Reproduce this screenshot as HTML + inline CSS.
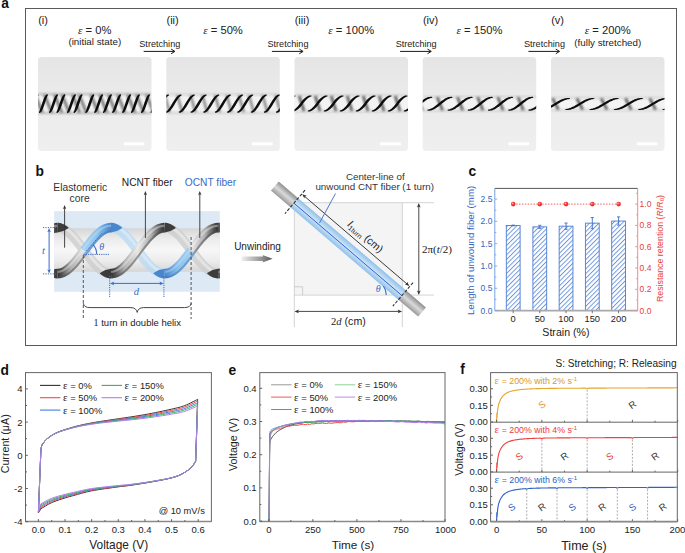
<!DOCTYPE html><html><head><meta charset="utf-8"><style>html,body{margin:0;padding:0;background:#fff;overflow:hidden}svg{display:block}</style></head><body>
<svg width="685" height="553" viewBox="0 0 685 553">
<defs>
<linearGradient id="photoBg" x1="0" y1="0" x2="0" y2="1">
 <stop offset="0" stop-color="#e5e5e5"/><stop offset="0.45" stop-color="#ebebeb"/><stop offset="1" stop-color="#efefef"/>
</linearGradient>
<linearGradient id="band" x1="0" y1="0" x2="0" y2="1">
 <stop offset="0" stop-color="#d8d8d8"/><stop offset="0.5" stop-color="#f4f4f4"/><stop offset="1" stop-color="#d8d8d8"/>
</linearGradient>
<filter id="blur1" x="-20%" y="-20%" width="140%" height="140%"><feGaussianBlur stdDeviation="0.9"/></filter>
<filter id="blur05"><feGaussianBlur stdDeviation="0.35"/></filter>
<linearGradient id="core" x1="0" y1="0" x2="0" y2="1">
 <stop offset="0" stop-color="#d6d6d6"/><stop offset="0.25" stop-color="#ececec"/><stop offset="0.5" stop-color="#f7f7f7"/><stop offset="0.75" stop-color="#ececec"/><stop offset="1" stop-color="#d6d6d6"/>
</linearGradient>
<linearGradient id="rodG" x1="0" y1="0" x2="1" y2="0">
 <stop offset="0" stop-color="#9a9a9a"/><stop offset="0.45" stop-color="#dcdcdc"/><stop offset="1" stop-color="#a8a8a8"/>
</linearGradient>
<linearGradient id="rodB" x1="0" y1="0" x2="1" y2="0">
 <stop offset="0" stop-color="#a9cdee"/><stop offset="0.45" stop-color="#d6e9f8"/><stop offset="1" stop-color="#a9cdee"/>
</linearGradient>
<linearGradient id="unw" x1="0" y1="0" x2="1" y2="0">
 <stop offset="0" stop-color="#f0f0f0"/><stop offset="0.7" stop-color="#8a8a8a"/><stop offset="1" stop-color="#555"/>
</linearGradient>
<pattern id="hatch" patternUnits="userSpaceOnUse" width="3.3" height="3.3" patternTransform="rotate(45)">
 <rect width="3.3" height="3.3" fill="#fff"/><rect x="0" y="0" width="0.95" height="3.3" fill="#6e96de"/>
</pattern>
</defs>
<rect width="685" height="553" fill="#fff"/>
<rect x="25.5" y="8.5" width="651" height="337" fill="none" stroke="#5a5a5a" stroke-width="1"/>
<text x="1.20" y="7.60" font-size="13.8" fill="#111" text-anchor="start" font-family='"Liberation Sans", sans-serif' font-weight="bold" font-style="normal" >a</text>
<text x="38.20" y="24.40" font-size="11" fill="#222" text-anchor="start" font-family='"Liberation Sans", sans-serif' font-weight="normal" font-style="normal" >(i)</text>
<text x="94.75" y="34" font-size="11.2" fill="#222" text-anchor="middle" font-family='"Liberation Sans", sans-serif'><tspan font-family='"Liberation Serif", serif' font-style="italic">ε</tspan> = 0%</text>
<text x="166.50" y="24.40" font-size="11" fill="#222" text-anchor="start" font-family='"Liberation Sans", sans-serif' font-weight="normal" font-style="normal" >(ii)</text>
<text x="223.05" y="34" font-size="11.2" fill="#222" text-anchor="middle" font-family='"Liberation Sans", sans-serif'><tspan font-family='"Liberation Serif", serif' font-style="italic">ε</tspan> = 50%</text>
<text x="139.30" y="47.00" font-size="9.1" fill="#222" text-anchor="start" font-family='"Liberation Sans", sans-serif' font-weight="normal" font-style="normal" >Stretching</text>
<line x1="143.70" y1="51.40" x2="174.40" y2="51.40" stroke="#1a1a1a" stroke-width="1.0" />
<path d="M171.10,49.10 L174.90,51.4 L171.10,53.70" stroke="#1a1a1a" stroke-width="1.0" fill="none"/>
<text x="294.70" y="24.40" font-size="11" fill="#222" text-anchor="start" font-family='"Liberation Sans", sans-serif' font-weight="normal" font-style="normal" >(iii)</text>
<text x="351.25" y="34" font-size="11.2" fill="#222" text-anchor="middle" font-family='"Liberation Sans", sans-serif'><tspan font-family='"Liberation Serif", serif' font-style="italic">ε</tspan> = 100%</text>
<text x="267.50" y="47.00" font-size="9.1" fill="#222" text-anchor="start" font-family='"Liberation Sans", sans-serif' font-weight="normal" font-style="normal" >Stretching</text>
<line x1="271.90" y1="51.40" x2="302.60" y2="51.40" stroke="#1a1a1a" stroke-width="1.0" />
<path d="M299.30,49.10 L303.10,51.4 L299.30,53.70" stroke="#1a1a1a" stroke-width="1.0" fill="none"/>
<text x="422.90" y="24.40" font-size="11" fill="#222" text-anchor="start" font-family='"Liberation Sans", sans-serif' font-weight="normal" font-style="normal" >(iv)</text>
<text x="479.45" y="34" font-size="11.2" fill="#222" text-anchor="middle" font-family='"Liberation Sans", sans-serif'><tspan font-family='"Liberation Serif", serif' font-style="italic">ε</tspan> = 150%</text>
<text x="395.70" y="47.00" font-size="9.1" fill="#222" text-anchor="start" font-family='"Liberation Sans", sans-serif' font-weight="normal" font-style="normal" >Stretching</text>
<line x1="400.10" y1="51.40" x2="430.80" y2="51.40" stroke="#1a1a1a" stroke-width="1.0" />
<path d="M427.50,49.10 L431.30,51.4 L427.50,53.70" stroke="#1a1a1a" stroke-width="1.0" fill="none"/>
<text x="551.20" y="24.40" font-size="11" fill="#222" text-anchor="start" font-family='"Liberation Sans", sans-serif' font-weight="normal" font-style="normal" >(v)</text>
<text x="607.75" y="34" font-size="11.2" fill="#222" text-anchor="middle" font-family='"Liberation Sans", sans-serif'><tspan font-family='"Liberation Serif", serif' font-style="italic">ε</tspan> = 200%</text>
<text x="524.00" y="47.00" font-size="9.1" fill="#222" text-anchor="start" font-family='"Liberation Sans", sans-serif' font-weight="normal" font-style="normal" >Stretching</text>
<line x1="528.40" y1="51.40" x2="559.10" y2="51.40" stroke="#1a1a1a" stroke-width="1.0" />
<path d="M555.80,49.10 L559.60,51.4 L555.80,53.70" stroke="#1a1a1a" stroke-width="1.0" fill="none"/>
<text x="94.80" y="45.30" font-size="9.8" fill="#222" text-anchor="middle" font-family='"Liberation Sans", sans-serif' font-weight="normal" font-style="normal" >(initial state)</text>
<text x="607.80" y="45.50" font-size="9.8" fill="#222" text-anchor="middle" font-family='"Liberation Sans", sans-serif' font-weight="normal" font-style="normal" >(fully stretched)</text>
<rect x="38" y="57" width="113.5" height="94" rx="3.5" fill="url(#photoBg)"/>
<clipPath id="pc0"><rect x="38" y="89.6" width="113.5" height="28.0"/></clipPath>
<g clip-path="url(#pc0)">
<rect x="38" y="93.6" width="113.5" height="20.0" fill="#f3f3f3"/>
<path d="M38,94.19999999999999 h113.5 M38,113.0 h113.5" stroke="#a8a8a8" stroke-width="1.6" filter="url(#blur1)" opacity="1.0"/>
<path d="M34.93,94.60 L42.38,112.60 M44.33,94.60 L51.78,112.60 M54.43,94.60 L61.88,112.60 M61.83,94.60 L69.28,112.60 M72.33,94.60 L79.78,112.60 M78.93,94.60 L86.38,112.60 M90.73,94.60 L98.18,112.60 M99.53,94.60 L106.98,112.60 M108.33,94.60 L115.78,112.60 M117.53,94.60 L124.98,112.60 M127.53,94.60 L134.98,112.60 M136.33,94.60 L143.78,112.60 M146.43,94.60 L153.88,112.60 M155.93,94.60 L163.38,112.60" stroke="#6a6a6a" stroke-width="3.0" fill="none" filter="url(#blur1)" opacity="0.85"/>
<path d="M29.91,112.93 L30.37,112.91 L30.81,112.67 L31.22,112.34 L31.62,111.92 L31.99,111.44 L32.36,110.89 L32.71,110.28 L33.05,109.62 L33.39,108.91 L33.71,108.16 L34.03,107.37 L34.34,106.56 L34.65,105.72 L34.94,104.87 L35.23,104.01 L35.52,103.16 L35.79,102.31 L36.06,101.48 L36.32,100.68 L36.58,99.91 L36.83,99.17 L37.07,98.48 L37.30,97.85 L37.52,97.27 L37.73,96.74 L37.92,96.29 L38.10,95.90 L38.26,95.56 L38.40,95.28 L38.51,94.93 L38.09,94.27 L37.63,94.29 L37.19,94.53 L36.78,94.86 L36.38,95.28 L36.01,95.76 L35.64,96.31 L35.29,96.92 L34.95,97.58 L34.61,98.29 L34.29,99.04 L33.97,99.83 L33.66,100.64 L33.35,101.48 L33.06,102.33 L32.77,103.19 L32.48,104.04 L32.21,104.89 L31.94,105.72 L31.68,106.52 L31.42,107.29 L31.17,108.03 L30.93,108.72 L30.70,109.35 L30.48,109.93 L30.27,110.46 L30.08,110.91 L29.90,111.30 L29.74,111.64 L29.60,111.92 L29.49,112.27 Z M39.31,112.93 L39.77,112.91 L40.21,112.67 L40.62,112.34 L41.02,111.92 L41.39,111.44 L41.76,110.89 L42.11,110.28 L42.45,109.62 L42.79,108.91 L43.11,108.16 L43.43,107.37 L43.74,106.56 L44.05,105.72 L44.34,104.87 L44.63,104.01 L44.92,103.16 L45.19,102.31 L45.46,101.48 L45.72,100.68 L45.98,99.91 L46.23,99.17 L46.47,98.48 L46.70,97.85 L46.92,97.27 L47.13,96.74 L47.32,96.29 L47.50,95.90 L47.66,95.56 L47.80,95.28 L47.91,94.93 L47.49,94.27 L47.03,94.29 L46.59,94.53 L46.18,94.86 L45.78,95.28 L45.41,95.76 L45.04,96.31 L44.69,96.92 L44.35,97.58 L44.01,98.29 L43.69,99.04 L43.37,99.83 L43.06,100.64 L42.75,101.48 L42.46,102.33 L42.17,103.19 L41.88,104.04 L41.61,104.89 L41.34,105.72 L41.08,106.52 L40.82,107.29 L40.57,108.03 L40.33,108.72 L40.10,109.35 L39.88,109.93 L39.67,110.46 L39.48,110.91 L39.30,111.30 L39.14,111.64 L39.00,111.92 L38.89,112.27 Z M49.41,112.93 L49.87,112.91 L50.31,112.67 L50.72,112.34 L51.12,111.92 L51.49,111.44 L51.86,110.89 L52.21,110.28 L52.55,109.62 L52.89,108.91 L53.21,108.16 L53.53,107.37 L53.84,106.56 L54.15,105.72 L54.44,104.87 L54.73,104.01 L55.02,103.16 L55.29,102.31 L55.56,101.48 L55.82,100.68 L56.08,99.91 L56.33,99.17 L56.57,98.48 L56.80,97.85 L57.02,97.27 L57.23,96.74 L57.42,96.29 L57.60,95.90 L57.76,95.56 L57.90,95.28 L58.01,94.93 L57.59,94.27 L57.13,94.29 L56.69,94.53 L56.28,94.86 L55.88,95.28 L55.51,95.76 L55.14,96.31 L54.79,96.92 L54.45,97.58 L54.11,98.29 L53.79,99.04 L53.47,99.83 L53.16,100.64 L52.85,101.48 L52.56,102.33 L52.27,103.19 L51.98,104.04 L51.71,104.89 L51.44,105.72 L51.18,106.52 L50.92,107.29 L50.67,108.03 L50.43,108.72 L50.20,109.35 L49.98,109.93 L49.77,110.46 L49.58,110.91 L49.40,111.30 L49.24,111.64 L49.10,111.92 L48.99,112.27 Z M56.81,112.93 L57.27,112.91 L57.71,112.67 L58.12,112.34 L58.52,111.92 L58.89,111.44 L59.26,110.89 L59.61,110.28 L59.95,109.62 L60.29,108.91 L60.61,108.16 L60.93,107.37 L61.24,106.56 L61.55,105.72 L61.84,104.87 L62.13,104.01 L62.42,103.16 L62.69,102.31 L62.96,101.48 L63.22,100.68 L63.48,99.91 L63.73,99.17 L63.97,98.48 L64.20,97.85 L64.42,97.27 L64.63,96.74 L64.82,96.29 L65.00,95.90 L65.16,95.56 L65.30,95.28 L65.41,94.93 L64.99,94.27 L64.53,94.29 L64.09,94.53 L63.68,94.86 L63.28,95.28 L62.91,95.76 L62.54,96.31 L62.19,96.92 L61.85,97.58 L61.51,98.29 L61.19,99.04 L60.87,99.83 L60.56,100.64 L60.25,101.48 L59.96,102.33 L59.67,103.19 L59.38,104.04 L59.11,104.89 L58.84,105.72 L58.58,106.52 L58.32,107.29 L58.07,108.03 L57.83,108.72 L57.60,109.35 L57.38,109.93 L57.17,110.46 L56.98,110.91 L56.80,111.30 L56.64,111.64 L56.50,111.92 L56.39,112.27 Z M67.31,112.93 L67.77,112.91 L68.21,112.67 L68.62,112.34 L69.02,111.92 L69.39,111.44 L69.76,110.89 L70.11,110.28 L70.45,109.62 L70.79,108.91 L71.11,108.16 L71.43,107.37 L71.74,106.56 L72.05,105.72 L72.34,104.87 L72.63,104.01 L72.92,103.16 L73.19,102.31 L73.46,101.48 L73.72,100.68 L73.98,99.91 L74.23,99.17 L74.47,98.48 L74.70,97.85 L74.92,97.27 L75.13,96.74 L75.32,96.29 L75.50,95.90 L75.66,95.56 L75.80,95.28 L75.91,94.93 L75.49,94.27 L75.03,94.29 L74.59,94.53 L74.18,94.86 L73.78,95.28 L73.41,95.76 L73.04,96.31 L72.69,96.92 L72.35,97.58 L72.01,98.29 L71.69,99.04 L71.37,99.83 L71.06,100.64 L70.75,101.48 L70.46,102.33 L70.17,103.19 L69.88,104.04 L69.61,104.89 L69.34,105.72 L69.08,106.52 L68.82,107.29 L68.57,108.03 L68.33,108.72 L68.10,109.35 L67.88,109.93 L67.67,110.46 L67.48,110.91 L67.30,111.30 L67.14,111.64 L67.00,111.92 L66.89,112.27 Z M73.91,112.93 L74.37,112.91 L74.81,112.67 L75.22,112.34 L75.62,111.92 L75.99,111.44 L76.36,110.89 L76.71,110.28 L77.05,109.62 L77.39,108.91 L77.71,108.16 L78.03,107.37 L78.34,106.56 L78.65,105.72 L78.94,104.87 L79.23,104.01 L79.52,103.16 L79.79,102.31 L80.06,101.48 L80.32,100.68 L80.58,99.91 L80.83,99.17 L81.07,98.48 L81.30,97.85 L81.52,97.27 L81.73,96.74 L81.92,96.29 L82.10,95.90 L82.26,95.56 L82.40,95.28 L82.51,94.93 L82.09,94.27 L81.63,94.29 L81.19,94.53 L80.78,94.86 L80.38,95.28 L80.01,95.76 L79.64,96.31 L79.29,96.92 L78.95,97.58 L78.61,98.29 L78.29,99.04 L77.97,99.83 L77.66,100.64 L77.35,101.48 L77.06,102.33 L76.77,103.19 L76.48,104.04 L76.21,104.89 L75.94,105.72 L75.68,106.52 L75.42,107.29 L75.17,108.03 L74.93,108.72 L74.70,109.35 L74.48,109.93 L74.27,110.46 L74.08,110.91 L73.90,111.30 L73.74,111.64 L73.60,111.92 L73.49,112.27 Z M85.71,112.93 L86.17,112.91 L86.61,112.67 L87.02,112.34 L87.42,111.92 L87.79,111.44 L88.16,110.89 L88.51,110.28 L88.85,109.62 L89.19,108.91 L89.51,108.16 L89.83,107.37 L90.14,106.56 L90.45,105.72 L90.74,104.87 L91.03,104.01 L91.32,103.16 L91.59,102.31 L91.86,101.48 L92.12,100.68 L92.38,99.91 L92.63,99.17 L92.87,98.48 L93.10,97.85 L93.32,97.27 L93.53,96.74 L93.72,96.29 L93.90,95.90 L94.06,95.56 L94.20,95.28 L94.31,94.93 L93.89,94.27 L93.43,94.29 L92.99,94.53 L92.58,94.86 L92.18,95.28 L91.81,95.76 L91.44,96.31 L91.09,96.92 L90.75,97.58 L90.41,98.29 L90.09,99.04 L89.77,99.83 L89.46,100.64 L89.15,101.48 L88.86,102.33 L88.57,103.19 L88.28,104.04 L88.01,104.89 L87.74,105.72 L87.48,106.52 L87.22,107.29 L86.97,108.03 L86.73,108.72 L86.50,109.35 L86.28,109.93 L86.07,110.46 L85.88,110.91 L85.70,111.30 L85.54,111.64 L85.40,111.92 L85.29,112.27 Z M94.51,112.93 L94.97,112.91 L95.41,112.67 L95.82,112.34 L96.22,111.92 L96.59,111.44 L96.96,110.89 L97.31,110.28 L97.65,109.62 L97.99,108.91 L98.31,108.16 L98.63,107.37 L98.94,106.56 L99.25,105.72 L99.54,104.87 L99.83,104.01 L100.12,103.16 L100.39,102.31 L100.66,101.48 L100.92,100.68 L101.18,99.91 L101.43,99.17 L101.67,98.48 L101.90,97.85 L102.12,97.27 L102.33,96.74 L102.52,96.29 L102.70,95.90 L102.86,95.56 L103.00,95.28 L103.11,94.93 L102.69,94.27 L102.23,94.29 L101.79,94.53 L101.38,94.86 L100.98,95.28 L100.61,95.76 L100.24,96.31 L99.89,96.92 L99.55,97.58 L99.21,98.29 L98.89,99.04 L98.57,99.83 L98.26,100.64 L97.95,101.48 L97.66,102.33 L97.37,103.19 L97.08,104.04 L96.81,104.89 L96.54,105.72 L96.28,106.52 L96.02,107.29 L95.77,108.03 L95.53,108.72 L95.30,109.35 L95.08,109.93 L94.87,110.46 L94.68,110.91 L94.50,111.30 L94.34,111.64 L94.20,111.92 L94.09,112.27 Z M103.31,112.93 L103.77,112.91 L104.21,112.67 L104.62,112.34 L105.02,111.92 L105.39,111.44 L105.76,110.89 L106.11,110.28 L106.45,109.62 L106.79,108.91 L107.11,108.16 L107.43,107.37 L107.74,106.56 L108.05,105.72 L108.34,104.87 L108.63,104.01 L108.92,103.16 L109.19,102.31 L109.46,101.48 L109.72,100.68 L109.98,99.91 L110.23,99.17 L110.47,98.48 L110.70,97.85 L110.92,97.27 L111.13,96.74 L111.32,96.29 L111.50,95.90 L111.66,95.56 L111.80,95.28 L111.91,94.93 L111.49,94.27 L111.03,94.29 L110.59,94.53 L110.18,94.86 L109.78,95.28 L109.41,95.76 L109.04,96.31 L108.69,96.92 L108.35,97.58 L108.01,98.29 L107.69,99.04 L107.37,99.83 L107.06,100.64 L106.75,101.48 L106.46,102.33 L106.17,103.19 L105.88,104.04 L105.61,104.89 L105.34,105.72 L105.08,106.52 L104.82,107.29 L104.57,108.03 L104.33,108.72 L104.10,109.35 L103.88,109.93 L103.67,110.46 L103.48,110.91 L103.30,111.30 L103.14,111.64 L103.00,111.92 L102.89,112.27 Z M112.51,112.93 L112.97,112.91 L113.41,112.67 L113.82,112.34 L114.22,111.92 L114.59,111.44 L114.96,110.89 L115.31,110.28 L115.65,109.62 L115.99,108.91 L116.31,108.16 L116.63,107.37 L116.94,106.56 L117.25,105.72 L117.54,104.87 L117.83,104.01 L118.12,103.16 L118.39,102.31 L118.66,101.48 L118.92,100.68 L119.18,99.91 L119.43,99.17 L119.67,98.48 L119.90,97.85 L120.12,97.27 L120.33,96.74 L120.52,96.29 L120.70,95.90 L120.86,95.56 L121.00,95.28 L121.11,94.93 L120.69,94.27 L120.23,94.29 L119.79,94.53 L119.38,94.86 L118.98,95.28 L118.61,95.76 L118.24,96.31 L117.89,96.92 L117.55,97.58 L117.21,98.29 L116.89,99.04 L116.57,99.83 L116.26,100.64 L115.95,101.48 L115.66,102.33 L115.37,103.19 L115.08,104.04 L114.81,104.89 L114.54,105.72 L114.28,106.52 L114.02,107.29 L113.77,108.03 L113.53,108.72 L113.30,109.35 L113.08,109.93 L112.87,110.46 L112.68,110.91 L112.50,111.30 L112.34,111.64 L112.20,111.92 L112.09,112.27 Z M122.51,112.93 L122.97,112.91 L123.41,112.67 L123.82,112.34 L124.22,111.92 L124.59,111.44 L124.96,110.89 L125.31,110.28 L125.65,109.62 L125.99,108.91 L126.31,108.16 L126.63,107.37 L126.94,106.56 L127.25,105.72 L127.54,104.87 L127.83,104.01 L128.12,103.16 L128.39,102.31 L128.66,101.48 L128.92,100.68 L129.18,99.91 L129.43,99.17 L129.67,98.48 L129.90,97.85 L130.12,97.27 L130.33,96.74 L130.52,96.29 L130.70,95.90 L130.86,95.56 L131.00,95.28 L131.11,94.93 L130.69,94.27 L130.23,94.29 L129.79,94.53 L129.38,94.86 L128.98,95.28 L128.61,95.76 L128.24,96.31 L127.89,96.92 L127.55,97.58 L127.21,98.29 L126.89,99.04 L126.57,99.83 L126.26,100.64 L125.95,101.48 L125.66,102.33 L125.37,103.19 L125.08,104.04 L124.81,104.89 L124.54,105.72 L124.28,106.52 L124.02,107.29 L123.77,108.03 L123.53,108.72 L123.30,109.35 L123.08,109.93 L122.87,110.46 L122.68,110.91 L122.50,111.30 L122.34,111.64 L122.20,111.92 L122.09,112.27 Z M131.31,112.93 L131.77,112.91 L132.21,112.67 L132.62,112.34 L133.02,111.92 L133.39,111.44 L133.76,110.89 L134.11,110.28 L134.45,109.62 L134.79,108.91 L135.11,108.16 L135.43,107.37 L135.74,106.56 L136.05,105.72 L136.34,104.87 L136.63,104.01 L136.92,103.16 L137.19,102.31 L137.46,101.48 L137.72,100.68 L137.98,99.91 L138.23,99.17 L138.47,98.48 L138.70,97.85 L138.92,97.27 L139.13,96.74 L139.32,96.29 L139.50,95.90 L139.66,95.56 L139.80,95.28 L139.91,94.93 L139.49,94.27 L139.03,94.29 L138.59,94.53 L138.18,94.86 L137.78,95.28 L137.41,95.76 L137.04,96.31 L136.69,96.92 L136.35,97.58 L136.01,98.29 L135.69,99.04 L135.37,99.83 L135.06,100.64 L134.75,101.48 L134.46,102.33 L134.17,103.19 L133.88,104.04 L133.61,104.89 L133.34,105.72 L133.08,106.52 L132.82,107.29 L132.57,108.03 L132.33,108.72 L132.10,109.35 L131.88,109.93 L131.67,110.46 L131.48,110.91 L131.30,111.30 L131.14,111.64 L131.00,111.92 L130.89,112.27 Z M141.41,112.93 L141.87,112.91 L142.31,112.67 L142.72,112.34 L143.12,111.92 L143.49,111.44 L143.86,110.89 L144.21,110.28 L144.55,109.62 L144.89,108.91 L145.21,108.16 L145.53,107.37 L145.84,106.56 L146.15,105.72 L146.44,104.87 L146.73,104.01 L147.02,103.16 L147.29,102.31 L147.56,101.48 L147.82,100.68 L148.08,99.91 L148.33,99.17 L148.57,98.48 L148.80,97.85 L149.02,97.27 L149.23,96.74 L149.42,96.29 L149.60,95.90 L149.76,95.56 L149.90,95.28 L150.01,94.93 L149.59,94.27 L149.13,94.29 L148.69,94.53 L148.28,94.86 L147.88,95.28 L147.51,95.76 L147.14,96.31 L146.79,96.92 L146.45,97.58 L146.11,98.29 L145.79,99.04 L145.47,99.83 L145.16,100.64 L144.85,101.48 L144.56,102.33 L144.27,103.19 L143.98,104.04 L143.71,104.89 L143.44,105.72 L143.18,106.52 L142.92,107.29 L142.67,108.03 L142.43,108.72 L142.20,109.35 L141.98,109.93 L141.77,110.46 L141.58,110.91 L141.40,111.30 L141.24,111.64 L141.10,111.92 L140.99,112.27 Z M150.91,112.93 L151.37,112.91 L151.81,112.67 L152.22,112.34 L152.62,111.92 L152.99,111.44 L153.36,110.89 L153.71,110.28 L154.05,109.62 L154.39,108.91 L154.71,108.16 L155.03,107.37 L155.34,106.56 L155.65,105.72 L155.94,104.87 L156.23,104.01 L156.52,103.16 L156.79,102.31 L157.06,101.48 L157.32,100.68 L157.58,99.91 L157.83,99.17 L158.07,98.48 L158.30,97.85 L158.52,97.27 L158.73,96.74 L158.92,96.29 L159.10,95.90 L159.26,95.56 L159.40,95.28 L159.51,94.93 L159.09,94.27 L158.63,94.29 L158.19,94.53 L157.78,94.86 L157.38,95.28 L157.01,95.76 L156.64,96.31 L156.29,96.92 L155.95,97.58 L155.61,98.29 L155.29,99.04 L154.97,99.83 L154.66,100.64 L154.35,101.48 L154.06,102.33 L153.77,103.19 L153.48,104.04 L153.21,104.89 L152.94,105.72 L152.68,106.52 L152.42,107.29 L152.17,108.03 L151.93,108.72 L151.70,109.35 L151.48,109.93 L151.27,110.46 L151.08,110.91 L150.90,111.30 L150.74,111.64 L150.60,111.92 L150.49,112.27 Z" fill="#0a0a0a" filter="url(#blur05)"/>
</g>
<rect x="123.80" y="142.3" width="20.5" height="3.1" fill="#fff"/>
<rect x="166.3" y="57" width="113.5" height="94" rx="3.5" fill="url(#photoBg)"/>
<clipPath id="pc1"><rect x="166.3" y="90.0" width="113.5" height="27.200000000000003"/></clipPath>
<g clip-path="url(#pc1)">
<rect x="166.3" y="94.0" width="113.5" height="19.200000000000003" fill="#f3f3f3"/>
<path d="M166.3,94.6 h113.5 M166.3,112.60000000000001 h113.5" stroke="#a8a8a8" stroke-width="1.6" filter="url(#blur1)" opacity="0.45"/>
<path d="M164.69,95.00 L169.61,112.20 M177.29,95.00 L182.21,112.20 M190.49,95.00 L195.41,112.20 M202.29,95.00 L207.21,112.20 M214.99,95.00 L219.91,112.20 M226.59,95.00 L231.51,112.20 M238.79,95.00 L243.71,112.20 M248.89,95.00 L253.81,112.20 M262.49,95.00 L267.41,112.20 M275.59,95.00 L280.51,112.20 M287.69,95.00 L292.61,112.20" stroke="#707070" stroke-width="2.4" fill="none" filter="url(#blur1)" opacity="0.85"/>
<path d="M153.03,112.57 L153.64,112.74 L154.30,112.69 L154.97,112.50 L155.63,112.19 L156.28,111.78 L156.91,111.28 L157.53,110.70 L158.13,110.05 L158.72,109.33 L159.30,108.57 L159.88,107.75 L160.44,106.91 L160.99,106.03 L161.54,105.14 L162.08,104.24 L162.60,103.34 L163.13,102.45 L163.64,101.59 L164.14,100.76 L164.64,99.97 L165.12,99.22 L165.60,98.54 L166.06,97.91 L166.51,97.36 L166.95,96.88 L167.37,96.47 L167.77,96.14 L168.17,95.86 L168.57,95.64 L169.03,95.37 L168.97,94.63 L168.36,94.46 L167.70,94.51 L167.03,94.70 L166.37,95.01 L165.72,95.42 L165.09,95.92 L164.47,96.50 L163.87,97.15 L163.28,97.87 L162.70,98.63 L162.12,99.45 L161.56,100.29 L161.01,101.17 L160.46,102.06 L159.92,102.96 L159.40,103.86 L158.87,104.75 L158.36,105.61 L157.86,106.44 L157.36,107.23 L156.88,107.98 L156.40,108.66 L155.94,109.29 L155.49,109.84 L155.05,110.32 L154.63,110.73 L154.23,111.06 L153.83,111.34 L153.43,111.56 L152.97,111.83 Z M165.63,112.57 L166.24,112.74 L166.90,112.69 L167.57,112.50 L168.23,112.19 L168.88,111.78 L169.51,111.28 L170.13,110.70 L170.73,110.05 L171.32,109.33 L171.90,108.57 L172.48,107.75 L173.04,106.91 L173.59,106.03 L174.14,105.14 L174.68,104.24 L175.20,103.34 L175.73,102.45 L176.24,101.59 L176.74,100.76 L177.24,99.97 L177.72,99.22 L178.20,98.54 L178.66,97.91 L179.11,97.36 L179.55,96.88 L179.97,96.47 L180.37,96.14 L180.77,95.86 L181.17,95.64 L181.63,95.37 L181.57,94.63 L180.96,94.46 L180.30,94.51 L179.63,94.70 L178.97,95.01 L178.32,95.42 L177.69,95.92 L177.07,96.50 L176.47,97.15 L175.88,97.87 L175.30,98.63 L174.72,99.45 L174.16,100.29 L173.61,101.17 L173.06,102.06 L172.52,102.96 L172.00,103.86 L171.47,104.75 L170.96,105.61 L170.46,106.44 L169.96,107.23 L169.48,107.98 L169.00,108.66 L168.54,109.29 L168.09,109.84 L167.65,110.32 L167.23,110.73 L166.83,111.06 L166.43,111.34 L166.03,111.56 L165.57,111.83 Z M178.83,112.57 L179.44,112.74 L180.10,112.69 L180.77,112.50 L181.43,112.19 L182.08,111.78 L182.71,111.28 L183.33,110.70 L183.93,110.05 L184.52,109.33 L185.10,108.57 L185.68,107.75 L186.24,106.91 L186.79,106.03 L187.34,105.14 L187.88,104.24 L188.40,103.34 L188.93,102.45 L189.44,101.59 L189.94,100.76 L190.44,99.97 L190.92,99.22 L191.40,98.54 L191.86,97.91 L192.31,97.36 L192.75,96.88 L193.17,96.47 L193.57,96.14 L193.97,95.86 L194.37,95.64 L194.83,95.37 L194.77,94.63 L194.16,94.46 L193.50,94.51 L192.83,94.70 L192.17,95.01 L191.52,95.42 L190.89,95.92 L190.27,96.50 L189.67,97.15 L189.08,97.87 L188.50,98.63 L187.92,99.45 L187.36,100.29 L186.81,101.17 L186.26,102.06 L185.72,102.96 L185.20,103.86 L184.67,104.75 L184.16,105.61 L183.66,106.44 L183.16,107.23 L182.68,107.98 L182.20,108.66 L181.74,109.29 L181.29,109.84 L180.85,110.32 L180.43,110.73 L180.03,111.06 L179.63,111.34 L179.23,111.56 L178.77,111.83 Z M190.63,112.57 L191.24,112.74 L191.90,112.69 L192.57,112.50 L193.23,112.19 L193.88,111.78 L194.51,111.28 L195.13,110.70 L195.73,110.05 L196.32,109.33 L196.90,108.57 L197.48,107.75 L198.04,106.91 L198.59,106.03 L199.14,105.14 L199.68,104.24 L200.20,103.34 L200.73,102.45 L201.24,101.59 L201.74,100.76 L202.24,99.97 L202.72,99.22 L203.20,98.54 L203.66,97.91 L204.11,97.36 L204.55,96.88 L204.97,96.47 L205.37,96.14 L205.77,95.86 L206.17,95.64 L206.63,95.37 L206.57,94.63 L205.96,94.46 L205.30,94.51 L204.63,94.70 L203.97,95.01 L203.32,95.42 L202.69,95.92 L202.07,96.50 L201.47,97.15 L200.88,97.87 L200.30,98.63 L199.72,99.45 L199.16,100.29 L198.61,101.17 L198.06,102.06 L197.52,102.96 L197.00,103.86 L196.47,104.75 L195.96,105.61 L195.46,106.44 L194.96,107.23 L194.48,107.98 L194.00,108.66 L193.54,109.29 L193.09,109.84 L192.65,110.32 L192.23,110.73 L191.83,111.06 L191.43,111.34 L191.03,111.56 L190.57,111.83 Z M203.33,112.57 L203.94,112.74 L204.60,112.69 L205.27,112.50 L205.93,112.19 L206.58,111.78 L207.21,111.28 L207.83,110.70 L208.43,110.05 L209.02,109.33 L209.60,108.57 L210.18,107.75 L210.74,106.91 L211.29,106.03 L211.84,105.14 L212.38,104.24 L212.90,103.34 L213.43,102.45 L213.94,101.59 L214.44,100.76 L214.94,99.97 L215.42,99.22 L215.90,98.54 L216.36,97.91 L216.81,97.36 L217.25,96.88 L217.67,96.47 L218.07,96.14 L218.47,95.86 L218.87,95.64 L219.33,95.37 L219.27,94.63 L218.66,94.46 L218.00,94.51 L217.33,94.70 L216.67,95.01 L216.02,95.42 L215.39,95.92 L214.77,96.50 L214.17,97.15 L213.58,97.87 L213.00,98.63 L212.42,99.45 L211.86,100.29 L211.31,101.17 L210.76,102.06 L210.22,102.96 L209.70,103.86 L209.17,104.75 L208.66,105.61 L208.16,106.44 L207.66,107.23 L207.18,107.98 L206.70,108.66 L206.24,109.29 L205.79,109.84 L205.35,110.32 L204.93,110.73 L204.53,111.06 L204.13,111.34 L203.73,111.56 L203.27,111.83 Z M214.93,112.57 L215.54,112.74 L216.20,112.69 L216.87,112.50 L217.53,112.19 L218.18,111.78 L218.81,111.28 L219.43,110.70 L220.03,110.05 L220.62,109.33 L221.20,108.57 L221.78,107.75 L222.34,106.91 L222.89,106.03 L223.44,105.14 L223.98,104.24 L224.50,103.34 L225.03,102.45 L225.54,101.59 L226.04,100.76 L226.54,99.97 L227.02,99.22 L227.50,98.54 L227.96,97.91 L228.41,97.36 L228.85,96.88 L229.27,96.47 L229.67,96.14 L230.07,95.86 L230.47,95.64 L230.93,95.37 L230.87,94.63 L230.26,94.46 L229.60,94.51 L228.93,94.70 L228.27,95.01 L227.62,95.42 L226.99,95.92 L226.37,96.50 L225.77,97.15 L225.18,97.87 L224.60,98.63 L224.02,99.45 L223.46,100.29 L222.91,101.17 L222.36,102.06 L221.82,102.96 L221.30,103.86 L220.77,104.75 L220.26,105.61 L219.76,106.44 L219.26,107.23 L218.78,107.98 L218.30,108.66 L217.84,109.29 L217.39,109.84 L216.95,110.32 L216.53,110.73 L216.13,111.06 L215.73,111.34 L215.33,111.56 L214.87,111.83 Z M227.13,112.57 L227.74,112.74 L228.40,112.69 L229.07,112.50 L229.73,112.19 L230.38,111.78 L231.01,111.28 L231.63,110.70 L232.23,110.05 L232.82,109.33 L233.40,108.57 L233.98,107.75 L234.54,106.91 L235.09,106.03 L235.64,105.14 L236.18,104.24 L236.70,103.34 L237.23,102.45 L237.74,101.59 L238.24,100.76 L238.74,99.97 L239.22,99.22 L239.70,98.54 L240.16,97.91 L240.61,97.36 L241.05,96.88 L241.47,96.47 L241.87,96.14 L242.27,95.86 L242.67,95.64 L243.13,95.37 L243.07,94.63 L242.46,94.46 L241.80,94.51 L241.13,94.70 L240.47,95.01 L239.82,95.42 L239.19,95.92 L238.57,96.50 L237.97,97.15 L237.38,97.87 L236.80,98.63 L236.22,99.45 L235.66,100.29 L235.11,101.17 L234.56,102.06 L234.02,102.96 L233.50,103.86 L232.97,104.75 L232.46,105.61 L231.96,106.44 L231.46,107.23 L230.98,107.98 L230.50,108.66 L230.04,109.29 L229.59,109.84 L229.15,110.32 L228.73,110.73 L228.33,111.06 L227.93,111.34 L227.53,111.56 L227.07,111.83 Z M237.23,112.57 L237.84,112.74 L238.50,112.69 L239.17,112.50 L239.83,112.19 L240.48,111.78 L241.11,111.28 L241.73,110.70 L242.33,110.05 L242.92,109.33 L243.50,108.57 L244.08,107.75 L244.64,106.91 L245.19,106.03 L245.74,105.14 L246.28,104.24 L246.80,103.34 L247.33,102.45 L247.84,101.59 L248.34,100.76 L248.84,99.97 L249.32,99.22 L249.80,98.54 L250.26,97.91 L250.71,97.36 L251.15,96.88 L251.57,96.47 L251.97,96.14 L252.37,95.86 L252.77,95.64 L253.23,95.37 L253.17,94.63 L252.56,94.46 L251.90,94.51 L251.23,94.70 L250.57,95.01 L249.92,95.42 L249.29,95.92 L248.67,96.50 L248.07,97.15 L247.48,97.87 L246.90,98.63 L246.32,99.45 L245.76,100.29 L245.21,101.17 L244.66,102.06 L244.12,102.96 L243.60,103.86 L243.07,104.75 L242.56,105.61 L242.06,106.44 L241.56,107.23 L241.08,107.98 L240.60,108.66 L240.14,109.29 L239.69,109.84 L239.25,110.32 L238.83,110.73 L238.43,111.06 L238.03,111.34 L237.63,111.56 L237.17,111.83 Z M250.83,112.57 L251.44,112.74 L252.10,112.69 L252.77,112.50 L253.43,112.19 L254.08,111.78 L254.71,111.28 L255.33,110.70 L255.93,110.05 L256.52,109.33 L257.10,108.57 L257.68,107.75 L258.24,106.91 L258.79,106.03 L259.34,105.14 L259.88,104.24 L260.40,103.34 L260.93,102.45 L261.44,101.59 L261.94,100.76 L262.44,99.97 L262.92,99.22 L263.40,98.54 L263.86,97.91 L264.31,97.36 L264.75,96.88 L265.17,96.47 L265.57,96.14 L265.97,95.86 L266.37,95.64 L266.83,95.37 L266.77,94.63 L266.16,94.46 L265.50,94.51 L264.83,94.70 L264.17,95.01 L263.52,95.42 L262.89,95.92 L262.27,96.50 L261.67,97.15 L261.08,97.87 L260.50,98.63 L259.92,99.45 L259.36,100.29 L258.81,101.17 L258.26,102.06 L257.72,102.96 L257.20,103.86 L256.67,104.75 L256.16,105.61 L255.66,106.44 L255.16,107.23 L254.68,107.98 L254.20,108.66 L253.74,109.29 L253.29,109.84 L252.85,110.32 L252.43,110.73 L252.03,111.06 L251.63,111.34 L251.23,111.56 L250.77,111.83 Z M263.93,112.57 L264.54,112.74 L265.20,112.69 L265.87,112.50 L266.53,112.19 L267.18,111.78 L267.81,111.28 L268.43,110.70 L269.03,110.05 L269.62,109.33 L270.20,108.57 L270.78,107.75 L271.34,106.91 L271.89,106.03 L272.44,105.14 L272.98,104.24 L273.50,103.34 L274.03,102.45 L274.54,101.59 L275.04,100.76 L275.54,99.97 L276.02,99.22 L276.50,98.54 L276.96,97.91 L277.41,97.36 L277.85,96.88 L278.27,96.47 L278.67,96.14 L279.07,95.86 L279.47,95.64 L279.93,95.37 L279.87,94.63 L279.26,94.46 L278.60,94.51 L277.93,94.70 L277.27,95.01 L276.62,95.42 L275.99,95.92 L275.37,96.50 L274.77,97.15 L274.18,97.87 L273.60,98.63 L273.02,99.45 L272.46,100.29 L271.91,101.17 L271.36,102.06 L270.82,102.96 L270.30,103.86 L269.77,104.75 L269.26,105.61 L268.76,106.44 L268.26,107.23 L267.78,107.98 L267.30,108.66 L266.84,109.29 L266.39,109.84 L265.95,110.32 L265.53,110.73 L265.13,111.06 L264.73,111.34 L264.33,111.56 L263.87,111.83 Z M276.03,112.57 L276.64,112.74 L277.30,112.69 L277.97,112.50 L278.63,112.19 L279.28,111.78 L279.91,111.28 L280.53,110.70 L281.13,110.05 L281.72,109.33 L282.30,108.57 L282.88,107.75 L283.44,106.91 L283.99,106.03 L284.54,105.14 L285.08,104.24 L285.60,103.34 L286.13,102.45 L286.64,101.59 L287.14,100.76 L287.64,99.97 L288.12,99.22 L288.60,98.54 L289.06,97.91 L289.51,97.36 L289.95,96.88 L290.37,96.47 L290.77,96.14 L291.17,95.86 L291.57,95.64 L292.03,95.37 L291.97,94.63 L291.36,94.46 L290.70,94.51 L290.03,94.70 L289.37,95.01 L288.72,95.42 L288.09,95.92 L287.47,96.50 L286.87,97.15 L286.28,97.87 L285.70,98.63 L285.12,99.45 L284.56,100.29 L284.01,101.17 L283.46,102.06 L282.92,102.96 L282.40,103.86 L281.87,104.75 L281.36,105.61 L280.86,106.44 L280.36,107.23 L279.88,107.98 L279.40,108.66 L278.94,109.29 L278.49,109.84 L278.05,110.32 L277.63,110.73 L277.23,111.06 L276.83,111.34 L276.43,111.56 L275.97,111.83 Z" fill="#0a0a0a" filter="url(#blur05)"/>
</g>
<rect x="252.10" y="142.3" width="20.5" height="3.1" fill="#fff"/>
<rect x="294.5" y="57" width="113.5" height="94" rx="3.5" fill="url(#photoBg)"/>
<clipPath id="pc2"><rect x="294.5" y="91.0" width="113.5" height="25.0"/></clipPath>
<g clip-path="url(#pc2)">
<rect x="294.5" y="95.0" width="113.5" height="17.0" fill="#f3f3f3"/>
<path d="M294.5,95.6 h113.5 M294.5,111.4 h113.5" stroke="#a8a8a8" stroke-width="1.6" filter="url(#blur1)" opacity="0.5"/>
<path d="M283.20,96.00 L288.00,111.00 M299.20,96.00 L304.00,111.00 M315.20,96.00 L320.00,111.00 M331.20,96.00 L336.00,111.00 M347.20,96.00 L352.00,111.00 M363.20,96.00 L368.00,111.00 M379.20,96.00 L384.00,111.00 M395.20,96.00 L400.00,111.00 M411.20,96.00 L416.00,111.00 M427.20,96.00 L432.00,111.00" stroke="#4a4a4a" stroke-width="2.8" fill="none" filter="url(#blur1)" opacity="0.85"/>
<path d="M275.62,111.36 L276.33,111.54 L277.08,111.52 L277.84,111.41 L278.61,111.19 L279.37,110.89 L280.12,110.52 L280.87,110.07 L281.61,109.55 L282.34,108.96 L283.06,108.33 L283.77,107.63 L284.48,106.88 L285.19,106.08 L285.90,105.19 L286.59,104.17 L287.23,103.22 L287.85,102.43 L288.48,101.67 L289.11,100.96 L289.73,100.29 L290.34,99.67 L290.94,99.10 L291.53,98.58 L292.12,98.12 L292.70,97.72 L293.27,97.37 L293.84,97.07 L294.41,96.82 L295.00,96.61 L295.62,96.36 L295.58,95.64 L294.87,95.46 L294.12,95.48 L293.36,95.59 L292.59,95.81 L291.83,96.11 L291.08,96.48 L290.33,96.93 L289.59,97.45 L288.86,98.04 L288.14,98.67 L287.43,99.37 L286.72,100.12 L286.01,100.92 L285.30,101.81 L284.61,102.83 L283.97,103.78 L283.35,104.57 L282.72,105.33 L282.09,106.04 L281.47,106.71 L280.86,107.33 L280.26,107.90 L279.67,108.42 L279.08,108.88 L278.50,109.28 L277.93,109.63 L277.36,109.93 L276.79,110.18 L276.20,110.39 L275.58,110.64 Z M291.62,111.36 L292.33,111.54 L293.08,111.52 L293.84,111.41 L294.61,111.19 L295.37,110.89 L296.12,110.52 L296.87,110.07 L297.61,109.55 L298.34,108.96 L299.06,108.33 L299.77,107.63 L300.48,106.88 L301.19,106.08 L301.90,105.19 L302.59,104.17 L303.23,103.22 L303.85,102.43 L304.48,101.67 L305.11,100.96 L305.73,100.29 L306.34,99.67 L306.94,99.10 L307.53,98.58 L308.12,98.12 L308.70,97.72 L309.27,97.37 L309.84,97.07 L310.41,96.82 L311.00,96.61 L311.62,96.36 L311.58,95.64 L310.87,95.46 L310.12,95.48 L309.36,95.59 L308.59,95.81 L307.83,96.11 L307.08,96.48 L306.33,96.93 L305.59,97.45 L304.86,98.04 L304.14,98.67 L303.43,99.37 L302.72,100.12 L302.01,100.92 L301.30,101.81 L300.61,102.83 L299.97,103.78 L299.35,104.57 L298.72,105.33 L298.09,106.04 L297.47,106.71 L296.86,107.33 L296.26,107.90 L295.67,108.42 L295.08,108.88 L294.50,109.28 L293.93,109.63 L293.36,109.93 L292.79,110.18 L292.20,110.39 L291.58,110.64 Z M307.62,111.36 L308.33,111.54 L309.08,111.52 L309.84,111.41 L310.61,111.19 L311.37,110.89 L312.12,110.52 L312.87,110.07 L313.61,109.55 L314.34,108.96 L315.06,108.33 L315.77,107.63 L316.48,106.88 L317.19,106.08 L317.90,105.19 L318.59,104.17 L319.23,103.22 L319.85,102.43 L320.48,101.67 L321.11,100.96 L321.73,100.29 L322.34,99.67 L322.94,99.10 L323.53,98.58 L324.12,98.12 L324.70,97.72 L325.27,97.37 L325.84,97.07 L326.41,96.82 L327.00,96.61 L327.62,96.36 L327.58,95.64 L326.87,95.46 L326.12,95.48 L325.36,95.59 L324.59,95.81 L323.83,96.11 L323.08,96.48 L322.33,96.93 L321.59,97.45 L320.86,98.04 L320.14,98.67 L319.43,99.37 L318.72,100.12 L318.01,100.92 L317.30,101.81 L316.61,102.83 L315.97,103.78 L315.35,104.57 L314.72,105.33 L314.09,106.04 L313.47,106.71 L312.86,107.33 L312.26,107.90 L311.67,108.42 L311.08,108.88 L310.50,109.28 L309.93,109.63 L309.36,109.93 L308.79,110.18 L308.20,110.39 L307.58,110.64 Z M323.62,111.36 L324.33,111.54 L325.08,111.52 L325.84,111.41 L326.61,111.19 L327.37,110.89 L328.12,110.52 L328.87,110.07 L329.61,109.55 L330.34,108.96 L331.06,108.33 L331.77,107.63 L332.48,106.88 L333.19,106.08 L333.90,105.19 L334.59,104.17 L335.23,103.22 L335.85,102.43 L336.48,101.67 L337.11,100.96 L337.73,100.29 L338.34,99.67 L338.94,99.10 L339.53,98.58 L340.12,98.12 L340.70,97.72 L341.27,97.37 L341.84,97.07 L342.41,96.82 L343.00,96.61 L343.62,96.36 L343.58,95.64 L342.87,95.46 L342.12,95.48 L341.36,95.59 L340.59,95.81 L339.83,96.11 L339.08,96.48 L338.33,96.93 L337.59,97.45 L336.86,98.04 L336.14,98.67 L335.43,99.37 L334.72,100.12 L334.01,100.92 L333.30,101.81 L332.61,102.83 L331.97,103.78 L331.35,104.57 L330.72,105.33 L330.09,106.04 L329.47,106.71 L328.86,107.33 L328.26,107.90 L327.67,108.42 L327.08,108.88 L326.50,109.28 L325.93,109.63 L325.36,109.93 L324.79,110.18 L324.20,110.39 L323.58,110.64 Z M339.62,111.36 L340.33,111.54 L341.08,111.52 L341.84,111.41 L342.61,111.19 L343.37,110.89 L344.12,110.52 L344.87,110.07 L345.61,109.55 L346.34,108.96 L347.06,108.33 L347.77,107.63 L348.48,106.88 L349.19,106.08 L349.90,105.19 L350.59,104.17 L351.23,103.22 L351.85,102.43 L352.48,101.67 L353.11,100.96 L353.73,100.29 L354.34,99.67 L354.94,99.10 L355.53,98.58 L356.12,98.12 L356.70,97.72 L357.27,97.37 L357.84,97.07 L358.41,96.82 L359.00,96.61 L359.62,96.36 L359.58,95.64 L358.87,95.46 L358.12,95.48 L357.36,95.59 L356.59,95.81 L355.83,96.11 L355.08,96.48 L354.33,96.93 L353.59,97.45 L352.86,98.04 L352.14,98.67 L351.43,99.37 L350.72,100.12 L350.01,100.92 L349.30,101.81 L348.61,102.83 L347.97,103.78 L347.35,104.57 L346.72,105.33 L346.09,106.04 L345.47,106.71 L344.86,107.33 L344.26,107.90 L343.67,108.42 L343.08,108.88 L342.50,109.28 L341.93,109.63 L341.36,109.93 L340.79,110.18 L340.20,110.39 L339.58,110.64 Z M355.62,111.36 L356.33,111.54 L357.08,111.52 L357.84,111.41 L358.61,111.19 L359.37,110.89 L360.12,110.52 L360.87,110.07 L361.61,109.55 L362.34,108.96 L363.06,108.33 L363.77,107.63 L364.48,106.88 L365.19,106.08 L365.90,105.19 L366.59,104.17 L367.23,103.22 L367.85,102.43 L368.48,101.67 L369.11,100.96 L369.73,100.29 L370.34,99.67 L370.94,99.10 L371.53,98.58 L372.12,98.12 L372.70,97.72 L373.27,97.37 L373.84,97.07 L374.41,96.82 L375.00,96.61 L375.62,96.36 L375.58,95.64 L374.87,95.46 L374.12,95.48 L373.36,95.59 L372.59,95.81 L371.83,96.11 L371.08,96.48 L370.33,96.93 L369.59,97.45 L368.86,98.04 L368.14,98.67 L367.43,99.37 L366.72,100.12 L366.01,100.92 L365.30,101.81 L364.61,102.83 L363.97,103.78 L363.35,104.57 L362.72,105.33 L362.09,106.04 L361.47,106.71 L360.86,107.33 L360.26,107.90 L359.67,108.42 L359.08,108.88 L358.50,109.28 L357.93,109.63 L357.36,109.93 L356.79,110.18 L356.20,110.39 L355.58,110.64 Z M371.62,111.36 L372.33,111.54 L373.08,111.52 L373.84,111.41 L374.61,111.19 L375.37,110.89 L376.12,110.52 L376.87,110.07 L377.61,109.55 L378.34,108.96 L379.06,108.33 L379.77,107.63 L380.48,106.88 L381.19,106.08 L381.90,105.19 L382.59,104.17 L383.23,103.22 L383.85,102.43 L384.48,101.67 L385.11,100.96 L385.73,100.29 L386.34,99.67 L386.94,99.10 L387.53,98.58 L388.12,98.12 L388.70,97.72 L389.27,97.37 L389.84,97.07 L390.41,96.82 L391.00,96.61 L391.62,96.36 L391.58,95.64 L390.87,95.46 L390.12,95.48 L389.36,95.59 L388.59,95.81 L387.83,96.11 L387.08,96.48 L386.33,96.93 L385.59,97.45 L384.86,98.04 L384.14,98.67 L383.43,99.37 L382.72,100.12 L382.01,100.92 L381.30,101.81 L380.61,102.83 L379.97,103.78 L379.35,104.57 L378.72,105.33 L378.09,106.04 L377.47,106.71 L376.86,107.33 L376.26,107.90 L375.67,108.42 L375.08,108.88 L374.50,109.28 L373.93,109.63 L373.36,109.93 L372.79,110.18 L372.20,110.39 L371.58,110.64 Z M387.62,111.36 L388.33,111.54 L389.08,111.52 L389.84,111.41 L390.61,111.19 L391.37,110.89 L392.12,110.52 L392.87,110.07 L393.61,109.55 L394.34,108.96 L395.06,108.33 L395.77,107.63 L396.48,106.88 L397.19,106.08 L397.90,105.19 L398.59,104.17 L399.23,103.22 L399.85,102.43 L400.48,101.67 L401.11,100.96 L401.73,100.29 L402.34,99.67 L402.94,99.10 L403.53,98.58 L404.12,98.12 L404.70,97.72 L405.27,97.37 L405.84,97.07 L406.41,96.82 L407.00,96.61 L407.62,96.36 L407.58,95.64 L406.87,95.46 L406.12,95.48 L405.36,95.59 L404.59,95.81 L403.83,96.11 L403.08,96.48 L402.33,96.93 L401.59,97.45 L400.86,98.04 L400.14,98.67 L399.43,99.37 L398.72,100.12 L398.01,100.92 L397.30,101.81 L396.61,102.83 L395.97,103.78 L395.35,104.57 L394.72,105.33 L394.09,106.04 L393.47,106.71 L392.86,107.33 L392.26,107.90 L391.67,108.42 L391.08,108.88 L390.50,109.28 L389.93,109.63 L389.36,109.93 L388.79,110.18 L388.20,110.39 L387.58,110.64 Z M403.62,111.36 L404.33,111.54 L405.08,111.52 L405.84,111.41 L406.61,111.19 L407.37,110.89 L408.12,110.52 L408.87,110.07 L409.61,109.55 L410.34,108.96 L411.06,108.33 L411.77,107.63 L412.48,106.88 L413.19,106.08 L413.90,105.19 L414.59,104.17 L415.23,103.22 L415.85,102.43 L416.48,101.67 L417.11,100.96 L417.73,100.29 L418.34,99.67 L418.94,99.10 L419.53,98.58 L420.12,98.12 L420.70,97.72 L421.27,97.37 L421.84,97.07 L422.41,96.82 L423.00,96.61 L423.62,96.36 L423.58,95.64 L422.87,95.46 L422.12,95.48 L421.36,95.59 L420.59,95.81 L419.83,96.11 L419.08,96.48 L418.33,96.93 L417.59,97.45 L416.86,98.04 L416.14,98.67 L415.43,99.37 L414.72,100.12 L414.01,100.92 L413.30,101.81 L412.61,102.83 L411.97,103.78 L411.35,104.57 L410.72,105.33 L410.09,106.04 L409.47,106.71 L408.86,107.33 L408.26,107.90 L407.67,108.42 L407.08,108.88 L406.50,109.28 L405.93,109.63 L405.36,109.93 L404.79,110.18 L404.20,110.39 L403.58,110.64 Z M419.62,111.36 L420.33,111.54 L421.08,111.52 L421.84,111.41 L422.61,111.19 L423.37,110.89 L424.12,110.52 L424.87,110.07 L425.61,109.55 L426.34,108.96 L427.06,108.33 L427.77,107.63 L428.48,106.88 L429.19,106.08 L429.90,105.19 L430.59,104.17 L431.23,103.22 L431.85,102.43 L432.48,101.67 L433.11,100.96 L433.73,100.29 L434.34,99.67 L434.94,99.10 L435.53,98.58 L436.12,98.12 L436.70,97.72 L437.27,97.37 L437.84,97.07 L438.41,96.82 L439.00,96.61 L439.62,96.36 L439.58,95.64 L438.87,95.46 L438.12,95.48 L437.36,95.59 L436.59,95.81 L435.83,96.11 L435.08,96.48 L434.33,96.93 L433.59,97.45 L432.86,98.04 L432.14,98.67 L431.43,99.37 L430.72,100.12 L430.01,100.92 L429.30,101.81 L428.61,102.83 L427.97,103.78 L427.35,104.57 L426.72,105.33 L426.09,106.04 L425.47,106.71 L424.86,107.33 L424.26,107.90 L423.67,108.42 L423.08,108.88 L422.50,109.28 L421.93,109.63 L421.36,109.93 L420.79,110.18 L420.20,110.39 L419.58,110.64 Z" fill="#0a0a0a" filter="url(#blur05)"/>
</g>
<rect x="380.30" y="142.3" width="20.5" height="3.1" fill="#fff"/>
<rect x="422.7" y="57" width="113.5" height="94" rx="3.5" fill="url(#photoBg)"/>
<clipPath id="pc3"><rect x="422.7" y="92.3" width="113.5" height="22.900000000000006"/></clipPath>
<g clip-path="url(#pc3)">
<rect x="422.7" y="96.3" width="113.5" height="14.900000000000006" fill="#f3f3f3"/>
<path d="M422.7,96.89999999999999 h113.5 M422.7,110.60000000000001 h113.5" stroke="#a8a8a8" stroke-width="1.6" filter="url(#blur1)" opacity="0.5"/>
<path d="M396.87,97.30 L402.13,110.20 M417.07,97.30 L422.33,110.20 M437.27,97.30 L442.53,110.20 M457.47,97.30 L462.73,110.20 M477.67,97.30 L482.93,110.20 M497.87,97.30 L503.13,110.20 M518.07,97.30 L523.33,110.20 M538.27,97.30 L543.53,110.20" stroke="#4a4a4a" stroke-width="2.8" fill="none" filter="url(#blur1)" opacity="0.85"/>
<path d="M387.01,110.54 L387.88,110.72 L388.78,110.71 L389.68,110.61 L390.59,110.42 L391.50,110.15 L392.40,109.81 L393.30,109.40 L394.19,108.94 L395.08,108.42 L395.96,107.86 L396.82,107.26 L397.69,106.64 L398.54,105.98 L399.39,105.32 L400.22,104.64 L401.05,103.97 L401.87,103.30 L402.69,102.65 L403.49,102.02 L404.29,101.41 L405.08,100.84 L405.86,100.31 L406.63,99.82 L407.40,99.37 L408.16,98.98 L408.92,98.63 L409.68,98.34 L410.44,98.09 L411.21,97.89 L412.01,97.64 L411.99,96.96 L411.12,96.78 L410.22,96.79 L409.32,96.89 L408.41,97.08 L407.50,97.35 L406.60,97.69 L405.70,98.10 L404.81,98.56 L403.92,99.08 L403.04,99.64 L402.18,100.24 L401.31,100.86 L400.46,101.52 L399.61,102.18 L398.78,102.86 L397.95,103.53 L397.13,104.20 L396.31,104.85 L395.51,105.48 L394.71,106.09 L393.92,106.66 L393.14,107.19 L392.37,107.68 L391.60,108.13 L390.84,108.52 L390.08,108.87 L389.32,109.16 L388.56,109.41 L387.79,109.61 L386.99,109.86 Z M407.21,110.54 L408.08,110.72 L408.98,110.71 L409.88,110.61 L410.79,110.42 L411.70,110.15 L412.60,109.81 L413.50,109.40 L414.39,108.94 L415.28,108.42 L416.16,107.86 L417.02,107.26 L417.89,106.64 L418.74,105.98 L419.59,105.32 L420.42,104.64 L421.25,103.97 L422.07,103.30 L422.89,102.65 L423.69,102.02 L424.49,101.41 L425.28,100.84 L426.06,100.31 L426.83,99.82 L427.60,99.37 L428.36,98.98 L429.12,98.63 L429.88,98.34 L430.64,98.09 L431.41,97.89 L432.21,97.64 L432.19,96.96 L431.32,96.78 L430.42,96.79 L429.52,96.89 L428.61,97.08 L427.70,97.35 L426.80,97.69 L425.90,98.10 L425.01,98.56 L424.12,99.08 L423.24,99.64 L422.38,100.24 L421.51,100.86 L420.66,101.52 L419.81,102.18 L418.98,102.86 L418.15,103.53 L417.33,104.20 L416.51,104.85 L415.71,105.48 L414.91,106.09 L414.12,106.66 L413.34,107.19 L412.57,107.68 L411.80,108.13 L411.04,108.52 L410.28,108.87 L409.52,109.16 L408.76,109.41 L407.99,109.61 L407.19,109.86 Z M427.41,110.54 L428.28,110.72 L429.18,110.71 L430.08,110.61 L430.99,110.42 L431.90,110.15 L432.80,109.81 L433.70,109.40 L434.59,108.94 L435.48,108.42 L436.36,107.86 L437.22,107.26 L438.09,106.64 L438.94,105.98 L439.79,105.32 L440.62,104.64 L441.45,103.97 L442.27,103.30 L443.09,102.65 L443.89,102.02 L444.69,101.41 L445.48,100.84 L446.26,100.31 L447.03,99.82 L447.80,99.37 L448.56,98.98 L449.32,98.63 L450.08,98.34 L450.84,98.09 L451.61,97.89 L452.41,97.64 L452.39,96.96 L451.52,96.78 L450.62,96.79 L449.72,96.89 L448.81,97.08 L447.90,97.35 L447.00,97.69 L446.10,98.10 L445.21,98.56 L444.32,99.08 L443.44,99.64 L442.58,100.24 L441.71,100.86 L440.86,101.52 L440.01,102.18 L439.18,102.86 L438.35,103.53 L437.53,104.20 L436.71,104.85 L435.91,105.48 L435.11,106.09 L434.32,106.66 L433.54,107.19 L432.77,107.68 L432.00,108.13 L431.24,108.52 L430.48,108.87 L429.72,109.16 L428.96,109.41 L428.19,109.61 L427.39,109.86 Z M447.61,110.54 L448.48,110.72 L449.38,110.71 L450.28,110.61 L451.19,110.42 L452.10,110.15 L453.00,109.81 L453.90,109.40 L454.79,108.94 L455.68,108.42 L456.56,107.86 L457.42,107.26 L458.29,106.64 L459.14,105.98 L459.99,105.32 L460.82,104.64 L461.65,103.97 L462.47,103.30 L463.29,102.65 L464.09,102.02 L464.89,101.41 L465.68,100.84 L466.46,100.31 L467.23,99.82 L468.00,99.37 L468.76,98.98 L469.52,98.63 L470.28,98.34 L471.04,98.09 L471.81,97.89 L472.61,97.64 L472.59,96.96 L471.72,96.78 L470.82,96.79 L469.92,96.89 L469.01,97.08 L468.10,97.35 L467.20,97.69 L466.30,98.10 L465.41,98.56 L464.52,99.08 L463.64,99.64 L462.78,100.24 L461.91,100.86 L461.06,101.52 L460.21,102.18 L459.38,102.86 L458.55,103.53 L457.73,104.20 L456.91,104.85 L456.11,105.48 L455.31,106.09 L454.52,106.66 L453.74,107.19 L452.97,107.68 L452.20,108.13 L451.44,108.52 L450.68,108.87 L449.92,109.16 L449.16,109.41 L448.39,109.61 L447.59,109.86 Z M467.81,110.54 L468.68,110.72 L469.58,110.71 L470.48,110.61 L471.39,110.42 L472.30,110.15 L473.20,109.81 L474.10,109.40 L474.99,108.94 L475.88,108.42 L476.76,107.86 L477.62,107.26 L478.49,106.64 L479.34,105.98 L480.19,105.32 L481.02,104.64 L481.85,103.97 L482.67,103.30 L483.49,102.65 L484.29,102.02 L485.09,101.41 L485.88,100.84 L486.66,100.31 L487.43,99.82 L488.20,99.37 L488.96,98.98 L489.72,98.63 L490.48,98.34 L491.24,98.09 L492.01,97.89 L492.81,97.64 L492.79,96.96 L491.92,96.78 L491.02,96.79 L490.12,96.89 L489.21,97.08 L488.30,97.35 L487.40,97.69 L486.50,98.10 L485.61,98.56 L484.72,99.08 L483.84,99.64 L482.98,100.24 L482.11,100.86 L481.26,101.52 L480.41,102.18 L479.58,102.86 L478.75,103.53 L477.93,104.20 L477.11,104.85 L476.31,105.48 L475.51,106.09 L474.72,106.66 L473.94,107.19 L473.17,107.68 L472.40,108.13 L471.64,108.52 L470.88,108.87 L470.12,109.16 L469.36,109.41 L468.59,109.61 L467.79,109.86 Z M488.01,110.54 L488.88,110.72 L489.78,110.71 L490.68,110.61 L491.59,110.42 L492.50,110.15 L493.40,109.81 L494.30,109.40 L495.19,108.94 L496.08,108.42 L496.96,107.86 L497.82,107.26 L498.69,106.64 L499.54,105.98 L500.39,105.32 L501.22,104.64 L502.05,103.97 L502.87,103.30 L503.69,102.65 L504.49,102.02 L505.29,101.41 L506.08,100.84 L506.86,100.31 L507.63,99.82 L508.40,99.37 L509.16,98.98 L509.92,98.63 L510.68,98.34 L511.44,98.09 L512.21,97.89 L513.01,97.64 L512.99,96.96 L512.12,96.78 L511.22,96.79 L510.32,96.89 L509.41,97.08 L508.50,97.35 L507.60,97.69 L506.70,98.10 L505.81,98.56 L504.92,99.08 L504.04,99.64 L503.18,100.24 L502.31,100.86 L501.46,101.52 L500.61,102.18 L499.78,102.86 L498.95,103.53 L498.13,104.20 L497.31,104.85 L496.51,105.48 L495.71,106.09 L494.92,106.66 L494.14,107.19 L493.37,107.68 L492.60,108.13 L491.84,108.52 L491.08,108.87 L490.32,109.16 L489.56,109.41 L488.79,109.61 L487.99,109.86 Z M508.21,110.54 L509.08,110.72 L509.98,110.71 L510.88,110.61 L511.79,110.42 L512.70,110.15 L513.60,109.81 L514.50,109.40 L515.39,108.94 L516.28,108.42 L517.16,107.86 L518.02,107.26 L518.89,106.64 L519.74,105.98 L520.59,105.32 L521.42,104.64 L522.25,103.97 L523.07,103.30 L523.89,102.65 L524.69,102.02 L525.49,101.41 L526.28,100.84 L527.06,100.31 L527.83,99.82 L528.60,99.37 L529.36,98.98 L530.12,98.63 L530.88,98.34 L531.64,98.09 L532.41,97.89 L533.21,97.64 L533.19,96.96 L532.32,96.78 L531.42,96.79 L530.52,96.89 L529.61,97.08 L528.70,97.35 L527.80,97.69 L526.90,98.10 L526.01,98.56 L525.12,99.08 L524.24,99.64 L523.38,100.24 L522.51,100.86 L521.66,101.52 L520.81,102.18 L519.98,102.86 L519.15,103.53 L518.33,104.20 L517.51,104.85 L516.71,105.48 L515.91,106.09 L515.12,106.66 L514.34,107.19 L513.57,107.68 L512.80,108.13 L512.04,108.52 L511.28,108.87 L510.52,109.16 L509.76,109.41 L508.99,109.61 L508.19,109.86 Z M528.41,110.54 L529.28,110.72 L530.18,110.71 L531.08,110.61 L531.99,110.42 L532.90,110.15 L533.80,109.81 L534.70,109.40 L535.59,108.94 L536.48,108.42 L537.36,107.86 L538.22,107.26 L539.09,106.64 L539.94,105.98 L540.79,105.32 L541.62,104.64 L542.45,103.97 L543.27,103.30 L544.09,102.65 L544.89,102.02 L545.69,101.41 L546.48,100.84 L547.26,100.31 L548.03,99.82 L548.80,99.37 L549.56,98.98 L550.32,98.63 L551.08,98.34 L551.84,98.09 L552.61,97.89 L553.41,97.64 L553.39,96.96 L552.52,96.78 L551.62,96.79 L550.72,96.89 L549.81,97.08 L548.90,97.35 L548.00,97.69 L547.10,98.10 L546.21,98.56 L545.32,99.08 L544.44,99.64 L543.58,100.24 L542.71,100.86 L541.86,101.52 L541.01,102.18 L540.18,102.86 L539.35,103.53 L538.53,104.20 L537.71,104.85 L536.91,105.48 L536.11,106.09 L535.32,106.66 L534.54,107.19 L533.77,107.68 L533.00,108.13 L532.24,108.52 L531.48,108.87 L530.72,109.16 L529.96,109.41 L529.19,109.61 L528.39,109.86 Z" fill="#0a0a0a" filter="url(#blur05)"/>
</g>
<rect x="508.50" y="142.3" width="20.5" height="3.1" fill="#fff"/>
<rect x="551" y="57" width="113.5" height="94" rx="3.5" fill="url(#photoBg)"/>
<clipPath id="pc4"><rect x="551" y="93.4" width="113.5" height="21.19999999999999"/></clipPath>
<g clip-path="url(#pc4)">
<rect x="551" y="97.4" width="113.5" height="13.199999999999989" fill="#f3f3f3"/>
<path d="M551,98.0 h113.5 M551,110.0 h113.5" stroke="#a8a8a8" stroke-width="1.6" filter="url(#blur1)" opacity="0.5"/>
<path d="M528.28,98.40 L534.12,109.60 M552.58,98.40 L558.42,109.60 M576.88,98.40 L582.72,109.60 M601.18,98.40 L607.02,109.60 M625.48,98.40 L631.32,109.60 M649.78,98.40 L655.62,109.60 M674.08,98.40 L679.92,109.60" stroke="#4a4a4a" stroke-width="2.8" fill="none" filter="url(#blur1)" opacity="0.85"/>
<path d="M516.71,109.93 L517.70,110.10 L518.71,110.10 L519.73,110.02 L520.75,109.87 L521.78,109.65 L522.80,109.37 L523.82,109.03 L524.83,108.64 L525.84,108.20 L526.85,107.72 L527.85,107.20 L528.84,106.66 L529.82,106.10 L530.80,105.53 L531.77,104.94 L532.73,104.35 L533.69,103.77 L534.64,103.20 L535.58,102.65 L536.51,102.12 L537.44,101.61 L538.37,101.14 L539.28,100.71 L540.20,100.31 L541.11,99.95 L542.02,99.64 L542.93,99.37 L543.85,99.15 L544.77,98.96 L545.71,98.73 L545.69,98.07 L544.70,97.90 L543.69,97.90 L542.67,97.98 L541.65,98.13 L540.62,98.35 L539.60,98.63 L538.58,98.97 L537.57,99.36 L536.56,99.80 L535.55,100.28 L534.55,100.80 L533.56,101.34 L532.58,101.90 L531.60,102.47 L530.63,103.06 L529.67,103.65 L528.71,104.23 L527.76,104.80 L526.82,105.35 L525.89,105.88 L524.96,106.39 L524.03,106.86 L523.12,107.29 L522.20,107.69 L521.29,108.05 L520.38,108.36 L519.47,108.63 L518.55,108.85 L517.63,109.04 L516.69,109.27 Z M541.01,109.93 L542.00,110.10 L543.01,110.10 L544.03,110.02 L545.05,109.87 L546.08,109.65 L547.10,109.37 L548.12,109.03 L549.13,108.64 L550.14,108.20 L551.15,107.72 L552.15,107.20 L553.14,106.66 L554.12,106.10 L555.10,105.53 L556.07,104.94 L557.03,104.35 L557.99,103.77 L558.94,103.20 L559.88,102.65 L560.81,102.12 L561.74,101.61 L562.67,101.14 L563.58,100.71 L564.50,100.31 L565.41,99.95 L566.32,99.64 L567.23,99.37 L568.15,99.15 L569.07,98.96 L570.01,98.73 L569.99,98.07 L569.00,97.90 L567.99,97.90 L566.97,97.98 L565.95,98.13 L564.92,98.35 L563.90,98.63 L562.88,98.97 L561.87,99.36 L560.86,99.80 L559.85,100.28 L558.85,100.80 L557.86,101.34 L556.88,101.90 L555.90,102.47 L554.93,103.06 L553.97,103.65 L553.01,104.23 L552.06,104.80 L551.12,105.35 L550.19,105.88 L549.26,106.39 L548.33,106.86 L547.42,107.29 L546.50,107.69 L545.59,108.05 L544.68,108.36 L543.77,108.63 L542.85,108.85 L541.93,109.04 L540.99,109.27 Z M565.31,109.93 L566.30,110.10 L567.31,110.10 L568.33,110.02 L569.35,109.87 L570.38,109.65 L571.40,109.37 L572.42,109.03 L573.43,108.64 L574.44,108.20 L575.45,107.72 L576.45,107.20 L577.44,106.66 L578.42,106.10 L579.40,105.53 L580.37,104.94 L581.33,104.35 L582.29,103.77 L583.24,103.20 L584.18,102.65 L585.11,102.12 L586.04,101.61 L586.97,101.14 L587.88,100.71 L588.80,100.31 L589.71,99.95 L590.62,99.64 L591.53,99.37 L592.45,99.15 L593.37,98.96 L594.31,98.73 L594.29,98.07 L593.30,97.90 L592.29,97.90 L591.27,97.98 L590.25,98.13 L589.22,98.35 L588.20,98.63 L587.18,98.97 L586.17,99.36 L585.16,99.80 L584.15,100.28 L583.15,100.80 L582.16,101.34 L581.18,101.90 L580.20,102.47 L579.23,103.06 L578.27,103.65 L577.31,104.23 L576.36,104.80 L575.42,105.35 L574.49,105.88 L573.56,106.39 L572.63,106.86 L571.72,107.29 L570.80,107.69 L569.89,108.05 L568.98,108.36 L568.07,108.63 L567.15,108.85 L566.23,109.04 L565.29,109.27 Z M589.61,109.93 L590.60,110.10 L591.61,110.10 L592.63,110.02 L593.65,109.87 L594.68,109.65 L595.70,109.37 L596.72,109.03 L597.73,108.64 L598.74,108.20 L599.75,107.72 L600.75,107.20 L601.74,106.66 L602.72,106.10 L603.70,105.53 L604.67,104.94 L605.63,104.35 L606.59,103.77 L607.54,103.20 L608.48,102.65 L609.41,102.12 L610.34,101.61 L611.27,101.14 L612.18,100.71 L613.10,100.31 L614.01,99.95 L614.92,99.64 L615.83,99.37 L616.75,99.15 L617.67,98.96 L618.61,98.73 L618.59,98.07 L617.60,97.90 L616.59,97.90 L615.57,97.98 L614.55,98.13 L613.52,98.35 L612.50,98.63 L611.48,98.97 L610.47,99.36 L609.46,99.80 L608.45,100.28 L607.45,100.80 L606.46,101.34 L605.48,101.90 L604.50,102.47 L603.53,103.06 L602.57,103.65 L601.61,104.23 L600.66,104.80 L599.72,105.35 L598.79,105.88 L597.86,106.39 L596.93,106.86 L596.02,107.29 L595.10,107.69 L594.19,108.05 L593.28,108.36 L592.37,108.63 L591.45,108.85 L590.53,109.04 L589.59,109.27 Z M613.91,109.93 L614.90,110.10 L615.91,110.10 L616.93,110.02 L617.95,109.87 L618.98,109.65 L620.00,109.37 L621.02,109.03 L622.03,108.64 L623.04,108.20 L624.05,107.72 L625.05,107.20 L626.04,106.66 L627.02,106.10 L628.00,105.53 L628.97,104.94 L629.93,104.35 L630.89,103.77 L631.84,103.20 L632.78,102.65 L633.71,102.12 L634.64,101.61 L635.57,101.14 L636.48,100.71 L637.40,100.31 L638.31,99.95 L639.22,99.64 L640.13,99.37 L641.05,99.15 L641.97,98.96 L642.91,98.73 L642.89,98.07 L641.90,97.90 L640.89,97.90 L639.87,97.98 L638.85,98.13 L637.82,98.35 L636.80,98.63 L635.78,98.97 L634.77,99.36 L633.76,99.80 L632.75,100.28 L631.75,100.80 L630.76,101.34 L629.78,101.90 L628.80,102.47 L627.83,103.06 L626.87,103.65 L625.91,104.23 L624.96,104.80 L624.02,105.35 L623.09,105.88 L622.16,106.39 L621.23,106.86 L620.32,107.29 L619.40,107.69 L618.49,108.05 L617.58,108.36 L616.67,108.63 L615.75,108.85 L614.83,109.04 L613.89,109.27 Z M638.21,109.93 L639.20,110.10 L640.21,110.10 L641.23,110.02 L642.25,109.87 L643.28,109.65 L644.30,109.37 L645.32,109.03 L646.33,108.64 L647.34,108.20 L648.35,107.72 L649.35,107.20 L650.34,106.66 L651.32,106.10 L652.30,105.53 L653.27,104.94 L654.23,104.35 L655.19,103.77 L656.14,103.20 L657.08,102.65 L658.01,102.12 L658.94,101.61 L659.87,101.14 L660.78,100.71 L661.70,100.31 L662.61,99.95 L663.52,99.64 L664.43,99.37 L665.35,99.15 L666.27,98.96 L667.21,98.73 L667.19,98.07 L666.20,97.90 L665.19,97.90 L664.17,97.98 L663.15,98.13 L662.12,98.35 L661.10,98.63 L660.08,98.97 L659.07,99.36 L658.06,99.80 L657.05,100.28 L656.05,100.80 L655.06,101.34 L654.08,101.90 L653.10,102.47 L652.13,103.06 L651.17,103.65 L650.21,104.23 L649.26,104.80 L648.32,105.35 L647.39,105.88 L646.46,106.39 L645.53,106.86 L644.62,107.29 L643.70,107.69 L642.79,108.05 L641.88,108.36 L640.97,108.63 L640.05,108.85 L639.13,109.04 L638.19,109.27 Z M662.51,109.93 L663.50,110.10 L664.51,110.10 L665.53,110.02 L666.55,109.87 L667.58,109.65 L668.60,109.37 L669.62,109.03 L670.63,108.64 L671.64,108.20 L672.65,107.72 L673.65,107.20 L674.64,106.66 L675.62,106.10 L676.60,105.53 L677.57,104.94 L678.53,104.35 L679.49,103.77 L680.44,103.20 L681.38,102.65 L682.31,102.12 L683.24,101.61 L684.17,101.14 L685.08,100.71 L686.00,100.31 L686.91,99.95 L687.82,99.64 L688.73,99.37 L689.65,99.15 L690.57,98.96 L691.51,98.73 L691.49,98.07 L690.50,97.90 L689.49,97.90 L688.47,97.98 L687.45,98.13 L686.42,98.35 L685.40,98.63 L684.38,98.97 L683.37,99.36 L682.36,99.80 L681.35,100.28 L680.35,100.80 L679.36,101.34 L678.38,101.90 L677.40,102.47 L676.43,103.06 L675.47,103.65 L674.51,104.23 L673.56,104.80 L672.62,105.35 L671.69,105.88 L670.76,106.39 L669.83,106.86 L668.92,107.29 L668.00,107.69 L667.09,108.05 L666.18,108.36 L665.27,108.63 L664.35,108.85 L663.43,109.04 L662.49,109.27 Z" fill="#0a0a0a" filter="url(#blur05)"/>
</g>
<rect x="636.80" y="142.3" width="20.5" height="3.1" fill="#fff"/>
<text x="35.60" y="176.30" font-size="13.8" fill="#111" text-anchor="start" font-family='"Liberation Sans", sans-serif' font-weight="bold" font-style="normal" >b</text>
<text x="80.20" y="191.40" font-size="10.3" fill="#333" text-anchor="middle" font-family='"Liberation Sans", sans-serif' font-weight="normal" font-style="normal" >Elastomeric</text>
<text x="79.60" y="201.60" font-size="10.3" fill="#333" text-anchor="middle" font-family='"Liberation Sans", sans-serif' font-weight="normal" font-style="normal" >core</text>
<text x="121.80" y="186.10" font-size="10.2" fill="#222" text-anchor="start" font-family='"Liberation Sans", sans-serif' font-weight="normal" font-style="normal" >NCNT fiber</text>
<text x="184.80" y="186.10" font-size="10.2" fill="#3a6cc8" text-anchor="start" font-family='"Liberation Sans", sans-serif' font-weight="normal" font-style="normal" >OCNT fiber</text>
<rect x="54.1" y="211.1" width="165.7" height="80.7" fill="#ddeaf6"/>
<clipPath id="hx"><rect x="54.1" y="200" width="165.7" height="90"/></clipPath>
<g clip-path="url(#hx)">
<rect x="54.1" y="228.2" width="165.7" height="43.6" fill="url(#core)"/>
<path d="M3.80,227.60 L5.14,227.67 L6.48,227.88 L7.82,228.24 L9.16,228.73 L10.50,229.35 L11.84,230.11 L13.18,230.99 L14.52,231.99 L15.86,233.11 L17.20,234.34 L18.54,235.66 L19.88,237.08 L21.22,238.58 L22.56,240.16 L23.90,241.80 L25.24,243.49 L26.58,245.23 L27.92,247.00 L29.26,248.80 L30.60,250.60 L31.94,252.40 L33.28,254.20 L34.62,255.97 L35.96,257.71 L37.30,259.40 L38.64,261.04 L39.98,262.62 L41.32,264.12 L42.66,265.54 L44.00,266.86 L45.34,268.09 L46.68,269.21 L48.02,270.21 L49.36,271.09 L50.70,271.85 L52.04,272.47 L53.38,272.96 L54.72,273.32 L56.06,273.53 L57.40,273.60" stroke="#cdcdcd" stroke-width="9.6" fill="none" opacity="0.8"/>
<path d="M3.80,226.10 L5.30,226.18 L6.79,226.42 L8.27,226.80 L9.74,227.34 L11.19,228.02 L12.62,228.83 L14.04,229.76 L15.45,230.82 L16.85,231.98 L18.23,233.25 L19.61,234.62 L20.99,236.07 L22.35,237.60 L23.71,239.20 L25.07,240.86 L26.42,242.57 L27.77,244.32 L29.12,246.10 L30.46,247.90 L31.80,249.71 L33.14,251.51 L34.48,253.30 L35.81,255.06 L37.14,256.78 L38.47,258.46 L39.79,260.08 L41.11,261.63 L42.43,263.11 L43.73,264.49 L45.03,265.78 L46.33,266.96 L47.61,268.03 L48.88,268.98 L50.14,269.81 L51.39,270.52 L52.62,271.09 L53.83,271.53 L55.03,271.85 L56.22,272.04 L57.40,272.10" stroke="#ebebeb" stroke-width="3" fill="none" opacity="0.7"/>
<path d="M111.00,227.60 L112.34,227.67 L113.68,227.88 L115.02,228.24 L116.36,228.73 L117.70,229.35 L119.04,230.11 L120.38,230.99 L121.72,231.99 L123.06,233.11 L124.40,234.34 L125.74,235.66 L127.08,237.08 L128.42,238.58 L129.76,240.16 L131.10,241.80 L132.44,243.49 L133.78,245.23 L135.12,247.00 L136.46,248.80 L137.80,250.60 L139.14,252.40 L140.48,254.20 L141.82,255.97 L143.16,257.71 L144.50,259.40 L145.84,261.04 L147.18,262.62 L148.52,264.12 L149.86,265.54 L151.20,266.86 L152.54,268.09 L153.88,269.21 L155.22,270.21 L156.56,271.09 L157.90,271.85 L159.24,272.47 L160.58,272.96 L161.92,273.32 L163.26,273.53 L164.60,273.60" stroke="#bcdaf3" stroke-width="9.6" fill="none" opacity="0.8"/>
<path d="M111.00,226.10 L112.50,226.18 L113.99,226.42 L115.47,226.80 L116.94,227.34 L118.39,228.02 L119.82,228.83 L121.24,229.76 L122.65,230.82 L124.05,231.98 L125.43,233.25 L126.81,234.62 L128.19,236.07 L129.55,237.60 L130.91,239.20 L132.27,240.86 L133.62,242.57 L134.97,244.32 L136.32,246.10 L137.66,247.90 L139.00,249.71 L140.34,251.51 L141.68,253.30 L143.01,255.06 L144.34,256.78 L145.67,258.46 L146.99,260.08 L148.31,261.63 L149.63,263.11 L150.93,264.49 L152.23,265.78 L153.53,266.96 L154.81,268.03 L156.08,268.98 L157.34,269.81 L158.59,270.52 L159.82,271.09 L161.03,271.53 L162.23,271.85 L163.42,272.04 L164.60,272.10" stroke="#dcecf9" stroke-width="3" fill="none" opacity="0.7"/>
<path d="M218.20,227.60 L219.54,227.67 L220.88,227.88 L222.22,228.24 L223.56,228.73 L224.90,229.35 L226.24,230.11 L227.58,230.99 L228.92,231.99 L230.26,233.11 L231.60,234.34 L232.94,235.66 L234.28,237.08 L235.62,238.58 L236.96,240.16 L238.30,241.80 L239.64,243.49 L240.98,245.23 L242.32,247.00 L243.66,248.80 L245.00,250.60 L246.34,252.40 L247.68,254.20 L249.02,255.97 L250.36,257.71 L251.70,259.40 L253.04,261.04 L254.38,262.62 L255.72,264.12 L257.06,265.54 L258.40,266.86 L259.74,268.09 L261.08,269.21 L262.42,270.21 L263.76,271.09 L265.10,271.85 L266.44,272.47 L267.78,272.96 L269.12,273.32 L270.46,273.53 L271.80,273.60" stroke="#cdcdcd" stroke-width="9.6" fill="none" opacity="0.8"/>
<path d="M218.20,226.10 L219.70,226.18 L221.19,226.42 L222.67,226.80 L224.14,227.34 L225.59,228.02 L227.02,228.83 L228.44,229.76 L229.85,230.82 L231.25,231.98 L232.63,233.25 L234.01,234.62 L235.39,236.07 L236.75,237.60 L238.11,239.20 L239.47,240.86 L240.82,242.57 L242.17,244.32 L243.52,246.10 L244.86,247.90 L246.20,249.71 L247.54,251.51 L248.88,253.30 L250.21,255.06 L251.54,256.78 L252.87,258.46 L254.19,260.08 L255.51,261.63 L256.83,263.11 L258.13,264.49 L259.43,265.78 L260.73,266.96 L262.01,268.03 L263.28,268.98 L264.54,269.81 L265.79,270.52 L267.02,271.09 L268.23,271.53 L269.43,271.85 L270.62,272.04 L271.80,272.10" stroke="#ebebeb" stroke-width="3" fill="none" opacity="0.7"/>
<path d="M57.40,227.60 L58.74,227.67 L60.08,227.88 L61.42,228.24 L62.76,228.73 L64.10,229.35 L65.44,230.11 L66.78,230.99 L68.12,231.99 L69.46,233.11 L70.80,234.34 L72.14,235.66 L73.48,237.08 L74.82,238.58 L76.16,240.16 L77.50,241.80 L78.84,243.49 L80.18,245.23 L81.52,247.00 L82.86,248.80 L84.20,250.60 L85.54,252.40 L86.88,254.20 L88.22,255.97 L89.56,257.71 L90.90,259.40 L92.24,261.04 L93.58,262.62 L94.92,264.12 L96.26,265.54 L97.60,266.86 L98.94,268.09 L100.28,269.21 L101.62,270.21 L102.96,271.09 L104.30,271.85 L105.64,272.47 L106.98,272.96 L108.32,273.32 L109.66,273.53 L111.00,273.60" stroke="#cdcdcd" stroke-width="9.6" fill="none" opacity="0.8"/>
<path d="M57.40,226.10 L58.90,226.18 L60.39,226.42 L61.87,226.80 L63.34,227.34 L64.79,228.02 L66.22,228.83 L67.64,229.76 L69.05,230.82 L70.45,231.98 L71.83,233.25 L73.21,234.62 L74.59,236.07 L75.95,237.60 L77.31,239.20 L78.67,240.86 L80.02,242.57 L81.37,244.32 L82.72,246.10 L84.06,247.90 L85.40,249.71 L86.74,251.51 L88.08,253.30 L89.41,255.06 L90.74,256.78 L92.07,258.46 L93.39,260.08 L94.71,261.63 L96.03,263.11 L97.33,264.49 L98.63,265.78 L99.93,266.96 L101.21,268.03 L102.48,268.98 L103.74,269.81 L104.99,270.52 L106.22,271.09 L107.43,271.53 L108.63,271.85 L109.82,272.04 L111.00,272.10" stroke="#ebebeb" stroke-width="3" fill="none" opacity="0.7"/>
<path d="M164.60,227.60 L165.94,227.67 L167.28,227.88 L168.62,228.24 L169.96,228.73 L171.30,229.35 L172.64,230.11 L173.98,230.99 L175.32,231.99 L176.66,233.11 L178.00,234.34 L179.34,235.66 L180.68,237.08 L182.02,238.58 L183.36,240.16 L184.70,241.80 L186.04,243.49 L187.38,245.23 L188.72,247.00 L190.06,248.80 L191.40,250.60 L192.74,252.40 L194.08,254.20 L195.42,255.97 L196.76,257.71 L198.10,259.40 L199.44,261.04 L200.78,262.62 L202.12,264.12 L203.46,265.54 L204.80,266.86 L206.14,268.09 L207.48,269.21 L208.82,270.21 L210.16,271.09 L211.50,271.85 L212.84,272.47 L214.18,272.96 L215.52,273.32 L216.86,273.53 L218.20,273.60" stroke="#cdcdcd" stroke-width="9.6" fill="none" opacity="0.8"/>
<path d="M164.60,226.10 L166.10,226.18 L167.59,226.42 L169.07,226.80 L170.54,227.34 L171.99,228.02 L173.42,228.83 L174.84,229.76 L176.25,230.82 L177.65,231.98 L179.03,233.25 L180.41,234.62 L181.79,236.07 L183.15,237.60 L184.51,239.20 L185.87,240.86 L187.22,242.57 L188.57,244.32 L189.92,246.10 L191.26,247.90 L192.60,249.71 L193.94,251.51 L195.28,253.30 L196.61,255.06 L197.94,256.78 L199.27,258.46 L200.59,260.08 L201.91,261.63 L203.23,263.11 L204.53,264.49 L205.83,265.78 L207.13,266.96 L208.41,268.03 L209.68,268.98 L210.94,269.81 L212.19,270.52 L213.42,271.09 L214.63,271.53 L215.83,271.85 L217.02,272.04 L218.20,272.10" stroke="#ebebeb" stroke-width="3" fill="none" opacity="0.7"/>
<linearGradient id="fg94" gradientUnits="userSpaceOnUse" x1="57.40" y1="0" x2="111.00" y2="0"><stop offset="0" stop-color="#303030"/><stop offset="0.08" stop-color="#505050"/><stop offset="0.25" stop-color="#b0b0b0"/><stop offset="0.5" stop-color="#e6e6e6"/><stop offset="0.75" stop-color="#b0b0b0"/><stop offset="0.92" stop-color="#505050"/><stop offset="1" stop-color="#303030"/></linearGradient>
<path d="M57.40,273.60 L58.08,273.58 L58.76,273.53 L59.43,273.44 L60.11,273.31 L60.79,273.15 L61.47,272.95 L62.14,272.72 L62.82,272.45 L63.50,272.15 L64.18,271.81 L64.85,271.44 L65.53,271.04 L66.21,270.60 L66.89,270.14 L67.56,269.64 L68.24,269.11 L68.92,268.56 L69.59,267.97 L70.27,267.36 L70.95,266.72 L71.63,266.06 L72.31,265.37 L72.98,264.66 L73.66,263.92 L74.34,263.17 L75.02,262.39 L75.69,261.60 L76.37,260.79 L77.05,259.96 L77.72,259.12 L78.40,258.27 L79.08,257.40 L79.76,256.52 L80.44,255.63 L81.11,254.74 L81.79,253.84 L82.47,252.93 L83.14,252.02 L83.82,251.11 L84.50,250.20" stroke="url(#fg94)" stroke-width="9.6" fill="none"/>
<path d="M57.40,277.20 L58.27,277.18 L59.14,277.11 L60.00,276.99 L60.86,276.83 L61.71,276.63 L62.56,276.38 L63.39,276.09 L64.22,275.77 L65.03,275.40 L65.84,275.00 L66.64,274.57 L67.42,274.10 L68.20,273.60 L68.97,273.07 L69.73,272.51 L70.49,271.92 L71.24,271.31 L71.98,270.67 L72.71,270.00 L73.45,269.31 L74.17,268.60 L74.89,267.87 L75.61,267.12 L76.32,266.34 L77.03,265.55 L77.74,264.75 L78.44,263.92 L79.14,263.08 L79.84,262.23 L80.54,261.37 L81.23,260.49 L81.92,259.61 L82.61,258.71 L83.30,257.81 L83.99,256.91 L84.67,256.00 L85.35,255.08 L86.03,254.17 L86.71,253.25 L87.39,252.34" stroke="#4a4a4a" stroke-width="2.0" fill="none" opacity="0.5"/>
<path d="M57.40,271.80 L57.98,271.78 L58.56,271.74 L59.15,271.66 L59.73,271.55 L60.32,271.41 L60.92,271.23 L61.52,271.03 L62.12,270.79 L62.73,270.52 L63.34,270.21 L63.96,269.88 L64.58,269.51 L65.21,269.10 L65.84,268.67 L66.48,268.20 L67.12,267.71 L67.76,267.18 L68.40,266.62 L69.05,266.04 L69.70,265.42 L70.36,264.78 L71.01,264.12 L71.67,263.42 L72.33,262.71 L72.99,261.97 L73.65,261.22 L74.32,260.44 L74.98,259.64 L75.65,258.83 L76.32,258.00 L76.99,257.15 L77.66,256.30 L78.33,255.43 L79.00,254.55 L79.68,253.66 L80.35,252.76 L81.02,251.86 L81.70,250.95 L82.38,250.04 L83.05,249.12" stroke="#f6f6f6" stroke-width="2.2" fill="none" opacity="0.4"/>
<linearGradient id="fg98" gradientUnits="userSpaceOnUse" x1="57.40" y1="0" x2="111.00" y2="0"><stop offset="0" stop-color="#4a84c8"/><stop offset="0.08" stop-color="#5a98d8"/><stop offset="0.25" stop-color="#8cc2ec"/><stop offset="0.5" stop-color="#a4d0f2"/><stop offset="0.75" stop-color="#8cc2ec"/><stop offset="0.92" stop-color="#5a98d8"/><stop offset="1" stop-color="#4a84c8"/></linearGradient>
<path d="M84.20,250.60 L84.87,249.70 L85.54,248.80 L86.21,247.90 L86.88,247.00 L87.55,246.11 L88.22,245.23 L88.89,244.36 L89.56,243.49 L90.23,242.64 L90.90,241.80 L91.57,240.97 L92.24,240.16 L92.91,239.36 L93.58,238.58 L94.25,237.82 L94.92,237.08 L95.59,236.36 L96.26,235.66 L96.93,234.99 L97.60,234.34 L98.27,233.71 L98.94,233.11 L99.61,232.54 L100.28,231.99 L100.95,231.48 L101.62,230.99 L102.29,230.53 L102.96,230.11 L103.63,229.71 L104.30,229.35 L104.97,229.02 L105.64,228.73 L106.31,228.46 L106.98,228.24 L107.65,228.04 L108.32,227.88 L108.99,227.76 L109.66,227.67 L110.33,227.62 L111.00,227.60" stroke="url(#fg98)" stroke-width="9.6" fill="none"/>
<path d="M87.09,252.74 L87.76,251.84 L88.43,250.94 L89.09,250.05 L89.76,249.16 L90.42,248.28 L91.08,247.41 L91.74,246.55 L92.40,245.71 L93.05,244.87 L93.71,244.05 L94.36,243.25 L95.01,242.46 L95.65,241.69 L96.30,240.95 L96.94,240.22 L97.57,239.51 L98.21,238.83 L98.84,238.18 L99.46,237.55 L100.08,236.94 L100.70,236.37 L101.31,235.82 L101.92,235.30 L102.52,234.81 L103.11,234.36 L103.69,233.93 L104.27,233.54 L104.84,233.18 L105.40,232.85 L105.95,232.55 L106.49,232.28 L107.02,232.05 L107.55,231.84 L108.06,231.67 L108.57,231.52 L109.06,231.41 L109.55,231.32 L110.04,231.25 L110.52,231.21 L111.00,231.20" stroke="#3d72b4" stroke-width="2.0" fill="none" opacity="0.5"/>
<path d="M82.75,249.53 L83.42,248.62 L84.10,247.72 L84.77,246.82 L85.44,245.92 L86.11,245.03 L86.79,244.14 L87.46,243.26 L88.14,242.39 L88.82,241.52 L89.50,240.67 L90.18,239.83 L90.86,239.01 L91.54,238.20 L92.22,237.40 L92.91,236.62 L93.59,235.86 L94.28,235.12 L94.97,234.41 L95.66,233.71 L96.36,233.03 L97.05,232.38 L97.75,231.76 L98.46,231.16 L99.16,230.58 L99.87,230.04 L100.58,229.52 L101.30,229.03 L102.02,228.57 L102.75,228.15 L103.47,227.75 L104.21,227.39 L104.95,227.06 L105.69,226.77 L106.44,226.52 L107.19,226.30 L107.95,226.12 L108.71,225.98 L109.47,225.88 L110.23,225.82 L111.00,225.80" stroke="#c8e2f8" stroke-width="2.2" fill="none" opacity="0.4"/>
<linearGradient id="fg102" gradientUnits="userSpaceOnUse" x1="164.60" y1="0" x2="218.20" y2="0"><stop offset="0" stop-color="#4a84c8"/><stop offset="0.08" stop-color="#5a98d8"/><stop offset="0.25" stop-color="#8cc2ec"/><stop offset="0.5" stop-color="#a4d0f2"/><stop offset="0.75" stop-color="#8cc2ec"/><stop offset="0.92" stop-color="#5a98d8"/><stop offset="1" stop-color="#4a84c8"/></linearGradient>
<path d="M164.60,273.60 L165.28,273.58 L165.95,273.53 L166.63,273.44 L167.31,273.31 L167.99,273.15 L168.66,272.95 L169.34,272.72 L170.02,272.45 L170.70,272.15 L171.38,271.81 L172.05,271.44 L172.73,271.04 L173.41,270.60 L174.09,270.14 L174.76,269.64 L175.44,269.11 L176.12,268.56 L176.80,267.97 L177.47,267.36 L178.15,266.72 L178.83,266.06 L179.50,265.37 L180.18,264.66 L180.86,263.92 L181.54,263.17 L182.22,262.39 L182.89,261.60 L183.57,260.79 L184.25,259.96 L184.93,259.12 L185.60,258.27 L186.28,257.40 L186.96,256.52 L187.64,255.63 L188.31,254.74 L188.99,253.84 L189.67,252.93 L190.35,252.02 L191.02,251.11 L191.70,250.20" stroke="url(#fg102)" stroke-width="9.6" fill="none"/>
<path d="M164.60,277.20 L165.47,277.18 L166.34,277.11 L167.20,276.99 L168.06,276.83 L168.91,276.63 L169.76,276.38 L170.59,276.09 L171.42,275.77 L172.23,275.40 L173.04,275.00 L173.84,274.57 L174.62,274.10 L175.40,273.60 L176.17,273.07 L176.93,272.51 L177.69,271.92 L178.44,271.31 L179.18,270.67 L179.91,270.00 L180.65,269.31 L181.37,268.60 L182.09,267.87 L182.81,267.12 L183.52,266.34 L184.23,265.55 L184.94,264.75 L185.64,263.92 L186.34,263.08 L187.04,262.23 L187.74,261.37 L188.43,260.49 L189.12,259.61 L189.81,258.71 L190.50,257.81 L191.19,256.91 L191.87,256.00 L192.55,255.08 L193.23,254.17 L193.91,253.25 L194.59,252.34" stroke="#3d72b4" stroke-width="2.0" fill="none" opacity="0.5"/>
<path d="M164.60,271.80 L165.18,271.78 L165.76,271.74 L166.35,271.66 L166.93,271.55 L167.52,271.41 L168.12,271.23 L168.72,271.03 L169.32,270.79 L169.93,270.52 L170.54,270.21 L171.16,269.88 L171.78,269.51 L172.41,269.10 L173.04,268.67 L173.68,268.20 L174.32,267.71 L174.96,267.18 L175.60,266.62 L176.25,266.04 L176.90,265.42 L177.56,264.78 L178.21,264.12 L178.87,263.42 L179.53,262.71 L180.19,261.97 L180.85,261.22 L181.52,260.44 L182.18,259.64 L182.85,258.83 L183.52,258.00 L184.19,257.15 L184.86,256.30 L185.53,255.43 L186.20,254.55 L186.88,253.66 L187.55,252.76 L188.22,251.86 L188.90,250.95 L189.58,250.04 L190.25,249.12" stroke="#c8e2f8" stroke-width="2.2" fill="none" opacity="0.4"/>
<linearGradient id="fg106" gradientUnits="userSpaceOnUse" x1="164.60" y1="0" x2="218.20" y2="0"><stop offset="0" stop-color="#303030"/><stop offset="0.08" stop-color="#505050"/><stop offset="0.25" stop-color="#b0b0b0"/><stop offset="0.5" stop-color="#e6e6e6"/><stop offset="0.75" stop-color="#b0b0b0"/><stop offset="0.92" stop-color="#505050"/><stop offset="1" stop-color="#303030"/></linearGradient>
<path d="M191.40,250.60 L192.07,249.70 L192.74,248.80 L193.41,247.90 L194.08,247.00 L194.75,246.11 L195.42,245.23 L196.09,244.36 L196.76,243.49 L197.43,242.64 L198.10,241.80 L198.77,240.97 L199.44,240.16 L200.11,239.36 L200.78,238.58 L201.45,237.82 L202.12,237.08 L202.79,236.36 L203.46,235.66 L204.13,234.99 L204.80,234.34 L205.47,233.71 L206.14,233.11 L206.81,232.54 L207.48,231.99 L208.15,231.48 L208.82,230.99 L209.49,230.53 L210.16,230.11 L210.83,229.71 L211.50,229.35 L212.17,229.02 L212.84,228.73 L213.51,228.46 L214.18,228.24 L214.85,228.04 L215.52,227.88 L216.19,227.76 L216.86,227.67 L217.53,227.62 L218.20,227.60" stroke="url(#fg106)" stroke-width="9.6" fill="none"/>
<path d="M194.29,252.74 L194.96,251.84 L195.63,250.94 L196.29,250.05 L196.96,249.16 L197.62,248.28 L198.28,247.41 L198.94,246.55 L199.60,245.71 L200.25,244.87 L200.91,244.05 L201.56,243.25 L202.21,242.46 L202.85,241.69 L203.50,240.95 L204.14,240.22 L204.77,239.51 L205.41,238.83 L206.04,238.18 L206.66,237.55 L207.28,236.94 L207.90,236.37 L208.51,235.82 L209.12,235.30 L209.72,234.81 L210.31,234.36 L210.89,233.93 L211.47,233.54 L212.04,233.18 L212.60,232.85 L213.15,232.55 L213.69,232.28 L214.22,232.05 L214.75,231.84 L215.26,231.67 L215.77,231.52 L216.26,231.41 L216.75,231.32 L217.24,231.25 L217.72,231.21 L218.20,231.20" stroke="#4a4a4a" stroke-width="2.0" fill="none" opacity="0.5"/>
<path d="M189.95,249.53 L190.62,248.62 L191.30,247.72 L191.97,246.82 L192.64,245.92 L193.31,245.03 L193.99,244.14 L194.66,243.26 L195.34,242.39 L196.02,241.52 L196.70,240.67 L197.38,239.83 L198.06,239.01 L198.74,238.20 L199.42,237.40 L200.11,236.62 L200.79,235.86 L201.48,235.12 L202.17,234.41 L202.86,233.71 L203.56,233.03 L204.25,232.38 L204.95,231.76 L205.66,231.16 L206.36,230.58 L207.07,230.04 L207.78,229.52 L208.50,229.03 L209.22,228.57 L209.95,228.15 L210.67,227.75 L211.41,227.39 L212.15,227.06 L212.89,226.77 L213.64,226.52 L214.39,226.30 L215.15,226.12 L215.91,225.98 L216.67,225.88 L217.43,225.82 L218.20,225.80" stroke="#f6f6f6" stroke-width="2.2" fill="none" opacity="0.4"/>
<linearGradient id="fg110" gradientUnits="userSpaceOnUse" x1="3.80" y1="0" x2="57.40" y2="0"><stop offset="0" stop-color="#303030"/><stop offset="0.08" stop-color="#505050"/><stop offset="0.25" stop-color="#b0b0b0"/><stop offset="0.5" stop-color="#e6e6e6"/><stop offset="0.75" stop-color="#b0b0b0"/><stop offset="0.92" stop-color="#505050"/><stop offset="1" stop-color="#303030"/></linearGradient>
<path d="M3.80,273.60 L5.14,273.53 L6.48,273.32 L7.82,272.96 L9.16,272.47 L10.50,271.85 L11.84,271.09 L13.18,270.21 L14.52,269.21 L15.86,268.09 L17.20,266.86 L18.54,265.54 L19.88,264.12 L21.22,262.62 L22.56,261.04 L23.90,259.40 L25.24,257.71 L26.58,255.97 L27.92,254.20 L29.26,252.40 L30.60,250.60 L31.94,248.80 L33.28,247.00 L34.62,245.23 L35.96,243.49 L37.30,241.80 L38.64,240.16 L39.98,238.58 L41.32,237.08 L42.66,235.66 L44.00,234.34 L45.34,233.11 L46.68,231.99 L48.02,230.99 L49.36,230.11 L50.70,229.35 L52.04,228.73 L53.38,228.24 L54.72,227.88 L56.06,227.67 L57.40,227.60" stroke="url(#fg110)" stroke-width="9.6" fill="none"/>
<path d="M3.80,277.20 L5.52,277.11 L7.22,276.84 L8.90,276.40 L10.54,275.80 L12.15,275.05 L13.72,274.16 L15.25,273.15 L16.76,272.03 L18.23,270.80 L19.68,269.47 L21.12,268.05 L22.53,266.55 L23.94,264.98 L25.33,263.35 L26.71,261.66 L28.08,259.92 L29.44,258.15 L30.80,256.36 L32.15,254.55 L33.49,252.74 L34.83,250.94 L36.16,249.16 L37.48,247.41 L38.80,245.71 L40.11,244.05 L41.41,242.46 L42.70,240.95 L43.97,239.51 L45.24,238.18 L46.48,236.94 L47.71,235.82 L48.92,234.81 L50.09,233.93 L51.24,233.18 L52.35,232.55 L53.42,232.05 L54.46,231.67 L55.46,231.41 L56.44,231.25 L57.40,231.20" stroke="#4a4a4a" stroke-width="2.0" fill="none" opacity="0.5"/>
<path d="M3.80,271.80 L4.95,271.74 L6.11,271.56 L7.28,271.25 L8.47,270.81 L9.67,270.25 L10.90,269.56 L12.14,268.74 L13.40,267.80 L14.67,266.74 L15.96,265.56 L17.25,264.28 L18.55,262.90 L19.86,261.44 L21.18,259.89 L22.50,258.27 L23.82,256.60 L25.15,254.88 L26.48,253.12 L27.82,251.33 L29.15,249.53 L30.50,247.72 L31.84,245.92 L33.19,244.14 L34.54,242.39 L35.90,240.67 L37.26,239.01 L38.62,237.40 L39.99,235.86 L41.37,234.41 L42.76,233.03 L44.15,231.76 L45.56,230.58 L46.98,229.52 L48.42,228.57 L49.87,227.75 L51.35,227.06 L52.84,226.52 L54.35,226.12 L55.87,225.88 L57.40,225.80" stroke="#f6f6f6" stroke-width="2.2" fill="none" opacity="0.4"/>
<linearGradient id="fg114" gradientUnits="userSpaceOnUse" x1="111.00" y1="0" x2="164.60" y2="0"><stop offset="0" stop-color="#303030"/><stop offset="0.08" stop-color="#505050"/><stop offset="0.25" stop-color="#b0b0b0"/><stop offset="0.5" stop-color="#e6e6e6"/><stop offset="0.75" stop-color="#b0b0b0"/><stop offset="0.92" stop-color="#505050"/><stop offset="1" stop-color="#303030"/></linearGradient>
<path d="M111.00,273.60 L112.34,273.53 L113.68,273.32 L115.02,272.96 L116.36,272.47 L117.70,271.85 L119.04,271.09 L120.38,270.21 L121.72,269.21 L123.06,268.09 L124.40,266.86 L125.74,265.54 L127.08,264.12 L128.42,262.62 L129.76,261.04 L131.10,259.40 L132.44,257.71 L133.78,255.97 L135.12,254.20 L136.46,252.40 L137.80,250.60 L139.14,248.80 L140.48,247.00 L141.82,245.23 L143.16,243.49 L144.50,241.80 L145.84,240.16 L147.18,238.58 L148.52,237.08 L149.86,235.66 L151.20,234.34 L152.54,233.11 L153.88,231.99 L155.22,230.99 L156.56,230.11 L157.90,229.35 L159.24,228.73 L160.58,228.24 L161.92,227.88 L163.26,227.67 L164.60,227.60" stroke="url(#fg114)" stroke-width="9.6" fill="none"/>
<path d="M111.00,277.20 L112.72,277.11 L114.42,276.84 L116.10,276.40 L117.74,275.80 L119.35,275.05 L120.92,274.16 L122.45,273.15 L123.96,272.03 L125.43,270.80 L126.88,269.47 L128.32,268.05 L129.73,266.55 L131.14,264.98 L132.53,263.35 L133.91,261.66 L135.28,259.92 L136.64,258.15 L138.00,256.36 L139.35,254.55 L140.69,252.74 L142.03,250.94 L143.36,249.16 L144.68,247.41 L146.00,245.71 L147.31,244.05 L148.61,242.46 L149.90,240.95 L151.17,239.51 L152.44,238.18 L153.68,236.94 L154.91,235.82 L156.12,234.81 L157.29,233.93 L158.44,233.18 L159.55,232.55 L160.62,232.05 L161.66,231.67 L162.66,231.41 L163.64,231.25 L164.60,231.20" stroke="#4a4a4a" stroke-width="2.0" fill="none" opacity="0.5"/>
<path d="M111.00,271.80 L112.15,271.74 L113.31,271.56 L114.48,271.25 L115.67,270.81 L116.87,270.25 L118.10,269.56 L119.34,268.74 L120.60,267.80 L121.87,266.74 L123.16,265.56 L124.45,264.28 L125.75,262.90 L127.06,261.44 L128.38,259.89 L129.70,258.27 L131.02,256.60 L132.35,254.88 L133.68,253.12 L135.02,251.33 L136.35,249.53 L137.70,247.72 L139.04,245.92 L140.39,244.14 L141.74,242.39 L143.10,240.67 L144.46,239.01 L145.82,237.40 L147.19,235.86 L148.57,234.41 L149.96,233.03 L151.35,231.76 L152.76,230.58 L154.18,229.52 L155.62,228.57 L157.07,227.75 L158.55,227.06 L160.04,226.52 L161.55,226.12 L163.07,225.88 L164.60,225.80" stroke="#f6f6f6" stroke-width="2.2" fill="none" opacity="0.4"/>
<linearGradient id="fg118" gradientUnits="userSpaceOnUse" x1="218.20" y1="0" x2="271.80" y2="0"><stop offset="0" stop-color="#303030"/><stop offset="0.08" stop-color="#505050"/><stop offset="0.25" stop-color="#b0b0b0"/><stop offset="0.5" stop-color="#e6e6e6"/><stop offset="0.75" stop-color="#b0b0b0"/><stop offset="0.92" stop-color="#505050"/><stop offset="1" stop-color="#303030"/></linearGradient>
<path d="M218.20,273.60 L219.54,273.53 L220.88,273.32 L222.22,272.96 L223.56,272.47 L224.90,271.85 L226.24,271.09 L227.58,270.21 L228.92,269.21 L230.26,268.09 L231.60,266.86 L232.94,265.54 L234.28,264.12 L235.62,262.62 L236.96,261.04 L238.30,259.40 L239.64,257.71 L240.98,255.97 L242.32,254.20 L243.66,252.40 L245.00,250.60 L246.34,248.80 L247.68,247.00 L249.02,245.23 L250.36,243.49 L251.70,241.80 L253.04,240.16 L254.38,238.58 L255.72,237.08 L257.06,235.66 L258.40,234.34 L259.74,233.11 L261.08,231.99 L262.42,230.99 L263.76,230.11 L265.10,229.35 L266.44,228.73 L267.78,228.24 L269.12,227.88 L270.46,227.67 L271.80,227.60" stroke="url(#fg118)" stroke-width="9.6" fill="none"/>
<path d="M218.20,277.20 L219.92,277.11 L221.62,276.84 L223.30,276.40 L224.94,275.80 L226.55,275.05 L228.12,274.16 L229.65,273.15 L231.16,272.03 L232.63,270.80 L234.08,269.47 L235.52,268.05 L236.93,266.55 L238.34,264.98 L239.73,263.35 L241.11,261.66 L242.48,259.92 L243.84,258.15 L245.20,256.36 L246.55,254.55 L247.89,252.74 L249.23,250.94 L250.56,249.16 L251.88,247.41 L253.20,245.71 L254.51,244.05 L255.81,242.46 L257.10,240.95 L258.37,239.51 L259.64,238.18 L260.88,236.94 L262.11,235.82 L263.32,234.81 L264.49,233.93 L265.64,233.18 L266.75,232.55 L267.82,232.05 L268.86,231.67 L269.86,231.41 L270.84,231.25 L271.80,231.20" stroke="#4a4a4a" stroke-width="2.0" fill="none" opacity="0.5"/>
<path d="M218.20,271.80 L219.35,271.74 L220.51,271.56 L221.68,271.25 L222.87,270.81 L224.07,270.25 L225.30,269.56 L226.54,268.74 L227.80,267.80 L229.07,266.74 L230.36,265.56 L231.65,264.28 L232.95,262.90 L234.26,261.44 L235.58,259.89 L236.90,258.27 L238.22,256.60 L239.55,254.88 L240.88,253.12 L242.22,251.33 L243.55,249.53 L244.90,247.72 L246.24,245.92 L247.59,244.14 L248.94,242.39 L250.30,240.67 L251.66,239.01 L253.02,237.40 L254.39,235.86 L255.77,234.41 L257.16,233.03 L258.55,231.76 L259.96,230.58 L261.38,229.52 L262.82,228.57 L264.27,227.75 L265.75,227.06 L267.24,226.52 L268.75,226.12 L270.27,225.88 L271.80,225.80" stroke="#f6f6f6" stroke-width="2.2" fill="none" opacity="0.4"/>
<path d="M111.00,222.80 L111.69,222.82 L112.38,222.87 L113.06,222.97 L113.75,223.10 L114.44,223.27 L115.12,223.47 L115.81,223.71 L116.50,223.98 L117.19,224.30 L117.88,224.64 L118.56,225.02 L119.25,225.44 L119.94,225.88 L120.62,226.36 L121.31,226.88 L122.00,227.42 L122.00,228.22 Q117.05,231.90 111.00,232.40 Z" fill="#4a86cc"/>
<path d="M46.40,273.78 L47.09,274.32 L47.78,274.84 L48.46,275.32 L49.15,275.76 L49.84,276.18 L50.53,276.56 L51.21,276.90 L51.90,277.22 L52.59,277.49 L53.28,277.73 L53.96,277.93 L54.65,278.10 L55.34,278.23 L56.03,278.33 L56.71,278.38 L57.40,278.40 L57.40,268.80 Q51.35,269.30 46.40,272.98 Z" fill="#3c3c3c"/>
<path d="M218.20,222.80 L218.89,222.82 L219.58,222.87 L220.26,222.97 L220.95,223.10 L221.64,223.27 L222.33,223.47 L223.01,223.71 L223.70,223.98 L224.39,224.30 L225.08,224.64 L225.76,225.02 L226.45,225.44 L227.14,225.88 L227.83,226.36 L228.51,226.88 L229.20,227.42 L229.20,228.22 Q224.25,231.90 218.20,232.40 Z" fill="#3c3c3c"/>
<path d="M153.60,273.78 L154.29,274.32 L154.97,274.84 L155.66,275.32 L156.35,275.76 L157.04,276.18 L157.72,276.56 L158.41,276.90 L159.10,277.22 L159.79,277.49 L160.47,277.73 L161.16,277.93 L161.85,278.10 L162.54,278.23 L163.22,278.33 L163.91,278.38 L164.60,278.40 L164.60,268.80 Q158.55,269.30 153.60,272.98 Z" fill="#4a86cc"/>
<path d="M57.40,222.80 L58.09,222.82 L58.78,222.87 L59.46,222.97 L60.15,223.10 L60.84,223.27 L61.53,223.47 L62.21,223.71 L62.90,223.98 L63.59,224.30 L64.28,224.64 L64.96,225.02 L65.65,225.44 L66.34,225.88 L67.03,226.36 L67.71,226.88 L68.40,227.42 L68.40,228.22 Q63.45,231.90 57.40,232.40 Z" fill="#3c3c3c"/>
<path d="M164.60,222.80 L165.29,222.82 L165.98,222.87 L166.66,222.97 L167.35,223.10 L168.04,223.27 L168.73,223.47 L169.41,223.71 L170.10,223.98 L170.79,224.30 L171.48,224.64 L172.16,225.02 L172.85,225.44 L173.54,225.88 L174.23,226.36 L174.91,226.88 L175.60,227.42 L175.60,228.22 Q170.65,231.90 164.60,232.40 Z" fill="#3c3c3c"/>
<path d="M100.00,273.78 L100.69,274.32 L101.38,274.84 L102.06,275.32 L102.75,275.76 L103.44,276.18 L104.13,276.56 L104.81,276.90 L105.50,277.22 L106.19,277.49 L106.88,277.73 L107.56,277.93 L108.25,278.10 L108.94,278.23 L109.63,278.33 L110.31,278.38 L111.00,278.40 L111.00,268.80 Q104.95,269.30 100.00,272.98 Z" fill="#3c3c3c"/>
<path d="M207.20,273.78 L207.89,274.32 L208.57,274.84 L209.26,275.32 L209.95,275.76 L210.64,276.18 L211.32,276.56 L212.01,276.90 L212.70,277.22 L213.39,277.49 L214.07,277.73 L214.76,277.93 L215.45,278.10 L216.14,278.23 L216.82,278.33 L217.51,278.38 L218.20,278.40 L218.20,268.80 Q212.15,269.30 207.20,272.98 Z" fill="#3c3c3c"/>
</g>
<line x1="64.60" y1="247.70" x2="64.60" y2="207.52" stroke="#333" stroke-width="0.9" />
<path d="M64.60,205.00 L62.90,209.20 L64.60,207.94 L66.30,209.20 Z" stroke="none" stroke-width="1" fill="#333" />
<line x1="145.40" y1="238.00" x2="145.40" y2="193.52" stroke="#333" stroke-width="0.9" />
<path d="M145.40,191.00 L143.70,195.20 L145.40,193.94 L147.10,195.20 Z" stroke="none" stroke-width="1" fill="#333" />
<line x1="199.80" y1="238.00" x2="199.80" y2="193.52" stroke="#333" stroke-width="0.9" />
<path d="M199.80,191.00 L198.10,195.20 L199.80,193.94 L201.50,195.20 Z" stroke="none" stroke-width="1" fill="#333" />
<line x1="43" y1="227.6" x2="58" y2="227.6" stroke="#3a6cc8" stroke-width="1" stroke-dasharray="1.2,1.2"/>
<line x1="43" y1="273.9" x2="58" y2="273.9" stroke="#3a6cc8" stroke-width="1" stroke-dasharray="1.2,1.2"/>
<line x1="49.10" y1="230.50" x2="49.10" y2="271.00" stroke="#3a6cc8" stroke-width="1" />
<path d="M49.1,227.9 L47.3,232.2 L49.1,231.2 L50.9,232.2 Z" stroke="none" stroke-width="1" fill="#3a6cc8" />
<path d="M49.1,273.6 L47.3,269.3 L49.1,270.3 L50.9,269.3 Z" stroke="none" stroke-width="1" fill="#3a6cc8" />
<text x="43.50" y="254.00" font-size="10.8" fill="#3a6cc8" text-anchor="middle" font-family='"Liberation Serif", serif' font-weight="normal" font-style="italic" >t</text>
<line x1="83.6" y1="254.4" x2="109.5" y2="254.4" stroke="#3a6cc8" stroke-width="1" stroke-dasharray="1.2,1.0"/>
<line x1="83.6" y1="254.4" x2="101.5" y2="233.4" stroke="#3a6cc8" stroke-width="1" stroke-dasharray="1.2,1.0"/>
<path d="M96.6,254.2 A13,13 0 0 0 93.0,244.6" stroke="#3a6cc8" stroke-width="1.1" fill="none" />
<text x="101.60" y="249.60" font-size="10.0" fill="#3a6cc8" text-anchor="middle" font-family='"Liberation Serif", serif' font-weight="normal" font-style="italic" >θ</text>
<line x1="83.3" y1="255" x2="83.3" y2="319" stroke="#444" stroke-width="0.9" stroke-dasharray="3,2"/>
<line x1="191.1" y1="237" x2="191.1" y2="319" stroke="#444" stroke-width="0.9" stroke-dasharray="3,2"/>
<line x1="109.7" y1="276" x2="109.7" y2="298" stroke="#3a6cc8" stroke-width="1" stroke-dasharray="1.2,1.0"/>
<line x1="163.9" y1="276" x2="163.9" y2="298" stroke="#3a6cc8" stroke-width="1" stroke-dasharray="1.2,1.0"/>
<line x1="112.00" y1="283.40" x2="161.60" y2="283.40" stroke="#3a6cc8" stroke-width="1" />
<path d="M110.0,283.4 L114.2,281.6 L113.2,283.4 L114.2,285.2 Z" stroke="none" stroke-width="1" fill="#3a6cc8" />
<path d="M163.6,283.4 L159.4,281.6 L160.4,283.4 L159.4,285.2 Z" stroke="none" stroke-width="1" fill="#3a6cc8" />
<text x="136.40" y="294.80" font-size="10.6" fill="#3a6cc8" text-anchor="middle" font-family='"Liberation Serif", serif' font-weight="normal" font-style="italic" >d</text>
<path d="M83.3,303.2 Q83.8,307.6 90,307.6 L131,307.6 Q136.4,307.8 137.2,312.4 Q138,307.8 143.4,307.6 L184.5,307.6 Q190.6,307.6 191.1,303.2" stroke="#333" stroke-width="0.9" fill="none" />
<text x="137.3" y="325.5" font-size="9.5" fill="#222" text-anchor="middle" font-family='"Liberation Sans", sans-serif'><tspan font-family='"Liberation Serif", serif' font-size="10">1</tspan> turn in double helix</text>
<text x="257.50" y="250.30" font-size="10.0" fill="#222" text-anchor="middle" font-family='"Liberation Sans", sans-serif' font-weight="normal" font-style="normal" >Unwinding</text>
<path d="M241.5,256.4 L263,256.4 L262.6,255.0 L272.6,258.7 L262.6,262.4 L263,261.0 L241.5,261.0 Z" fill="url(#unw)"/>
<rect x="294.3" y="202.7" width="108" height="92.4" fill="#f4f4f4" stroke="#d0d0d0" stroke-width="0.9"/>
<line x1="402.30" y1="202.70" x2="434.00" y2="202.70" stroke="#cfcfcf" stroke-width="0.9" />
<line x1="402.30" y1="295.10" x2="434.00" y2="295.10" stroke="#cfcfcf" stroke-width="0.9" />
<line x1="294.30" y1="295.10" x2="294.30" y2="327.00" stroke="#cfcfcf" stroke-width="0.9" />
<line x1="402.30" y1="295.10" x2="402.30" y2="327.00" stroke="#cfcfcf" stroke-width="0.9" />
<path d="M294.3,286.8 L302.6,286.8 L302.6,295.1" fill="none" stroke="#c8c8c8" stroke-width="0.9"/>
<g transform="translate(294.3,202.7) rotate(40.549)">
<rect x="-25.6" y="-6" width="25.6" height="12" fill="url(#rodG2)"/>
<rect x="142.13" y="-6" width="26.0" height="12" fill="url(#rodG2)"/>
<rect x="0" y="-6" width="142.13" height="12" fill="url(#rodB2)"/>
<line x1="0" y1="0.6" x2="142.13" y2="0.6" stroke="#2f5fd0" stroke-width="0.9"/>
<line x1="0" y1="-16.5" x2="0" y2="14.5" stroke="#222" stroke-width="1" stroke-dasharray="3.2,1.6"/>
<line x1="142.13" y1="-16.5" x2="142.13" y2="14.5" stroke="#222" stroke-width="1" stroke-dasharray="3.2,1.6"/>
<line x1="3" y1="-11.5" x2="139.13" y2="-11.5" stroke="#333" stroke-width="0.9"/>
<path d="M0.5,-11.5 L5,-13.3 L4,-11.5 L5,-9.7 Z" fill="#333"/>
<path d="M141.63,-11.5 L137.13,-13.3 L138.13,-11.5 L137.13,-9.7 Z" fill="#333"/>
<text x="76.07" y="-17.0" font-size="10.6" fill="#222" text-anchor="middle" font-family='"Liberation Sans", sans-serif'><tspan font-family='"Liberation Serif", serif' font-style="italic">l</tspan><tspan font-size="7" dy="2.2">1turn</tspan><tspan dy="-2.2"> (cm)</tspan></text>
</g>
<defs><linearGradient id="rodG2" x1="0" y1="0" x2="0" y2="1"><stop offset="0" stop-color="#8e8e8e"/><stop offset="0.5" stop-color="#dadada"/><stop offset="1" stop-color="#9a9a9a"/></linearGradient><linearGradient id="rodB2" x1="0" y1="0" x2="0" y2="1"><stop offset="0" stop-color="#8fc0ea"/><stop offset="0.5" stop-color="#cfe5f7"/><stop offset="1" stop-color="#8fc0ea"/></linearGradient></defs>
<line x1="335.50" y1="193.50" x2="319.50" y2="223.00" stroke="#3a6cc8" stroke-width="0.9" />
<text x="375.30" y="180.30" font-size="9.8" fill="#333" text-anchor="middle" font-family='"Liberation Sans", sans-serif' font-weight="normal" font-style="normal" >Center-line of</text>
<text x="374.70" y="190.20" font-size="9.8" fill="#333" text-anchor="middle" font-family='"Liberation Sans", sans-serif' font-weight="normal" font-style="normal" >unwound CNT fiber (1 turn)</text>
<path d="M386.3,295.0 A16,16 0 0 0 383.4,286.0" stroke="#3a6cc8" stroke-width="1.1" fill="none" />
<text x="378.20" y="292.20" font-size="10.0" fill="#3a6cc8" text-anchor="middle" font-family='"Liberation Serif", serif' font-weight="normal" font-style="italic" >θ</text>
<line x1="418.80" y1="205.50" x2="418.80" y2="292.30" stroke="#333" stroke-width="0.9" />
<path d="M418.8,203.0 L417,207.4 L418.8,206.4 L420.6,207.4 Z" stroke="none" stroke-width="1" fill="#333" />
<path d="M418.8,295.0 L417,290.6 L418.8,291.6 L420.6,290.6 Z" stroke="none" stroke-width="1" fill="#333" />
<text x="422.0" y="253.0" font-size="11" fill="#222" font-family='"Liberation Serif", serif'>2π(<tspan font-style="italic">t</tspan>/2)</text>
<line x1="297.00" y1="311.40" x2="399.60" y2="311.40" stroke="#333" stroke-width="0.9" />
<path d="M294.5,311.4 L298.9,309.6 L297.9,311.4 L298.9,313.2 Z" stroke="none" stroke-width="1" fill="#333" />
<path d="M402.1,311.4 L397.7,309.6 L398.7,311.4 L397.7,313.2 Z" stroke="none" stroke-width="1" fill="#333" />
<text x="348.4" y="325.0" font-size="10.6" fill="#222" text-anchor="middle" font-family='"Liberation Sans", sans-serif'><tspan font-family='"Liberation Serif", serif'>2</tspan><tspan font-family='"Liberation Serif", serif' font-style="italic">d</tspan> (cm)</text>
<text x="468.60" y="176.20" font-size="13.8" fill="#111" text-anchor="start" font-family='"Liberation Sans", sans-serif' font-weight="bold" font-style="normal" >c</text>
<rect x="506.30" y="225.47" width="13.8" height="85.13" fill="url(#hatch)" stroke="#4a7bd2" stroke-width="0.9"/>
<line x1="513.20" y1="225.11" x2="513.20" y2="225.82" stroke="#3d6fc6" stroke-width="0.9" />
<line x1="511.60" y1="225.11" x2="514.80" y2="225.11" stroke="#3d6fc6" stroke-width="0.9" />
<line x1="511.60" y1="225.82" x2="514.80" y2="225.82" stroke="#3d6fc6" stroke-width="0.9" />
<rect x="532.90" y="226.85" width="13.8" height="83.75" fill="url(#hatch)" stroke="#4a7bd2" stroke-width="0.9"/>
<line x1="539.80" y1="225.33" x2="539.80" y2="228.37" stroke="#3d6fc6" stroke-width="0.9" />
<line x1="538.20" y1="225.33" x2="541.40" y2="225.33" stroke="#3d6fc6" stroke-width="0.9" />
<line x1="538.20" y1="228.37" x2="541.40" y2="228.37" stroke="#3d6fc6" stroke-width="0.9" />
<rect x="559.15" y="226.18" width="13.8" height="84.42" fill="url(#hatch)" stroke="#4a7bd2" stroke-width="0.9"/>
<line x1="566.05" y1="223.06" x2="566.05" y2="229.30" stroke="#3d6fc6" stroke-width="0.9" />
<line x1="564.45" y1="223.06" x2="567.65" y2="223.06" stroke="#3d6fc6" stroke-width="0.9" />
<line x1="564.45" y1="229.30" x2="567.65" y2="229.30" stroke="#3d6fc6" stroke-width="0.9" />
<rect x="585.40" y="223.14" width="13.8" height="87.46" fill="url(#hatch)" stroke="#4a7bd2" stroke-width="0.9"/>
<line x1="592.30" y1="217.57" x2="592.30" y2="228.72" stroke="#3d6fc6" stroke-width="0.9" />
<line x1="590.70" y1="217.57" x2="593.90" y2="217.57" stroke="#3d6fc6" stroke-width="0.9" />
<line x1="590.70" y1="228.72" x2="593.90" y2="228.72" stroke="#3d6fc6" stroke-width="0.9" />
<rect x="611.70" y="221.05" width="13.8" height="89.55" fill="url(#hatch)" stroke="#4a7bd2" stroke-width="0.9"/>
<line x1="618.60" y1="216.90" x2="618.60" y2="225.20" stroke="#3d6fc6" stroke-width="0.9" />
<line x1="617.00" y1="216.90" x2="620.20" y2="216.90" stroke="#3d6fc6" stroke-width="0.9" />
<line x1="617.00" y1="225.20" x2="620.20" y2="225.20" stroke="#3d6fc6" stroke-width="0.9" />
<line x1="494.80" y1="188.40" x2="637.70" y2="188.40" stroke="#555" stroke-width="1" />
<line x1="494.80" y1="310.60" x2="637.70" y2="310.60" stroke="#aaa" stroke-width="1.6" />
<line x1="513.20" y1="310.60" x2="513.20" y2="313.20" stroke="#666" stroke-width="0.9" />
<text x="513.20" y="322.00" font-size="9.3" fill="#222" text-anchor="middle" font-family='"Liberation Sans", sans-serif' font-weight="normal" font-style="normal" >0</text>
<line x1="539.80" y1="310.60" x2="539.80" y2="313.20" stroke="#666" stroke-width="0.9" />
<text x="539.80" y="322.00" font-size="9.3" fill="#222" text-anchor="middle" font-family='"Liberation Sans", sans-serif' font-weight="normal" font-style="normal" >50</text>
<line x1="566.05" y1="310.60" x2="566.05" y2="313.20" stroke="#666" stroke-width="0.9" />
<text x="566.05" y="322.00" font-size="9.3" fill="#222" text-anchor="middle" font-family='"Liberation Sans", sans-serif' font-weight="normal" font-style="normal" >100</text>
<line x1="592.30" y1="310.60" x2="592.30" y2="313.20" stroke="#666" stroke-width="0.9" />
<text x="592.30" y="322.00" font-size="9.3" fill="#222" text-anchor="middle" font-family='"Liberation Sans", sans-serif' font-weight="normal" font-style="normal" >150</text>
<line x1="618.60" y1="310.60" x2="618.60" y2="313.20" stroke="#666" stroke-width="0.9" />
<text x="618.60" y="322.00" font-size="9.3" fill="#222" text-anchor="middle" font-family='"Liberation Sans", sans-serif' font-weight="normal" font-style="normal" >200</text>
<line x1="494.80" y1="188.40" x2="494.80" y2="310.60" stroke="#7aa3e6" stroke-width="1" />
<line x1="494.80" y1="310.60" x2="497.20" y2="310.60" stroke="#7aa3e6" stroke-width="0.9" />
<text x="492.40" y="313.60" font-size="8.5" fill="#3463c0" text-anchor="end" font-family='"Liberation Sans", sans-serif' font-weight="normal" font-style="normal" >0.0</text>
<line x1="494.80" y1="299.45" x2="496.30" y2="299.45" stroke="#7aa3e6" stroke-width="0.9" />
<line x1="494.80" y1="288.29" x2="497.20" y2="288.29" stroke="#7aa3e6" stroke-width="0.9" />
<text x="492.40" y="291.29" font-size="8.5" fill="#3463c0" text-anchor="end" font-family='"Liberation Sans", sans-serif' font-weight="normal" font-style="normal" >0.5</text>
<line x1="494.80" y1="277.14" x2="496.30" y2="277.14" stroke="#7aa3e6" stroke-width="0.9" />
<line x1="494.80" y1="265.98" x2="497.20" y2="265.98" stroke="#7aa3e6" stroke-width="0.9" />
<text x="492.40" y="268.98" font-size="8.5" fill="#3463c0" text-anchor="end" font-family='"Liberation Sans", sans-serif' font-weight="normal" font-style="normal" >1.0</text>
<line x1="494.80" y1="254.83" x2="496.30" y2="254.83" stroke="#7aa3e6" stroke-width="0.9" />
<line x1="494.80" y1="243.67" x2="497.20" y2="243.67" stroke="#7aa3e6" stroke-width="0.9" />
<text x="492.40" y="246.67" font-size="8.5" fill="#3463c0" text-anchor="end" font-family='"Liberation Sans", sans-serif' font-weight="normal" font-style="normal" >1.5</text>
<line x1="494.80" y1="232.52" x2="496.30" y2="232.52" stroke="#7aa3e6" stroke-width="0.9" />
<line x1="494.80" y1="221.36" x2="497.20" y2="221.36" stroke="#7aa3e6" stroke-width="0.9" />
<text x="492.40" y="224.36" font-size="8.5" fill="#3463c0" text-anchor="end" font-family='"Liberation Sans", sans-serif' font-weight="normal" font-style="normal" >2.0</text>
<line x1="494.80" y1="210.21" x2="496.30" y2="210.21" stroke="#7aa3e6" stroke-width="0.9" />
<line x1="494.80" y1="199.05" x2="497.20" y2="199.05" stroke="#7aa3e6" stroke-width="0.9" />
<text x="492.40" y="202.05" font-size="8.5" fill="#3463c0" text-anchor="end" font-family='"Liberation Sans", sans-serif' font-weight="normal" font-style="normal" >2.5</text>
<line x1="637.70" y1="188.40" x2="637.70" y2="310.60" stroke="#f08a8a" stroke-width="1" />
<line x1="637.70" y1="310.60" x2="635.10" y2="310.60" stroke="#f08a8a" stroke-width="0.9" />
<text x="639.60" y="313.60" font-size="8.5" fill="#e8413c" text-anchor="start" font-family='"Liberation Sans", sans-serif' font-weight="normal" font-style="normal" >0.0</text>
<line x1="637.70" y1="299.95" x2="636.20" y2="299.95" stroke="#f08a8a" stroke-width="0.9" />
<line x1="637.70" y1="289.30" x2="635.10" y2="289.30" stroke="#f08a8a" stroke-width="0.9" />
<text x="639.60" y="292.30" font-size="8.5" fill="#e8413c" text-anchor="start" font-family='"Liberation Sans", sans-serif' font-weight="normal" font-style="normal" >0.2</text>
<line x1="637.70" y1="278.65" x2="636.20" y2="278.65" stroke="#f08a8a" stroke-width="0.9" />
<line x1="637.70" y1="268.00" x2="635.10" y2="268.00" stroke="#f08a8a" stroke-width="0.9" />
<text x="639.60" y="271.00" font-size="8.5" fill="#e8413c" text-anchor="start" font-family='"Liberation Sans", sans-serif' font-weight="normal" font-style="normal" >0.4</text>
<line x1="637.70" y1="257.35" x2="636.20" y2="257.35" stroke="#f08a8a" stroke-width="0.9" />
<line x1="637.70" y1="246.70" x2="635.10" y2="246.70" stroke="#f08a8a" stroke-width="0.9" />
<text x="639.60" y="249.70" font-size="8.5" fill="#e8413c" text-anchor="start" font-family='"Liberation Sans", sans-serif' font-weight="normal" font-style="normal" >0.6</text>
<line x1="637.70" y1="236.05" x2="636.20" y2="236.05" stroke="#f08a8a" stroke-width="0.9" />
<line x1="637.70" y1="225.40" x2="635.10" y2="225.40" stroke="#f08a8a" stroke-width="0.9" />
<text x="639.60" y="228.40" font-size="8.5" fill="#e8413c" text-anchor="start" font-family='"Liberation Sans", sans-serif' font-weight="normal" font-style="normal" >0.8</text>
<line x1="637.70" y1="214.75" x2="636.20" y2="214.75" stroke="#f08a8a" stroke-width="0.9" />
<line x1="637.70" y1="204.10" x2="635.10" y2="204.10" stroke="#f08a8a" stroke-width="0.9" />
<text x="639.60" y="207.10" font-size="8.5" fill="#e8413c" text-anchor="start" font-family='"Liberation Sans", sans-serif' font-weight="normal" font-style="normal" >1.0</text>
<line x1="637.70" y1="193.45" x2="636.20" y2="193.45" stroke="#f08a8a" stroke-width="0.9" />
<line x1="513.20" y1="204.10" x2="618.60" y2="204.10" stroke="#f05050" stroke-width="0.9" stroke-dasharray="1.5,1.4"/>
<defs><radialGradient id="dotG" cx="0.38" cy="0.35" r="0.65"><stop offset="0" stop-color="#ffd0d0"/><stop offset="0.35" stop-color="#f44a4a"/><stop offset="1" stop-color="#e82020"/></radialGradient></defs>
<circle cx="513.20" cy="204.10" r="2.3" fill="url(#dotG)"/>
<circle cx="539.80" cy="204.10" r="2.3" fill="url(#dotG)"/>
<circle cx="566.05" cy="204.10" r="2.3" fill="url(#dotG)"/>
<circle cx="592.30" cy="204.10" r="2.3" fill="url(#dotG)"/>
<circle cx="618.60" cy="204.10" r="2.3" fill="url(#dotG)"/>
<text transform="translate(473.9,250.4) rotate(-90)" font-size="9.7" fill="#3463c0" text-anchor="middle" font-family='"Liberation Sans", sans-serif'>Length of unwound fiber (mm)</text>
<text transform="translate(662.6,248.6) rotate(-90)" font-size="8.8" fill="#e8413c" text-anchor="middle" font-family='"Liberation Sans", sans-serif'>Resistance retention (<tspan font-style="italic">R</tspan>/<tspan font-style="italic">R</tspan><tspan font-size="6" dy="1.5">0</tspan><tspan dy="-1.5">)</tspan></text>
<text x="565.90" y="335.80" font-size="10.6" fill="#222" text-anchor="middle" font-family='"Liberation Sans", sans-serif' font-weight="normal" font-style="normal" >Strain (%)</text>
<text x="0.60" y="374.80" font-size="13.8" fill="#111" text-anchor="start" font-family='"Liberation Sans", sans-serif' font-weight="bold" font-style="normal" >d</text>
<clipPath id="cd"><rect x="25.5" y="372.6" width="185.9" height="148.89999999999998"/></clipPath>
<g clip-path="url(#cd)">
<path d="M38.40,512.90 L40.90,450.15 C41.00,449.57 41.21,447.64 41.46,446.67 C41.71,445.70 41.96,445.12 42.39,444.34 C42.83,443.57 43.43,442.85 44.10,442.02 C44.76,441.19 45.12,440.47 46.39,439.36 C47.66,438.26 49.94,436.51 51.72,435.38 C53.49,434.25 55.22,433.39 57.04,432.56 C58.86,431.73 59.93,431.31 62.63,430.40 C65.34,429.49 69.69,428.08 73.29,427.08 C76.88,426.08 79.85,425.34 84.20,424.42 C88.55,423.51 93.70,422.54 99.38,421.60 C105.06,420.66 110.70,419.94 118.29,418.78 C125.88,417.62 136.04,416.23 144.92,414.63 C153.80,413.03 164.89,410.67 171.55,409.15 C178.21,407.63 180.52,407.13 184.87,405.50 C189.21,403.87 195.52,400.38 197.65,399.36 L195.65,461.28 L195.52,461.28 C194.85,462.27 193.65,465.20 191.52,467.25 C189.39,469.30 186.06,471.79 182.73,473.56 C179.41,475.33 177.01,476.44 171.55,477.88 C166.09,479.31 157.04,480.92 149.98,482.19 C142.92,483.46 134.49,484.74 129.21,485.51 C123.93,486.29 124.55,485.95 118.29,486.84 C112.03,487.73 99.07,489.39 91.66,490.82 C84.25,492.26 78.26,494.28 73.82,495.47 C69.38,496.66 68.71,496.77 65.03,497.96 C61.35,499.15 55.74,500.81 51.72,502.61 C47.69,504.41 42.71,507.73 40.90,508.75 L38.40,512.90" stroke="#333333" stroke-width="1" fill="none" stroke-linejoin="round"/>
<path d="M38.40,512.57 L40.90,450.16 C41.00,449.58 41.21,447.64 41.46,446.67 C41.71,445.70 41.96,445.12 42.39,444.35 C42.83,443.58 43.43,442.86 44.10,442.03 C44.76,441.20 45.12,440.48 46.39,439.38 C47.66,438.28 49.94,436.55 51.72,435.42 C53.49,434.29 55.22,433.44 57.04,432.62 C58.86,431.80 59.93,431.39 62.63,430.50 C65.34,429.60 69.69,428.22 73.29,427.25 C76.88,426.28 79.85,425.55 84.20,424.68 C88.55,423.80 93.70,422.88 99.38,421.99 C105.06,421.11 110.70,420.44 118.29,419.37 C125.88,418.29 136.04,417.03 144.92,415.53 C153.80,414.04 164.89,411.84 171.55,410.41 C178.21,408.99 180.52,408.52 184.87,406.96 C189.21,405.39 195.52,402.00 197.65,401.01 L195.65,461.28 L195.52,461.28 C194.85,462.27 193.65,465.20 191.52,467.25 C189.39,469.30 186.06,471.78 182.73,473.55 C179.41,475.31 177.01,476.42 171.55,477.84 C166.09,479.26 157.04,480.84 149.98,482.07 C142.92,483.31 134.49,484.53 129.21,485.27 C123.93,486.01 124.55,485.69 118.29,486.52 C112.03,487.35 99.07,488.89 91.66,490.25 C84.25,491.61 78.26,493.55 73.82,494.69 C69.38,495.82 68.71,495.92 65.03,497.06 C61.35,498.20 55.74,499.78 51.72,501.52 C47.69,503.26 42.71,506.50 40.90,507.50 L38.40,512.57" stroke="#f0484a" stroke-width="1" fill="none" stroke-linejoin="round"/>
<path d="M38.40,512.24 L40.90,450.16 C41.00,449.58 41.21,447.64 41.46,446.68 C41.71,445.71 41.96,445.13 42.39,444.36 C42.83,443.58 43.43,442.87 44.10,442.04 C44.76,441.22 45.12,440.50 46.39,439.40 C47.66,438.30 49.94,436.58 51.72,435.46 C53.49,434.34 55.22,433.50 57.04,432.69 C58.86,431.88 59.93,431.47 62.63,430.60 C65.34,429.72 69.69,428.36 73.29,427.42 C76.88,426.47 79.85,425.77 84.20,424.93 C88.55,424.09 93.70,423.21 99.38,422.38 C105.06,421.55 110.70,420.95 118.29,419.95 C125.88,418.96 136.04,417.82 144.92,416.44 C153.80,415.06 164.89,413.01 171.55,411.68 C178.21,410.34 180.52,409.92 184.87,408.41 C189.21,406.91 195.52,403.62 197.65,402.66 L195.65,461.28 L195.52,461.28 C194.85,462.27 193.65,465.20 191.52,467.25 C189.39,469.29 186.06,471.78 182.73,473.54 C179.41,475.30 177.01,476.40 171.55,477.80 C166.09,479.21 157.04,480.75 149.98,481.96 C142.92,483.16 134.49,484.32 129.21,485.03 C123.93,485.74 124.55,485.42 118.29,486.19 C112.03,486.97 99.07,488.39 91.66,489.67 C84.25,490.96 78.26,492.82 73.82,493.90 C69.38,494.98 68.71,495.08 65.03,496.16 C61.35,497.25 55.74,498.75 51.72,500.43 C47.69,502.11 42.71,505.27 40.90,506.24 L38.40,512.24" stroke="#3f7de0" stroke-width="1" fill="none" stroke-linejoin="round"/>
<path d="M38.40,511.91 L40.90,450.16 C41.00,449.58 41.21,447.65 41.46,446.68 C41.71,445.71 41.96,445.13 42.39,444.36 C42.83,443.59 43.43,442.88 44.10,442.05 C44.76,441.23 45.12,440.51 46.39,439.42 C47.66,438.33 49.94,436.61 51.72,435.50 C53.49,434.39 55.22,433.56 57.04,432.76 C58.86,431.96 59.93,431.56 62.63,430.69 C65.34,429.83 69.69,428.51 73.29,427.59 C76.88,426.67 79.85,425.99 84.20,425.19 C88.55,424.39 93.70,423.55 99.38,422.78 C105.06,422.00 110.70,421.45 118.29,420.54 C125.88,419.63 136.04,418.61 144.92,417.34 C153.80,416.07 164.89,414.19 171.55,412.94 C178.21,411.70 180.52,411.31 184.87,409.87 C189.21,408.43 195.52,405.24 197.65,404.31 L195.65,461.28 L195.52,461.27 C194.85,462.27 193.65,465.20 191.52,467.25 C189.39,469.29 186.06,471.77 182.73,473.52 C179.41,475.28 177.01,476.38 171.55,477.77 C166.09,479.15 157.04,480.67 149.98,481.84 C142.92,483.01 134.49,484.12 129.21,484.79 C123.93,485.46 124.55,485.15 118.29,485.87 C112.03,486.59 99.07,487.89 91.66,489.10 C84.25,490.31 78.26,492.09 73.82,493.12 C69.38,494.15 68.71,494.23 65.03,495.26 C61.35,496.30 55.74,497.73 51.72,499.35 C47.69,500.97 42.71,504.05 40.90,504.99 L38.40,511.91" stroke="#3cb054" stroke-width="1" fill="none" stroke-linejoin="round"/>
<path d="M38.40,511.57 L40.90,450.17 C41.00,449.59 41.21,447.65 41.46,446.69 C41.71,445.72 41.96,445.14 42.39,444.37 C42.83,443.60 43.43,442.89 44.10,442.06 C44.76,441.24 45.12,440.53 46.39,439.44 C47.66,438.35 49.94,436.64 51.72,435.54 C53.49,434.44 55.22,433.61 57.04,432.82 C58.86,432.03 59.93,431.64 62.63,430.79 C65.34,429.95 69.69,428.65 73.29,427.76 C76.88,426.87 79.85,426.21 84.20,425.44 C88.55,424.68 93.70,423.89 99.38,423.17 C105.06,422.45 110.70,421.95 118.29,421.13 C125.88,420.31 136.04,419.40 144.92,418.24 C153.80,417.09 164.89,415.36 171.55,414.20 C178.21,413.05 180.52,412.70 184.87,411.33 C189.21,409.95 195.52,406.86 197.65,405.96 L195.65,461.28 L195.52,461.27 C194.85,462.27 193.65,465.20 191.52,467.24 C189.39,469.28 186.06,471.76 182.73,473.51 C179.41,475.26 177.01,476.36 171.55,477.73 C166.09,479.10 157.04,480.58 149.98,481.72 C142.92,482.86 134.49,483.91 129.21,484.55 C123.93,485.18 124.55,484.88 118.29,485.55 C112.03,486.21 99.07,487.39 91.66,488.52 C84.25,489.65 78.26,491.36 73.82,492.33 C69.38,493.31 68.71,493.38 65.03,494.37 C61.35,495.35 55.74,496.70 51.72,498.26 C47.69,499.82 42.71,502.82 40.90,503.73 L38.40,511.57" stroke="#b07ef0" stroke-width="1" fill="none" stroke-linejoin="round"/>
</g>
<rect x="25.5" y="372.6" width="185.9" height="148.89999999999998" fill="none" stroke="#666" stroke-width="1"/>
<line x1="25.50" y1="521.50" x2="211.40" y2="521.50" stroke="#8a8a8a" stroke-width="1.7" />
<line x1="38.40" y1="521.50" x2="38.40" y2="519.10" stroke="#555" stroke-width="0.9" />
<text x="38.40" y="533.00" font-size="9.5" fill="#222" text-anchor="middle" font-family='"Liberation Sans", sans-serif' font-weight="normal" font-style="normal" >0.0</text>
<line x1="51.72" y1="521.50" x2="51.72" y2="520.00" stroke="#555" stroke-width="0.9" />
<line x1="65.03" y1="521.50" x2="65.03" y2="519.10" stroke="#555" stroke-width="0.9" />
<text x="65.03" y="533.00" font-size="9.5" fill="#222" text-anchor="middle" font-family='"Liberation Sans", sans-serif' font-weight="normal" font-style="normal" >0.1</text>
<line x1="78.34" y1="521.50" x2="78.34" y2="520.00" stroke="#555" stroke-width="0.9" />
<line x1="91.66" y1="521.50" x2="91.66" y2="519.10" stroke="#555" stroke-width="0.9" />
<text x="91.66" y="533.00" font-size="9.5" fill="#222" text-anchor="middle" font-family='"Liberation Sans", sans-serif' font-weight="normal" font-style="normal" >0.2</text>
<line x1="104.97" y1="521.50" x2="104.97" y2="520.00" stroke="#555" stroke-width="0.9" />
<line x1="118.29" y1="521.50" x2="118.29" y2="519.10" stroke="#555" stroke-width="0.9" />
<text x="118.29" y="533.00" font-size="9.5" fill="#222" text-anchor="middle" font-family='"Liberation Sans", sans-serif' font-weight="normal" font-style="normal" >0.3</text>
<line x1="131.61" y1="521.50" x2="131.61" y2="520.00" stroke="#555" stroke-width="0.9" />
<line x1="144.92" y1="521.50" x2="144.92" y2="519.10" stroke="#555" stroke-width="0.9" />
<text x="144.92" y="533.00" font-size="9.5" fill="#222" text-anchor="middle" font-family='"Liberation Sans", sans-serif' font-weight="normal" font-style="normal" >0.4</text>
<line x1="158.24" y1="521.50" x2="158.24" y2="520.00" stroke="#555" stroke-width="0.9" />
<line x1="171.55" y1="521.50" x2="171.55" y2="519.10" stroke="#555" stroke-width="0.9" />
<text x="171.55" y="533.00" font-size="9.5" fill="#222" text-anchor="middle" font-family='"Liberation Sans", sans-serif' font-weight="normal" font-style="normal" >0.5</text>
<line x1="184.87" y1="521.50" x2="184.87" y2="520.00" stroke="#555" stroke-width="0.9" />
<line x1="198.18" y1="521.50" x2="198.18" y2="519.10" stroke="#555" stroke-width="0.9" />
<text x="198.18" y="533.00" font-size="9.5" fill="#222" text-anchor="middle" font-family='"Liberation Sans", sans-serif' font-weight="normal" font-style="normal" >0.6</text>
<line x1="25.50" y1="521.70" x2="27.90" y2="521.70" stroke="#555" stroke-width="0.9" />
<text x="22.50" y="525.10" font-size="9.5" fill="#222" text-anchor="end" font-family='"Liberation Sans", sans-serif' font-weight="normal" font-style="normal" >-4</text>
<line x1="25.50" y1="505.10" x2="27.00" y2="505.10" stroke="#555" stroke-width="0.9" />
<line x1="25.50" y1="488.50" x2="27.90" y2="488.50" stroke="#555" stroke-width="0.9" />
<text x="22.50" y="491.90" font-size="9.5" fill="#222" text-anchor="end" font-family='"Liberation Sans", sans-serif' font-weight="normal" font-style="normal" >-2</text>
<line x1="25.50" y1="471.90" x2="27.00" y2="471.90" stroke="#555" stroke-width="0.9" />
<line x1="25.50" y1="455.30" x2="27.90" y2="455.30" stroke="#555" stroke-width="0.9" />
<text x="22.50" y="458.70" font-size="9.5" fill="#222" text-anchor="end" font-family='"Liberation Sans", sans-serif' font-weight="normal" font-style="normal" >0</text>
<line x1="25.50" y1="438.70" x2="27.00" y2="438.70" stroke="#555" stroke-width="0.9" />
<line x1="25.50" y1="422.10" x2="27.90" y2="422.10" stroke="#555" stroke-width="0.9" />
<text x="22.50" y="425.50" font-size="9.5" fill="#222" text-anchor="end" font-family='"Liberation Sans", sans-serif' font-weight="normal" font-style="normal" >2</text>
<line x1="25.50" y1="405.50" x2="27.00" y2="405.50" stroke="#555" stroke-width="0.9" />
<line x1="25.50" y1="388.90" x2="27.90" y2="388.90" stroke="#555" stroke-width="0.9" />
<text x="22.50" y="392.30" font-size="9.5" fill="#222" text-anchor="end" font-family='"Liberation Sans", sans-serif' font-weight="normal" font-style="normal" >4</text>
<line x1="40.00" y1="385.40" x2="60.40" y2="385.40" stroke="#333333" stroke-width="1.1" />
<text x="63.00" y="388.80" font-size="9.4" fill="#222" font-family='"Liberation Sans", sans-serif'><tspan font-family='"Liberation Serif", serif' font-size="11">ε</tspan> = 0%</text>
<line x1="40.00" y1="397.70" x2="60.40" y2="397.70" stroke="#f0484a" stroke-width="1.1" />
<text x="63.00" y="401.10" font-size="9.4" fill="#222" font-family='"Liberation Sans", sans-serif'><tspan font-family='"Liberation Serif", serif' font-size="11">ε</tspan> = 50%</text>
<line x1="40.00" y1="410.10" x2="60.40" y2="410.10" stroke="#3f7de0" stroke-width="1.1" />
<text x="63.00" y="413.50" font-size="9.4" fill="#222" font-family='"Liberation Sans", sans-serif'><tspan font-family='"Liberation Serif", serif' font-size="11">ε</tspan> = 100%</text>
<line x1="101.60" y1="385.40" x2="122.00" y2="385.40" stroke="#3cb054" stroke-width="1.1" />
<text x="124.60" y="388.80" font-size="9.4" fill="#222" font-family='"Liberation Sans", sans-serif'><tspan font-family='"Liberation Serif", serif' font-size="11">ε</tspan> = 150%</text>
<line x1="101.60" y1="397.70" x2="122.00" y2="397.70" stroke="#b07ef0" stroke-width="1.1" />
<text x="124.60" y="401.10" font-size="9.4" fill="#222" font-family='"Liberation Sans", sans-serif'><tspan font-family='"Liberation Serif", serif' font-size="11">ε</tspan> = 200%</text>
<text x="204.80" y="514.00" font-size="9.3" fill="#222" text-anchor="end" font-family='"Liberation Sans", sans-serif' font-weight="normal" font-style="normal" >@ 10 mV/s</text>
<text x="118.70" y="549.20" font-size="11.9" fill="#222" text-anchor="middle" font-family='"Liberation Sans", sans-serif' font-weight="normal" font-style="normal" >Voltage (V)</text>
<text transform="translate(8.7,443.8) rotate(-90)" font-size="10.7" fill="#222" text-anchor="middle" font-family='"Liberation Sans", sans-serif'>Current (μA)</text>
<text x="228.40" y="374.80" font-size="13.8" fill="#111" text-anchor="start" font-family='"Liberation Sans", sans-serif' font-weight="bold" font-style="normal" >e</text>
<clipPath id="ce"><rect x="259.8" y="372.6" width="185.2" height="148.89999999999998"/></clipPath>
<g clip-path="url(#ce)">
<path d="M268.80,521.10 L268.84,521.10 L268.89,521.10 L268.93,521.10 L268.98,521.10 L269.02,521.10 L269.06,521.10 L269.11,521.10 L269.15,521.10 L269.20,513.99 L269.24,506.87 L269.28,499.76 L269.33,492.64 L269.37,485.53 L269.42,478.60 L269.46,471.96 L269.50,465.32 L269.55,458.68 L269.59,453.54 L269.64,450.63 L269.68,447.73 L269.73,445.24 L269.77,444.41 L269.81,443.58 L269.86,442.75 L269.90,442.04 L269.95,441.81 L269.99,441.58 L270.03,441.35 L270.08,441.12 L270.12,440.89 L270.17,440.65 L270.21,440.42 L270.25,440.34 L270.30,440.26 L270.34,440.18 L270.39,440.09 L270.43,440.01 L270.47,439.93 L270.52,439.84 L270.56,439.76 L270.91,439.10 L271.27,438.52 L271.62,437.93 L271.97,437.35 L272.32,436.77 L272.68,436.37 L273.03,435.98 L273.38,435.58 L273.73,435.18 L274.09,434.78 L274.44,434.38 L274.79,433.98 L275.14,433.58 L275.50,433.19 L275.85,432.79 L276.20,432.52 L276.55,432.26 L276.91,431.99 L277.26,431.73 L277.61,431.46 L277.96,431.19 L278.31,430.93 L278.67,430.66 L279.02,430.40 L279.37,430.13 L279.72,429.95 L280.08,429.77 L280.43,429.58 L280.78,429.40 L281.13,429.22 L281.49,429.04 L281.84,428.85 L282.19,428.67 L282.54,428.49 L282.90,428.31 L283.25,428.12 L283.60,427.94 L283.95,427.76 L284.31,427.58 L284.66,427.39 L285.01,427.21 L285.36,427.03 L285.72,426.85 L286.07,426.66 L286.42,426.48 L288.53,425.84 L290.65,425.21 L292.76,424.57 L294.88,423.93 L296.99,423.77 L299.11,423.20 L301.22,423.02 L303.34,422.52 L305.45,422.29 L307.56,422.58 L309.68,422.46 L311.79,421.64 L313.91,421.94 L316.02,421.80 L318.14,421.04 L320.25,421.30 L322.36,420.89 L324.48,421.13 L326.59,420.96 L328.71,421.31 L330.82,420.89 L332.94,420.66 L335.05,420.90 L337.17,420.68 L339.28,420.70 L341.39,421.18 L343.51,420.63 L345.62,420.76 L347.74,420.99 L349.85,421.21 L351.97,420.54 L354.08,420.86 L356.20,420.66 L358.31,420.53 L360.42,420.67 L362.54,420.50 L364.65,420.92 L366.77,420.60 L368.88,420.88 L371.00,420.49 L373.11,420.53 L375.22,421.17 L377.34,421.18 L379.45,421.15 L381.57,420.60 L383.68,421.06 L385.80,420.95 L387.91,421.25 L390.03,421.12 L392.14,421.26 L394.25,421.33 L396.37,421.18 L398.48,421.22 L400.60,421.01 L402.71,421.22 L404.83,421.07 L406.94,421.16 L409.06,421.10 L411.17,421.39 L413.28,421.83 L415.40,421.32 L417.51,421.28 L419.63,421.36 L421.74,421.67 L423.86,421.60 L425.97,422.04 L428.08,421.58 L430.20,421.83 L432.31,422.10 L434.43,422.31 L436.54,421.72 L438.66,421.65 L440.77,422.41 L442.89,421.88 L445.00,422.24" stroke="#333333" stroke-width="1" fill="none" stroke-linejoin="round"/>
<path d="M268.80,521.10 L268.84,521.10 L268.89,521.10 L268.93,521.10 L268.98,521.10 L269.02,521.10 L269.06,521.10 L269.11,521.10 L269.15,521.10 L269.20,513.99 L269.24,506.87 L269.28,499.76 L269.33,492.64 L269.37,485.53 L269.42,477.94 L269.46,469.64 L269.50,461.34 L269.55,453.04 L269.59,446.82 L269.64,443.70 L269.68,440.59 L269.73,437.93 L269.77,437.10 L269.81,436.27 L269.86,435.44 L269.90,434.73 L269.95,434.50 L269.99,434.27 L270.03,434.04 L270.08,433.81 L270.12,433.58 L270.17,433.35 L270.21,433.12 L270.25,433.06 L270.30,433.00 L270.34,432.93 L270.39,432.87 L270.43,432.81 L270.47,432.75 L270.52,432.68 L270.56,432.62 L270.91,432.12 L271.27,431.79 L271.62,431.46 L271.97,431.13 L272.32,430.80 L272.68,430.66 L273.03,430.53 L273.38,430.40 L273.73,430.26 L274.09,430.13 L274.44,430.00 L274.79,429.87 L275.14,429.73 L275.50,429.60 L275.85,429.47 L276.20,429.37 L276.55,429.27 L276.91,429.17 L277.26,429.07 L277.61,428.97 L277.96,428.87 L278.31,428.77 L278.67,428.67 L279.02,428.57 L279.37,428.47 L279.72,428.37 L280.08,428.27 L280.43,428.17 L280.78,428.07 L281.13,427.97 L281.49,427.87 L281.84,427.77 L282.19,427.68 L282.54,427.58 L282.90,427.48 L283.25,427.38 L283.60,427.28 L283.95,427.18 L284.31,427.08 L284.66,426.98 L285.01,426.88 L285.36,426.78 L285.72,426.68 L286.07,426.58 L286.42,426.48 L288.53,426.16 L290.65,425.84 L292.76,425.52 L294.88,425.21 L296.99,425.30 L299.11,425.02 L301.22,424.49 L303.34,424.24 L305.45,424.74 L307.56,424.13 L309.68,424.43 L311.79,423.73 L313.91,423.91 L316.02,423.36 L318.14,423.18 L320.25,423.45 L322.36,422.95 L324.48,423.39 L326.59,423.47 L328.71,422.95 L330.82,423.29 L332.94,423.06 L335.05,422.78 L337.17,422.51 L339.28,422.77 L341.39,422.74 L343.51,421.96 L345.62,422.29 L347.74,421.65 L349.85,421.58 L351.97,421.88 L354.08,421.69 L356.20,421.52 L358.31,421.36 L360.42,421.36 L362.54,421.35 L364.65,421.26 L366.77,420.96 L368.88,421.27 L371.00,421.29 L373.11,421.02 L375.22,421.38 L377.34,421.33 L379.45,420.79 L381.57,421.15 L383.68,421.13 L385.80,421.56 L387.91,421.24 L390.03,421.10 L392.14,421.55 L394.25,421.12 L396.37,421.14 L398.48,421.64 L400.60,421.23 L402.71,421.39 L404.83,421.26 L406.94,421.56 L409.06,421.32 L411.17,421.34 L413.28,421.95 L415.40,421.96 L417.51,421.51 L419.63,421.32 L421.74,421.92 L423.86,421.80 L425.97,421.73 L428.08,421.99 L430.20,421.99 L432.31,422.07 L434.43,422.07 L436.54,421.93 L438.66,422.20 L440.77,422.18 L442.89,421.91 L445.00,422.54" stroke="#f0484a" stroke-width="1" fill="none" stroke-linejoin="round"/>
<path d="M268.80,521.10 L268.84,521.10 L268.89,521.10 L268.93,521.10 L268.98,521.10 L269.02,521.10 L269.06,521.10 L269.11,521.10 L269.15,521.10 L269.20,513.39 L269.24,505.69 L269.28,497.98 L269.33,490.27 L269.37,482.56 L269.42,474.62 L269.46,466.32 L269.50,458.02 L269.55,449.72 L269.59,443.58 L269.64,440.67 L269.68,437.77 L269.73,435.31 L269.77,434.65 L269.81,433.98 L269.86,433.32 L269.90,432.75 L269.95,432.57 L269.99,432.38 L270.03,432.20 L270.08,432.01 L270.12,431.83 L270.17,431.64 L270.21,431.46 L270.25,431.40 L270.30,431.34 L270.34,431.27 L270.39,431.21 L270.43,431.15 L270.47,431.09 L270.52,431.02 L270.56,430.96 L270.91,430.46 L271.27,430.13 L271.62,429.80 L271.97,429.47 L272.32,429.14 L272.68,429.00 L273.03,428.87 L273.38,428.74 L273.73,428.60 L274.09,428.47 L274.44,428.34 L274.79,428.21 L275.14,428.07 L275.50,427.94 L275.85,427.81 L276.20,427.71 L276.55,427.61 L276.91,427.51 L277.26,427.41 L277.61,427.31 L277.96,427.21 L278.31,427.11 L278.67,427.01 L279.02,426.91 L279.37,426.81 L279.72,426.71 L280.08,426.61 L280.43,426.51 L280.78,426.41 L281.13,426.31 L281.49,426.21 L281.84,426.11 L282.19,426.02 L282.54,425.92 L282.90,425.82 L283.25,425.72 L283.60,425.62 L283.95,425.52 L284.31,425.42 L284.66,425.32 L285.01,425.22 L285.36,425.12 L285.72,425.02 L286.07,424.92 L286.42,424.82 L288.53,424.42 L290.65,424.02 L292.76,423.62 L294.88,423.23 L296.99,422.91 L299.11,422.53 L301.22,422.63 L303.34,422.46 L305.45,421.84 L307.56,422.17 L309.68,422.09 L311.79,421.78 L313.91,421.45 L316.02,421.80 L318.14,421.51 L320.25,421.38 L322.36,420.89 L324.48,421.16 L326.59,420.79 L328.71,421.30 L330.82,421.13 L332.94,420.84 L335.05,420.61 L337.17,420.91 L339.28,421.06 L341.39,421.14 L343.51,420.81 L345.62,421.08 L347.74,420.59 L349.85,420.57 L351.97,421.09 L354.08,421.01 L356.20,420.59 L358.31,420.72 L360.42,420.59 L362.54,420.96 L364.65,421.13 L366.77,421.00 L368.88,420.60 L371.00,421.02 L373.11,420.96 L375.22,420.92 L377.34,420.95 L379.45,421.00 L381.57,420.63 L383.68,421.28 L385.80,421.44 L387.91,420.74 L390.03,420.83 L392.14,420.78 L394.25,421.26 L396.37,420.89 L398.48,420.95 L400.60,421.55 L402.71,421.17 L404.83,421.14 L406.94,421.32 L409.06,421.47 L411.17,421.69 L413.28,421.69 L415.40,421.82 L417.51,421.99 L419.63,421.62 L421.74,421.90 L423.86,421.52 L425.97,422.17 L428.08,421.54 L430.20,421.78 L432.31,421.68 L434.43,421.78 L436.54,421.86 L438.66,422.20 L440.77,422.72 L442.89,422.22 L445.00,422.76" stroke="#3f7de0" stroke-width="1" fill="none" stroke-linejoin="round"/>
<path d="M268.80,521.10 L268.84,521.10 L268.89,521.10 L268.93,521.10 L268.98,521.10 L269.02,521.10 L269.06,521.10 L269.11,521.10 L269.15,521.10 L269.20,514.58 L269.24,508.06 L269.28,501.54 L269.33,495.01 L269.37,488.49 L269.42,481.59 L269.46,474.12 L269.50,466.65 L269.55,459.18 L269.59,453.04 L269.64,448.89 L269.68,444.74 L269.73,441.22 L269.77,440.22 L269.81,439.23 L269.86,438.23 L269.90,437.37 L269.95,437.05 L269.99,436.73 L270.03,436.40 L270.08,436.08 L270.12,435.76 L270.17,435.43 L270.21,435.11 L270.25,434.99 L270.30,434.86 L270.34,434.74 L270.39,434.61 L270.43,434.49 L270.47,434.37 L270.52,434.24 L270.56,434.12 L270.91,433.12 L271.27,432.54 L271.62,431.96 L271.97,431.38 L272.32,430.80 L272.68,430.56 L273.03,430.33 L273.38,430.10 L273.73,429.87 L274.09,429.63 L274.44,429.40 L274.79,429.17 L275.14,428.94 L275.50,428.70 L275.85,428.47 L276.20,428.31 L276.55,428.14 L276.91,427.97 L277.26,427.81 L277.61,427.64 L277.96,427.48 L278.31,427.31 L278.67,427.14 L279.02,426.98 L279.37,426.81 L279.72,426.73 L280.08,426.65 L280.43,426.56 L280.78,426.48 L281.13,426.40 L281.49,426.31 L281.84,426.23 L282.19,426.15 L282.54,426.07 L282.90,425.98 L283.25,425.90 L283.60,425.82 L283.95,425.73 L284.31,425.65 L284.66,425.57 L285.01,425.48 L285.36,425.40 L285.72,425.32 L286.07,425.24 L286.42,425.15 L288.53,424.75 L290.65,424.36 L292.76,423.96 L294.88,423.56 L296.99,423.45 L299.11,422.92 L301.22,422.79 L303.34,422.64 L305.45,422.09 L307.56,422.27 L309.68,422.41 L311.79,422.40 L313.91,421.84 L316.02,422.06 L318.14,421.74 L320.25,422.00 L322.36,422.06 L324.48,421.75 L326.59,421.49 L328.71,421.96 L330.82,421.43 L332.94,421.28 L335.05,421.34 L337.17,421.28 L339.28,421.89 L341.39,421.36 L343.51,421.13 L345.62,421.74 L347.74,421.52 L349.85,421.49 L351.97,421.24 L354.08,421.28 L356.20,421.20 L358.31,420.95 L360.42,421.56 L362.54,421.52 L364.65,421.47 L366.77,421.47 L368.88,421.51 L371.00,420.79 L373.11,420.89 L375.22,421.50 L377.34,421.17 L379.45,421.31 L381.57,421.32 L383.68,421.29 L385.80,421.05 L387.91,421.10 L390.03,421.28 L392.14,421.41 L394.25,421.30 L396.37,421.47 L398.48,421.12 L400.60,421.00 L402.71,421.26 L404.83,421.50 L406.94,421.42 L409.06,421.27 L411.17,421.11 L413.28,421.01 L415.40,421.37 L417.51,421.07 L419.63,421.26 L421.74,421.45 L423.86,421.54 L425.97,421.48 L428.08,421.35 L430.20,421.62 L432.31,421.44 L434.43,421.66 L436.54,421.88 L438.66,421.68 L440.77,421.60 L442.89,422.13 L445.00,421.89" stroke="#3cb054" stroke-width="1" fill="none" stroke-linejoin="round"/>
<path d="M268.80,521.10 L268.84,521.10 L268.89,521.10 L268.93,521.10 L268.98,521.10 L269.02,521.10 L269.06,521.10 L269.11,521.10 L269.15,521.10 L269.20,514.58 L269.24,508.06 L269.28,501.54 L269.33,495.01 L269.37,488.49 L269.42,481.59 L269.46,474.12 L269.50,466.65 L269.55,459.18 L269.59,453.21 L269.64,449.47 L269.68,445.74 L269.73,442.53 L269.77,441.45 L269.81,440.37 L269.86,439.30 L269.90,438.37 L269.95,438.04 L269.99,437.72 L270.03,437.40 L270.08,437.08 L270.12,436.75 L270.17,436.43 L270.21,436.11 L270.25,435.98 L270.30,435.86 L270.34,435.73 L270.39,435.61 L270.43,435.49 L270.47,435.36 L270.52,435.24 L270.56,435.11 L270.91,434.12 L271.27,433.45 L271.62,432.79 L271.97,432.12 L272.32,431.46 L272.68,431.16 L273.03,430.86 L273.38,430.56 L273.73,430.26 L274.09,429.97 L274.44,429.67 L274.79,429.37 L275.14,429.07 L275.50,428.77 L275.85,428.47 L276.20,428.31 L276.55,428.14 L276.91,427.97 L277.26,427.81 L277.61,427.64 L277.96,427.48 L278.31,427.31 L278.67,427.14 L279.02,426.98 L279.37,426.81 L279.72,426.71 L280.08,426.61 L280.43,426.51 L280.78,426.41 L281.13,426.31 L281.49,426.21 L281.84,426.11 L282.19,426.02 L282.54,425.92 L282.90,425.82 L283.25,425.72 L283.60,425.62 L283.95,425.52 L284.31,425.42 L284.66,425.32 L285.01,425.22 L285.36,425.12 L285.72,425.02 L286.07,424.92 L286.42,424.82 L288.53,424.42 L290.65,424.02 L292.76,423.62 L294.88,423.23 L296.99,422.95 L299.11,422.27 L301.22,421.91 L303.34,422.04 L305.45,421.44 L307.56,421.40 L309.68,421.70 L311.79,421.42 L313.91,421.57 L316.02,420.91 L318.14,420.91 L320.25,420.61 L322.36,420.59 L324.48,420.65 L326.59,420.56 L328.71,420.65 L330.82,420.98 L332.94,420.55 L335.05,420.98 L337.17,420.83 L339.28,420.29 L341.39,420.87 L343.51,420.83 L345.62,420.82 L347.74,420.20 L349.85,420.76 L351.97,420.88 L354.08,420.23 L356.20,420.81 L358.31,420.26 L360.42,420.43 L362.54,420.34 L364.65,420.29 L366.77,420.63 L368.88,420.49 L371.00,421.14 L373.11,420.60 L375.22,420.85 L377.34,420.77 L379.45,421.34 L381.57,420.90 L383.68,420.84 L385.80,421.61 L387.91,421.48 L390.03,421.37 L392.14,421.24 L394.25,421.79 L396.37,421.91 L398.48,421.94 L400.60,421.73 L402.71,421.70 L404.83,422.06 L406.94,422.16 L409.06,422.22 L411.17,422.34 L413.28,422.36 L415.40,422.71 L417.51,422.46 L419.63,422.16 L421.74,422.68 L423.86,422.50 L425.97,423.05 L428.08,422.70 L430.20,422.73 L432.31,422.88 L434.43,423.08 L436.54,423.19 L438.66,423.14 L440.77,423.02 L442.89,423.69 L445.00,423.81" stroke="#b07ef0" stroke-width="1" fill="none" stroke-linejoin="round"/>
</g>
<rect x="259.8" y="372.6" width="185.2" height="148.89999999999998" fill="none" stroke="#666" stroke-width="1"/>
<line x1="259.80" y1="521.50" x2="445.00" y2="521.50" stroke="#8a8a8a" stroke-width="1.7" />
<line x1="268.80" y1="521.50" x2="268.80" y2="519.10" stroke="#555" stroke-width="0.9" />
<text x="268.80" y="533.00" font-size="9.5" fill="#222" text-anchor="middle" font-family='"Liberation Sans", sans-serif' font-weight="normal" font-style="normal" >0</text>
<line x1="290.82" y1="521.50" x2="290.82" y2="520.00" stroke="#555" stroke-width="0.9" />
<line x1="312.85" y1="521.50" x2="312.85" y2="519.10" stroke="#555" stroke-width="0.9" />
<text x="312.85" y="533.00" font-size="9.5" fill="#222" text-anchor="middle" font-family='"Liberation Sans", sans-serif' font-weight="normal" font-style="normal" >250</text>
<line x1="334.88" y1="521.50" x2="334.88" y2="520.00" stroke="#555" stroke-width="0.9" />
<line x1="356.90" y1="521.50" x2="356.90" y2="519.10" stroke="#555" stroke-width="0.9" />
<text x="356.90" y="533.00" font-size="9.5" fill="#222" text-anchor="middle" font-family='"Liberation Sans", sans-serif' font-weight="normal" font-style="normal" >500</text>
<line x1="378.93" y1="521.50" x2="378.93" y2="520.00" stroke="#555" stroke-width="0.9" />
<line x1="400.95" y1="521.50" x2="400.95" y2="519.10" stroke="#555" stroke-width="0.9" />
<text x="400.95" y="533.00" font-size="9.5" fill="#222" text-anchor="middle" font-family='"Liberation Sans", sans-serif' font-weight="normal" font-style="normal" >750</text>
<line x1="422.98" y1="521.50" x2="422.98" y2="520.00" stroke="#555" stroke-width="0.9" />
<line x1="445.00" y1="521.50" x2="445.00" y2="519.10" stroke="#555" stroke-width="0.9" />
<text x="445.60" y="533.00" font-size="9.5" fill="#222" text-anchor="middle" font-family='"Liberation Sans", sans-serif' font-weight="normal" font-style="normal" >1000</text>
<line x1="259.80" y1="521.10" x2="262.20" y2="521.10" stroke="#555" stroke-width="0.9" />
<text x="256.60" y="524.50" font-size="9.5" fill="#222" text-anchor="end" font-family='"Liberation Sans", sans-serif' font-weight="normal" font-style="normal" >0.0</text>
<line x1="259.80" y1="504.50" x2="261.30" y2="504.50" stroke="#555" stroke-width="0.9" />
<line x1="259.80" y1="487.90" x2="262.20" y2="487.90" stroke="#555" stroke-width="0.9" />
<text x="256.60" y="491.30" font-size="9.5" fill="#222" text-anchor="end" font-family='"Liberation Sans", sans-serif' font-weight="normal" font-style="normal" >0.1</text>
<line x1="259.80" y1="471.30" x2="261.30" y2="471.30" stroke="#555" stroke-width="0.9" />
<line x1="259.80" y1="454.70" x2="262.20" y2="454.70" stroke="#555" stroke-width="0.9" />
<text x="256.60" y="458.10" font-size="9.5" fill="#222" text-anchor="end" font-family='"Liberation Sans", sans-serif' font-weight="normal" font-style="normal" >0.2</text>
<line x1="259.80" y1="438.10" x2="261.30" y2="438.10" stroke="#555" stroke-width="0.9" />
<line x1="259.80" y1="421.50" x2="262.20" y2="421.50" stroke="#555" stroke-width="0.9" />
<text x="256.60" y="424.90" font-size="9.5" fill="#222" text-anchor="end" font-family='"Liberation Sans", sans-serif' font-weight="normal" font-style="normal" >0.3</text>
<line x1="259.80" y1="404.90" x2="261.30" y2="404.90" stroke="#555" stroke-width="0.9" />
<line x1="259.80" y1="388.30" x2="262.20" y2="388.30" stroke="#555" stroke-width="0.9" />
<text x="256.60" y="391.70" font-size="9.5" fill="#222" text-anchor="end" font-family='"Liberation Sans", sans-serif' font-weight="normal" font-style="normal" >0.4</text>
<line x1="271.10" y1="384.80" x2="291.50" y2="384.80" stroke="#999" stroke-width="1.0" />
<text x="294.10" y="388.20" font-size="9.4" fill="#222" font-family='"Liberation Sans", sans-serif'><tspan font-family='"Liberation Serif", serif' font-size="11">ε</tspan> = 0%</text>
<line x1="271.10" y1="397.10" x2="291.50" y2="397.10" stroke="#f05a5a" stroke-width="1.0" />
<text x="294.10" y="400.50" font-size="9.4" fill="#222" font-family='"Liberation Sans", sans-serif'><tspan font-family='"Liberation Serif", serif' font-size="11">ε</tspan> = 50%</text>
<line x1="271.10" y1="409.50" x2="291.50" y2="409.50" stroke="#5588e8" stroke-width="1.0" />
<text x="294.10" y="412.90" font-size="9.4" fill="#222" font-family='"Liberation Sans", sans-serif'><tspan font-family='"Liberation Serif", serif' font-size="11">ε</tspan> = 100%</text>
<line x1="334.80" y1="384.80" x2="355.20" y2="384.80" stroke="#8fd09a" stroke-width="1.0" />
<text x="357.80" y="388.20" font-size="9.4" fill="#222" font-family='"Liberation Sans", sans-serif'><tspan font-family='"Liberation Serif", serif' font-size="11">ε</tspan> = 150%</text>
<line x1="334.80" y1="397.10" x2="355.20" y2="397.10" stroke="#b88ef0" stroke-width="1.0" />
<text x="357.80" y="400.50" font-size="9.4" fill="#222" font-family='"Liberation Sans", sans-serif'><tspan font-family='"Liberation Serif", serif' font-size="11">ε</tspan> = 200%</text>
<text x="353.00" y="549.20" font-size="11.7" fill="#222" text-anchor="middle" font-family='"Liberation Sans", sans-serif' font-weight="normal" font-style="normal" >Time (s)</text>
<text transform="translate(236.6,444.5) rotate(-90)" font-size="10.7" fill="#222" text-anchor="middle" font-family='"Liberation Sans", sans-serif'>Voltage (V)</text>
<text x="460.30" y="373.80" font-size="13.8" fill="#111" text-anchor="start" font-family='"Liberation Sans", sans-serif' font-weight="bold" font-style="normal" >f</text>
<text x="676.60" y="366.60" font-size="10.1" fill="#222" text-anchor="end" font-family='"Liberation Sans", sans-serif' font-weight="normal" font-style="normal" >S: Stretching; R: Releasing</text>
<line x1="587.15" y1="389.81" x2="587.15" y2="422.20" stroke="#999" stroke-width="0.8" stroke-dasharray="2,1.5"/>
<path d="M496.60,422.00 L496.83,412.75 L497.05,417.82 L497.28,414.14 L497.51,411.44 L497.73,409.39 L497.96,407.80 L498.18,406.51 L498.41,405.44 L498.64,404.52 L498.86,403.72 L499.09,403.00 L499.32,402.35 L499.54,401.74 L499.77,401.19 L500.00,400.66 L500.22,400.18 L500.45,399.71 L500.67,399.28 L500.90,398.87 L501.13,398.48 L502.03,397.10 L502.94,395.97 L503.84,395.04 L504.75,394.26 L505.66,393.61 L506.56,393.05 L507.47,392.58 L508.37,392.17 L509.28,391.82 L510.18,391.51 L511.09,391.24 L511.99,391.00 L512.90,390.79 L513.80,390.59 L514.71,390.42 L515.62,390.26 L516.52,390.12 L517.43,389.99 L518.33,389.87 L519.24,389.76 L520.14,389.65 L521.05,389.56 L521.95,389.47 L522.86,389.39 L523.76,389.32 L524.67,389.25 L525.58,389.18 L526.48,389.12 L527.39,389.07 L528.29,389.02 L529.20,388.97 L530.10,388.92 L531.01,388.88 L531.91,388.84 L532.82,388.80 L533.73,388.77 L534.63,388.73 L535.54,388.70 L536.44,388.67 L537.35,388.65 L538.25,388.62 L539.16,388.60 L540.06,388.58 L540.97,388.55 L541.88,388.53 L542.78,388.52 L543.69,388.50 L544.59,388.48 L545.50,388.47 L546.40,388.45 L547.31,388.44 L548.21,388.42 L549.12,388.41 L550.02,388.40 L550.93,388.39 L551.84,388.38 L552.74,388.37 L553.65,388.36 L554.55,388.35 L555.46,388.34 L556.36,388.33 L557.27,388.32 L558.17,388.31 L559.08,388.31 L559.99,388.30 L560.89,388.29 L561.80,388.28 L562.70,388.28 L563.61,388.27 L564.51,388.27 L565.42,388.26 L566.32,388.25 L567.23,388.25 L568.13,388.24 L569.04,388.24 L569.95,388.23 L570.85,388.23 L571.76,388.22 L572.66,388.22 L573.57,388.21 L574.47,388.21 L575.38,388.20 L576.28,388.20 L577.19,388.20 L578.10,388.19 L579.00,388.19 L579.91,388.18 L580.81,388.18 L581.72,388.17 L582.62,388.17 L583.53,388.17 L584.43,388.16 L585.34,388.16 L586.24,388.27 L587.15,388.82 L588.06,388.26 L588.96,388.14 L589.87,388.14 L590.77,388.14 L591.68,388.13 L592.58,388.13 L593.49,388.13 L594.39,388.12 L595.30,388.12 L596.21,388.11 L597.11,388.11 L598.02,388.11 L598.92,388.10 L599.83,388.10 L600.73,388.10 L601.64,388.09 L602.54,388.09 L603.45,388.09 L604.35,388.08 L605.26,388.08 L606.17,388.08 L607.07,388.07 L607.98,388.07 L608.88,388.07 L609.79,388.06 L610.69,388.06 L611.60,388.06 L612.50,388.05 L613.41,388.05 L614.32,388.05 L615.22,388.04 L616.13,388.04 L617.03,388.04 L617.94,388.03 L618.84,388.03 L619.75,388.03 L620.65,388.02 L621.56,388.02 L622.46,388.02 L623.37,388.01 L624.28,388.01 L625.18,388.01 L626.09,388.00 L626.99,388.00 L627.90,388.00 L628.80,387.99 L629.71,387.99 L630.61,387.99 L631.52,387.98 L632.42,387.98 L633.33,387.98 L634.24,387.97 L635.14,387.97 L636.05,387.97 L636.95,387.96 L637.86,387.96 L638.76,387.96 L639.67,387.95 L640.57,387.95 L641.48,387.95 L642.39,387.94 L643.29,387.94 L644.20,387.94 L645.10,387.93 L646.01,387.93 L646.91,387.93 L647.82,387.92 L648.72,387.92 L649.63,387.92 L650.54,387.91 L651.44,387.91 L652.35,387.91 L653.25,387.90 L654.16,387.90 L655.06,387.90 L655.97,387.89 L656.87,387.89 L657.78,387.89 L658.68,387.88 L659.59,387.88 L660.50,387.88 L661.40,387.87 L662.31,387.87 L663.21,387.87 L664.12,387.86 L665.02,387.86 L665.93,387.86 L666.83,387.85 L667.74,387.85 L668.64,387.85 L669.55,387.84 L670.46,387.84 L671.36,387.84 L672.27,387.83 L673.17,387.83 L674.08,387.83 L674.98,387.82 L675.89,387.82 L676.79,387.82 L677.70,387.81" stroke="#e5a530" stroke-width="1.1" fill="none"/>
<text x="494.6" y="383.50" font-size="8.8" fill="#d89a2a" font-family='"Liberation Sans", sans-serif'><tspan font-family='"Liberation Serif", serif' font-size="11">ε</tspan> = 200% with 2% s<tspan font-size="6" dy="-3">-1</tspan></text>
<text transform="translate(541.88,404.70) rotate(-35)" font-size="9.6" fill="#d89a2a" text-anchor="middle" font-family='"Liberation Sans", sans-serif' x="0" y="3.4">S</text>
<text transform="translate(632.42,404.70) rotate(-35)" font-size="9.6" fill="#333" text-anchor="middle" font-family='"Liberation Sans", sans-serif' x="0" y="3.4">R</text>
<line x1="490.60" y1="422.00" x2="493.00" y2="422.00" stroke="#555" stroke-width="0.9" />
<text x="487.90" y="425.40" font-size="9.5" fill="#222" text-anchor="end" font-family='"Liberation Sans", sans-serif' font-weight="normal" font-style="normal" >0.00</text>
<line x1="490.60" y1="413.68" x2="492.10" y2="413.68" stroke="#555" stroke-width="0.9" />
<line x1="490.60" y1="405.35" x2="493.00" y2="405.35" stroke="#555" stroke-width="0.9" />
<text x="487.90" y="408.75" font-size="9.5" fill="#222" text-anchor="end" font-family='"Liberation Sans", sans-serif' font-weight="normal" font-style="normal" >0.15</text>
<line x1="490.60" y1="397.03" x2="492.10" y2="397.03" stroke="#555" stroke-width="0.9" />
<line x1="490.60" y1="388.70" x2="493.00" y2="388.70" stroke="#555" stroke-width="0.9" />
<text x="487.90" y="392.10" font-size="9.5" fill="#222" text-anchor="end" font-family='"Liberation Sans", sans-serif' font-weight="normal" font-style="normal" >0.30</text>
<line x1="496.60" y1="422.20" x2="496.60" y2="419.80" stroke="#555" stroke-width="0.9" />
<line x1="519.24" y1="422.20" x2="519.24" y2="420.70" stroke="#555" stroke-width="0.9" />
<line x1="541.88" y1="422.20" x2="541.88" y2="419.80" stroke="#555" stroke-width="0.9" />
<line x1="564.51" y1="422.20" x2="564.51" y2="420.70" stroke="#555" stroke-width="0.9" />
<line x1="587.15" y1="422.20" x2="587.15" y2="419.80" stroke="#555" stroke-width="0.9" />
<line x1="609.79" y1="422.20" x2="609.79" y2="420.70" stroke="#555" stroke-width="0.9" />
<line x1="632.42" y1="422.20" x2="632.42" y2="419.80" stroke="#555" stroke-width="0.9" />
<line x1="655.06" y1="422.20" x2="655.06" y2="420.70" stroke="#555" stroke-width="0.9" />
<line x1="677.70" y1="422.20" x2="677.70" y2="419.80" stroke="#555" stroke-width="0.9" />
<line x1="490.60" y1="422.20" x2="677.30" y2="422.20" stroke="#666" stroke-width="1" />
<line x1="541.88" y1="439.42" x2="541.88" y2="472.10" stroke="#999" stroke-width="0.8" stroke-dasharray="2,1.5"/>
<line x1="587.15" y1="439.42" x2="587.15" y2="472.10" stroke="#999" stroke-width="0.8" stroke-dasharray="2,1.5"/>
<line x1="632.42" y1="439.42" x2="632.42" y2="472.10" stroke="#999" stroke-width="0.8" stroke-dasharray="2,1.5"/>
<path d="M496.60,471.90 L496.83,462.57 L497.05,467.68 L497.28,463.97 L497.51,461.24 L497.73,459.18 L497.96,457.57 L498.18,456.27 L498.41,455.19 L498.64,454.27 L498.86,453.45 L499.09,452.73 L499.32,452.07 L499.54,451.46 L499.77,450.90 L500.00,450.37 L500.22,449.88 L500.45,449.41 L500.67,448.97 L500.90,448.56 L501.13,448.16 L502.03,446.78 L502.94,445.64 L503.84,444.70 L504.75,443.91 L505.66,443.25 L506.56,442.69 L507.47,442.22 L508.37,441.81 L509.28,441.45 L510.18,441.14 L511.09,440.86 L511.99,440.62 L512.90,440.40 L513.80,440.21 L514.71,440.03 L515.62,439.88 L516.52,439.73 L517.43,439.60 L518.33,439.48 L519.24,439.37 L520.14,439.26 L521.05,439.17 L521.95,439.08 L522.86,439.00 L523.76,438.92 L524.67,438.85 L525.58,438.79 L526.48,438.73 L527.39,438.67 L528.29,438.62 L529.20,438.57 L530.10,438.52 L531.01,438.48 L531.91,438.44 L532.82,438.40 L533.73,438.37 L534.63,438.33 L535.54,438.30 L536.44,438.27 L537.35,438.25 L538.25,438.22 L539.16,438.20 L540.06,438.17 L540.97,438.27 L541.88,438.81 L542.78,438.23 L543.69,438.10 L544.59,438.08 L545.50,438.06 L546.40,438.05 L547.31,438.03 L548.21,438.02 L549.12,438.01 L550.02,438.00 L550.93,437.98 L551.84,437.97 L552.74,437.96 L553.65,437.95 L554.55,437.94 L555.46,437.93 L556.36,437.93 L557.27,437.92 L558.17,437.91 L559.08,437.90 L559.99,437.89 L560.89,437.89 L561.80,437.88 L562.70,437.87 L563.61,437.87 L564.51,437.86 L565.42,437.86 L566.32,437.85 L567.23,437.84 L568.13,437.84 L569.04,437.83 L569.95,437.83 L570.85,437.82 L571.76,437.82 L572.66,437.81 L573.57,437.81 L574.47,437.80 L575.38,437.80 L576.28,437.80 L577.19,437.79 L578.10,437.79 L579.00,437.78 L579.91,437.78 L580.81,437.77 L581.72,437.77 L582.62,437.77 L583.53,437.76 L584.43,437.76 L585.34,437.75 L586.24,437.86 L587.15,438.42 L588.06,437.85 L588.96,437.74 L589.87,437.74 L590.77,437.73 L591.68,437.73 L592.58,437.72 L593.49,437.72 L594.39,437.72 L595.30,437.71 L596.21,437.71 L597.11,437.71 L598.02,437.70 L598.92,437.70 L599.83,437.70 L600.73,437.69 L601.64,437.69 L602.54,437.68 L603.45,437.68 L604.35,437.68 L605.26,437.67 L606.17,437.67 L607.07,437.67 L607.98,437.66 L608.88,437.66 L609.79,437.66 L610.69,437.65 L611.60,437.65 L612.50,437.65 L613.41,437.64 L614.32,437.64 L615.22,437.64 L616.13,437.63 L617.03,437.63 L617.94,437.63 L618.84,437.62 L619.75,437.62 L620.65,437.62 L621.56,437.61 L622.46,437.61 L623.37,437.61 L624.28,437.60 L625.18,437.60 L626.09,437.60 L626.99,437.59 L627.90,437.59 L628.80,437.59 L629.71,437.58 L630.61,437.58 L631.52,437.69 L632.42,438.24 L633.33,437.68 L634.24,437.57 L635.14,437.56 L636.05,437.56 L636.95,437.56 L637.86,437.55 L638.76,437.55 L639.67,437.55 L640.57,437.54 L641.48,437.54 L642.39,437.54 L643.29,437.53 L644.20,437.53 L645.10,437.53 L646.01,437.52 L646.91,437.52 L647.82,437.51 L648.72,437.51 L649.63,437.51 L650.54,437.50 L651.44,437.50 L652.35,437.50 L653.25,437.49 L654.16,437.49 L655.06,437.49 L655.97,437.48 L656.87,437.48 L657.78,437.48 L658.68,437.47 L659.59,437.47 L660.50,437.47 L661.40,437.46 L662.31,437.46 L663.21,437.46 L664.12,437.45 L665.02,437.45 L665.93,437.45 L666.83,437.44 L667.74,437.44 L668.64,437.44 L669.55,437.43 L670.46,437.43 L671.36,437.43 L672.27,437.42 L673.17,437.42 L674.08,437.42 L674.98,437.41 L675.89,437.41 L676.79,437.41 L677.70,437.40" stroke="#f04040" stroke-width="1.1" fill="none"/>
<text x="494.6" y="433.10" font-size="8.8" fill="#ee3a3a" font-family='"Liberation Sans", sans-serif'><tspan font-family='"Liberation Serif", serif' font-size="11">ε</tspan> = 200% with 4% s<tspan font-size="6" dy="-3">-1</tspan></text>
<text transform="translate(519.24,456.30) rotate(-35)" font-size="9.6" fill="#ee3a3a" text-anchor="middle" font-family='"Liberation Sans", sans-serif' x="0" y="3.4">S</text>
<text transform="translate(564.51,456.30) rotate(-35)" font-size="9.6" fill="#333" text-anchor="middle" font-family='"Liberation Sans", sans-serif' x="0" y="3.4">R</text>
<text transform="translate(609.79,456.30) rotate(-35)" font-size="9.6" fill="#ee3a3a" text-anchor="middle" font-family='"Liberation Sans", sans-serif' x="0" y="3.4">S</text>
<text transform="translate(655.06,456.30) rotate(-35)" font-size="9.6" fill="#333" text-anchor="middle" font-family='"Liberation Sans", sans-serif' x="0" y="3.4">R</text>
<line x1="490.60" y1="471.90" x2="493.00" y2="471.90" stroke="#555" stroke-width="0.9" />
<text x="487.90" y="475.30" font-size="9.5" fill="#222" text-anchor="end" font-family='"Liberation Sans", sans-serif' font-weight="normal" font-style="normal" >0.00</text>
<line x1="490.60" y1="463.50" x2="492.10" y2="463.50" stroke="#555" stroke-width="0.9" />
<line x1="490.60" y1="455.10" x2="493.00" y2="455.10" stroke="#555" stroke-width="0.9" />
<text x="487.90" y="458.50" font-size="9.5" fill="#222" text-anchor="end" font-family='"Liberation Sans", sans-serif' font-weight="normal" font-style="normal" >0.15</text>
<line x1="490.60" y1="446.70" x2="492.10" y2="446.70" stroke="#555" stroke-width="0.9" />
<line x1="490.60" y1="438.30" x2="493.00" y2="438.30" stroke="#555" stroke-width="0.9" />
<text x="487.90" y="441.70" font-size="9.5" fill="#222" text-anchor="end" font-family='"Liberation Sans", sans-serif' font-weight="normal" font-style="normal" >0.30</text>
<line x1="496.60" y1="472.10" x2="496.60" y2="469.70" stroke="#555" stroke-width="0.9" />
<line x1="519.24" y1="472.10" x2="519.24" y2="470.60" stroke="#555" stroke-width="0.9" />
<line x1="541.88" y1="472.10" x2="541.88" y2="469.70" stroke="#555" stroke-width="0.9" />
<line x1="564.51" y1="472.10" x2="564.51" y2="470.60" stroke="#555" stroke-width="0.9" />
<line x1="587.15" y1="472.10" x2="587.15" y2="469.70" stroke="#555" stroke-width="0.9" />
<line x1="609.79" y1="472.10" x2="609.79" y2="470.60" stroke="#555" stroke-width="0.9" />
<line x1="632.42" y1="472.10" x2="632.42" y2="469.70" stroke="#555" stroke-width="0.9" />
<line x1="655.06" y1="472.10" x2="655.06" y2="470.60" stroke="#555" stroke-width="0.9" />
<line x1="677.70" y1="472.10" x2="677.70" y2="469.70" stroke="#555" stroke-width="0.9" />
<line x1="490.60" y1="472.10" x2="677.30" y2="472.10" stroke="#666" stroke-width="1" />
<line x1="526.75" y1="489.31" x2="526.75" y2="521.60" stroke="#999" stroke-width="0.8" stroke-dasharray="2,1.5"/>
<line x1="557.00" y1="489.31" x2="557.00" y2="521.60" stroke="#999" stroke-width="0.8" stroke-dasharray="2,1.5"/>
<line x1="587.15" y1="489.31" x2="587.15" y2="521.60" stroke="#999" stroke-width="0.8" stroke-dasharray="2,1.5"/>
<line x1="617.30" y1="489.31" x2="617.30" y2="521.60" stroke="#999" stroke-width="0.8" stroke-dasharray="2,1.5"/>
<line x1="647.55" y1="489.31" x2="647.55" y2="521.60" stroke="#999" stroke-width="0.8" stroke-dasharray="2,1.5"/>
<path d="M496.60,521.40 L496.83,512.18 L497.05,517.23 L497.28,513.56 L497.51,510.87 L497.73,508.83 L497.96,507.24 L498.18,505.96 L498.41,504.89 L498.64,503.98 L498.86,503.17 L499.09,502.46 L499.32,501.80 L499.54,501.21 L499.77,500.65 L500.00,500.13 L500.22,499.64 L500.45,499.18 L500.67,498.75 L500.90,498.34 L501.13,497.95 L502.03,496.58 L502.94,495.45 L503.84,494.52 L504.75,493.74 L505.66,493.09 L506.56,492.54 L507.47,492.07 L508.37,491.66 L509.28,491.31 L510.18,491.00 L511.09,490.73 L511.99,490.49 L512.90,490.28 L513.80,490.09 L514.71,489.91 L515.62,489.76 L516.52,489.61 L517.43,489.48 L518.33,489.36 L519.24,489.25 L520.14,489.15 L521.05,489.06 L521.95,488.97 L522.86,488.89 L523.76,488.82 L524.67,488.75 L525.58,488.68 L526.48,489.12 L527.39,488.84 L528.29,488.51 L529.20,488.47 L530.10,488.42 L531.01,488.38 L531.91,488.34 L532.82,488.30 L533.73,488.27 L534.63,488.23 L535.54,488.20 L536.44,488.17 L537.35,488.15 L538.25,488.12 L539.16,488.10 L540.06,488.08 L540.97,488.06 L541.88,488.04 L542.78,488.02 L543.69,488.00 L544.59,487.98 L545.50,487.97 L546.40,487.95 L547.31,487.94 L548.21,487.92 L549.12,487.91 L550.02,487.90 L550.93,487.89 L551.84,487.88 L552.74,487.87 L553.65,487.86 L554.55,487.85 L555.46,487.84 L556.36,488.11 L557.27,488.32 L558.17,487.81 L559.08,487.81 L559.99,487.80 L560.89,487.79 L561.80,487.79 L562.70,487.78 L563.61,487.77 L564.51,487.77 L565.42,487.76 L566.32,487.76 L567.23,487.75 L568.13,487.74 L569.04,487.74 L569.95,487.73 L570.85,487.73 L571.76,487.72 L572.66,487.72 L573.57,487.71 L574.47,487.71 L575.38,487.71 L576.28,487.70 L577.19,487.70 L578.10,487.69 L579.00,487.69 L579.91,487.68 L580.81,487.68 L581.72,487.68 L582.62,487.67 L583.53,487.67 L584.43,487.66 L585.34,487.66 L586.24,487.77 L587.15,488.32 L588.06,487.76 L588.96,487.65 L589.87,487.64 L590.77,487.64 L591.68,487.63 L592.58,487.63 L593.49,487.63 L594.39,487.62 L595.30,487.62 L596.21,487.62 L597.11,487.61 L598.02,487.61 L598.92,487.61 L599.83,487.60 L600.73,487.60 L601.64,487.60 L602.54,487.59 L603.45,487.59 L604.35,487.59 L605.26,487.58 L606.17,487.58 L607.07,487.57 L607.98,487.57 L608.88,487.57 L609.79,487.56 L610.69,487.56 L611.60,487.56 L612.50,487.55 L613.41,487.55 L614.32,487.55 L615.22,487.54 L616.13,487.54 L617.03,488.04 L617.94,487.81 L618.84,487.53 L619.75,487.53 L620.65,487.52 L621.56,487.52 L622.46,487.52 L623.37,487.51 L624.28,487.51 L625.18,487.51 L626.09,487.50 L626.99,487.50 L627.90,487.50 L628.80,487.49 L629.71,487.49 L630.61,487.49 L631.52,487.48 L632.42,487.48 L633.33,487.48 L634.24,487.47 L635.14,487.47 L636.05,487.47 L636.95,487.46 L637.86,487.46 L638.76,487.46 L639.67,487.45 L640.57,487.45 L641.48,487.45 L642.39,487.44 L643.29,487.44 L644.20,487.44 L645.10,487.43 L646.01,487.43 L646.91,487.70 L647.82,487.92 L648.72,487.42 L649.63,487.42 L650.54,487.41 L651.44,487.41 L652.35,487.41 L653.25,487.40 L654.16,487.40 L655.06,487.40 L655.97,487.39 L656.87,487.39 L657.78,487.39 L658.68,487.38 L659.59,487.38 L660.50,487.38 L661.40,487.37 L662.31,487.37 L663.21,487.37 L664.12,487.36 L665.02,487.36 L665.93,487.36 L666.83,487.35 L667.74,487.35 L668.64,487.35 L669.55,487.34 L670.46,487.34 L671.36,487.34 L672.27,487.33 L673.17,487.33 L674.08,487.33 L674.98,487.32 L675.89,487.32 L676.79,487.32 L677.70,487.31" stroke="#2f62c8" stroke-width="1.1" fill="none"/>
<text x="494.6" y="483.00" font-size="8.8" fill="#2c5fc4" font-family='"Liberation Sans", sans-serif'><tspan font-family='"Liberation Serif", serif' font-size="11">ε</tspan> = 200% with 6% s<tspan font-size="6" dy="-3">-1</tspan></text>
<text transform="translate(511.68,507.00) rotate(-35)" font-size="9.6" fill="#2c5fc4" text-anchor="middle" font-family='"Liberation Sans", sans-serif' x="0" y="3.4">S</text>
<text transform="translate(541.88,507.00) rotate(-35)" font-size="9.6" fill="#333" text-anchor="middle" font-family='"Liberation Sans", sans-serif' x="0" y="3.4">R</text>
<text transform="translate(572.07,507.00) rotate(-35)" font-size="9.6" fill="#2c5fc4" text-anchor="middle" font-family='"Liberation Sans", sans-serif' x="0" y="3.4">S</text>
<text transform="translate(602.23,507.00) rotate(-35)" font-size="9.6" fill="#333" text-anchor="middle" font-family='"Liberation Sans", sans-serif' x="0" y="3.4">R</text>
<text transform="translate(632.42,507.00) rotate(-35)" font-size="9.6" fill="#2c5fc4" text-anchor="middle" font-family='"Liberation Sans", sans-serif' x="0" y="3.4">S</text>
<text transform="translate(662.62,507.00) rotate(-35)" font-size="9.6" fill="#333" text-anchor="middle" font-family='"Liberation Sans", sans-serif' x="0" y="3.4">R</text>
<line x1="490.60" y1="521.40" x2="493.00" y2="521.40" stroke="#555" stroke-width="0.9" />
<text x="487.90" y="524.80" font-size="9.5" fill="#222" text-anchor="end" font-family='"Liberation Sans", sans-serif' font-weight="normal" font-style="normal" >0.00</text>
<line x1="490.60" y1="513.10" x2="492.10" y2="513.10" stroke="#555" stroke-width="0.9" />
<line x1="490.60" y1="504.80" x2="493.00" y2="504.80" stroke="#555" stroke-width="0.9" />
<text x="487.90" y="508.20" font-size="9.5" fill="#222" text-anchor="end" font-family='"Liberation Sans", sans-serif' font-weight="normal" font-style="normal" >0.15</text>
<line x1="490.60" y1="496.50" x2="492.10" y2="496.50" stroke="#555" stroke-width="0.9" />
<line x1="490.60" y1="488.20" x2="493.00" y2="488.20" stroke="#555" stroke-width="0.9" />
<text x="487.90" y="491.60" font-size="9.5" fill="#222" text-anchor="end" font-family='"Liberation Sans", sans-serif' font-weight="normal" font-style="normal" >0.30</text>
<line x1="496.60" y1="521.60" x2="496.60" y2="519.20" stroke="#555" stroke-width="0.9" />
<line x1="519.24" y1="521.60" x2="519.24" y2="520.10" stroke="#555" stroke-width="0.9" />
<line x1="541.88" y1="521.60" x2="541.88" y2="519.20" stroke="#555" stroke-width="0.9" />
<line x1="564.51" y1="521.60" x2="564.51" y2="520.10" stroke="#555" stroke-width="0.9" />
<line x1="587.15" y1="521.60" x2="587.15" y2="519.20" stroke="#555" stroke-width="0.9" />
<line x1="609.79" y1="521.60" x2="609.79" y2="520.10" stroke="#555" stroke-width="0.9" />
<line x1="632.42" y1="521.60" x2="632.42" y2="519.20" stroke="#555" stroke-width="0.9" />
<line x1="655.06" y1="521.60" x2="655.06" y2="520.10" stroke="#555" stroke-width="0.9" />
<line x1="677.70" y1="521.60" x2="677.70" y2="519.20" stroke="#555" stroke-width="0.9" />
<rect x="490.6" y="372.6" width="186.69999999999993" height="149.0" fill="none" stroke="#666" stroke-width="1"/>
<line x1="490.60" y1="521.60" x2="677.30" y2="521.60" stroke="#8a8a8a" stroke-width="1.7" />
<text x="496.60" y="533.00" font-size="9.6" fill="#222" text-anchor="middle" font-family='"Liberation Sans", sans-serif' font-weight="normal" font-style="normal" >0</text>
<text x="541.88" y="533.00" font-size="9.6" fill="#222" text-anchor="middle" font-family='"Liberation Sans", sans-serif' font-weight="normal" font-style="normal" >50</text>
<text x="587.15" y="533.00" font-size="9.6" fill="#222" text-anchor="middle" font-family='"Liberation Sans", sans-serif' font-weight="normal" font-style="normal" >100</text>
<text x="632.42" y="533.00" font-size="9.6" fill="#222" text-anchor="middle" font-family='"Liberation Sans", sans-serif' font-weight="normal" font-style="normal" >150</text>
<text x="677.40" y="533.00" font-size="9.6" fill="#222" text-anchor="middle" font-family='"Liberation Sans", sans-serif' font-weight="normal" font-style="normal" >200</text>
<text x="583.90" y="550.00" font-size="12.5" fill="#222" text-anchor="middle" font-family='"Liberation Sans", sans-serif' font-weight="normal" font-style="normal" >Time (s)</text>
<text transform="translate(462.8,449.5) rotate(-90)" font-size="10.6" fill="#222" text-anchor="middle" font-family='"Liberation Sans", sans-serif'>Voltage (V)</text>
</svg></body></html>
